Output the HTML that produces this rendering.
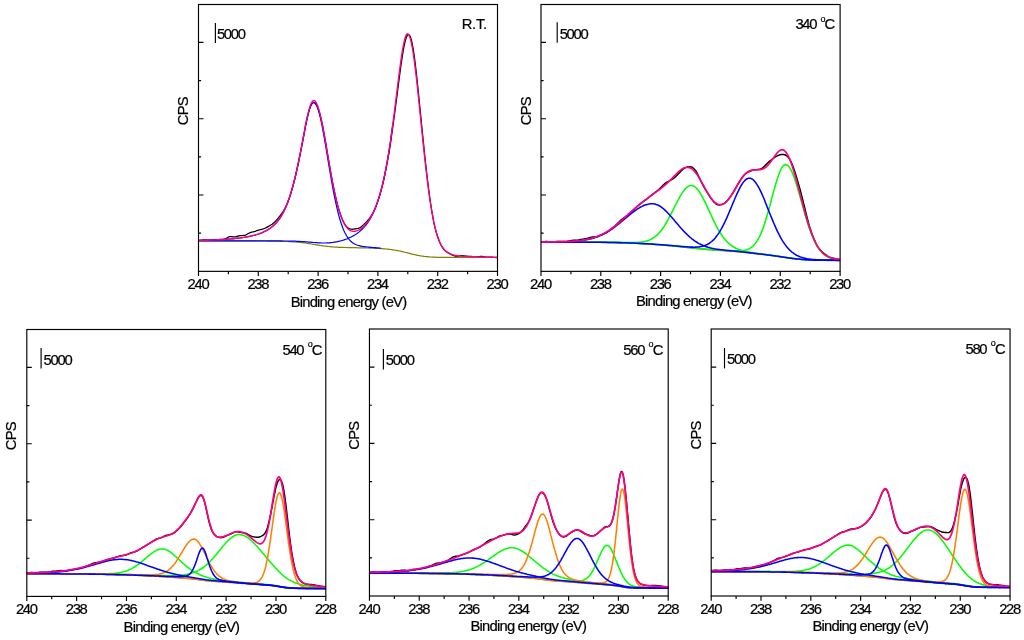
<!DOCTYPE html>
<html><head><meta charset="utf-8"><title>XPS Mo 3d spectra</title>
<style>
html,body{margin:0;padding:0;background:#fff;}
body{width:1024px;height:640px;overflow:hidden;}
svg{display:block;will-change:transform;}
text{font-family:"Liberation Sans",Arial,Helvetica,sans-serif;fill:#000;font-size:14.8px;stroke:#000;stroke-width:0.2px;}
.t{letter-spacing:-1.3px;}
.a{letter-spacing:-0.8px;}
.c{letter-spacing:-0.85px;}
.r{letter-spacing:-0.3px;}
.o{font-size:9px;}
</style></head><body>
<svg width="1024" height="640" viewBox="0 0 1024 640">
<rect width="1024" height="640" fill="#fff"/>
<clipPath id="cRT"><rect x="198.5" y="4.5" width="299.6" height="266.9"/></clipPath>
<g fill="none" stroke-linejoin="round" stroke-width="1.2" clip-path="url(#cRT)">
<path d="M198.5,240.5 199.4,240.4 200.3,240.3 201.2,240.1 202.1,240.0 203.0,239.9 203.9,239.9 204.8,239.9 205.7,239.9 206.6,240.0 207.5,240.1 208.4,240.2 209.3,240.3 210.2,240.2 211.1,240.1 212.0,239.9 212.9,239.8 213.8,239.6 214.7,239.5 215.6,239.5 216.5,239.5 217.4,239.5 218.3,239.5 219.2,239.5 220.0,239.4 220.9,239.4 221.8,239.3 222.7,239.3 223.6,239.2 224.5,239.0 225.4,238.8 226.3,238.4 227.2,237.9 228.1,237.3 229.0,236.8 229.9,236.5 230.8,236.5 231.7,236.6 232.6,236.8 233.5,236.9 234.4,236.9 235.3,236.8 236.2,236.6 237.1,236.3 238.0,236.1 238.9,235.9 239.8,235.7 240.7,235.6 241.6,235.5 242.5,235.5 243.4,235.4 244.3,235.3 245.2,235.1 246.1,234.8 247.0,234.3 247.9,233.8 248.8,233.3 249.7,232.9 250.6,232.5 251.5,232.2 252.4,232.0 253.3,231.8 254.2,231.6 255.1,231.4 256.0,231.0 256.9,230.7 257.8,230.4 258.7,230.1 259.6,229.9 260.5,229.7 261.4,229.4 262.3,229.2 263.1,229.0 264.0,228.7 264.9,228.3 265.8,227.9 266.7,227.4 267.6,226.9 268.5,226.4 269.4,225.8 270.3,225.3 271.2,224.8 272.1,224.2 273.0,223.5 273.9,222.8 274.8,221.9 275.7,220.9 276.6,219.9 277.5,218.8 278.4,217.8 279.3,216.7 280.2,215.6 281.1,214.5 282.0,213.2 282.9,211.9 283.8,210.4 284.7,208.8 285.6,207.0 286.5,205.0 287.4,202.9 288.3,200.6 289.2,198.1 290.1,195.4 291.0,192.5 291.9,189.5 292.8,186.2 293.7,182.8 294.6,179.2 295.5,175.5 296.4,171.6 297.3,167.5 298.2,163.3 299.1,159.0 300.0,154.5 300.9,150.0 301.8,145.4 302.7,140.7 303.6,136.0 304.5,131.3 305.3,126.7 306.2,122.3 307.1,118.1 308.0,114.3 308.9,111.0 309.8,108.1 310.7,105.8 311.6,104.1 312.5,103.0 313.4,102.5 314.3,102.7 315.2,103.3 316.1,104.5 317.0,106.0 317.9,108.1 318.8,110.6 319.7,113.5 320.6,116.9 321.5,120.7 322.4,124.9 323.3,129.4 324.2,134.3 325.1,139.4 326.0,144.7 326.9,150.1 327.8,155.5 328.7,160.9 329.6,166.1 330.5,171.2 331.4,176.2 332.3,181.0 333.2,185.6 334.1,190.0 335.0,194.2 335.9,198.2 336.8,201.9 337.7,205.4 338.6,208.6 339.5,211.6 340.4,214.4 341.3,216.8 342.2,219.1 343.1,221.0 344.0,222.8 344.9,224.3 345.8,225.6 346.7,226.7 347.6,227.6 348.4,228.2 349.3,228.7 350.2,229.0 351.1,229.2 352.0,229.3 352.9,229.2 353.8,229.1 354.7,228.9 355.6,228.8 356.5,228.7 357.4,228.5 358.3,228.4 359.2,228.0 360.1,227.6 361.0,227.0 361.9,226.2 362.8,225.4 363.7,224.6 364.6,223.7 365.5,222.9 366.4,222.0 367.3,221.0 368.2,219.9 369.1,218.8 370.0,217.6 370.9,216.3 371.8,214.9 372.7,213.3 373.6,211.7 374.5,209.8 375.4,207.7 376.3,205.4 377.2,202.9 378.1,200.3 379.0,197.6 379.9,194.7 380.8,191.6 381.7,188.4 382.6,184.8 383.5,181.0 384.4,177.0 385.3,172.7 386.2,168.2 387.1,163.4 388.0,158.5 388.9,153.3 389.8,147.9 390.7,142.2 391.5,136.2 392.4,130.0 393.3,123.5 394.2,116.9 395.1,110.1 396.0,103.2 396.9,96.3 397.8,89.3 398.7,82.4 399.6,75.5 400.5,68.8 401.4,62.4 402.3,56.4 403.2,50.9 404.1,46.1 405.0,42.0 405.9,38.7 406.8,36.3 407.7,34.9 408.6,34.5 409.5,35.2 410.4,36.9 411.3,39.7 412.2,43.5 413.1,48.4 414.0,54.2 414.9,60.9 415.8,68.3 416.7,76.3 417.6,84.8 418.5,93.5 419.4,102.5 420.3,111.5 421.2,120.6 422.1,129.5 423.0,138.4 423.9,147.1 424.8,155.7 425.7,164.0 426.6,172.1 427.5,179.8 428.4,187.3 429.3,194.3 430.2,200.8 431.1,206.8 432.0,212.3 432.9,217.3 433.7,221.9 434.6,225.9 435.5,229.6 436.4,232.8 437.3,235.8 438.2,238.4 439.1,240.7 440.0,242.8 440.9,244.7 441.8,246.4 442.7,247.8 443.6,249.1 444.5,250.1 445.4,250.9 446.3,251.6 447.2,252.2 448.1,252.8 449.0,253.3 449.9,253.8 450.8,254.3 451.7,254.8 452.6,255.3 453.5,255.6 454.4,255.9 455.3,256.1 456.2,256.2 457.1,256.2 458.0,256.1 458.9,256.0 459.8,255.9 460.7,255.7 461.6,255.6 462.5,255.6 463.4,255.7 464.3,255.8 465.2,256.0 466.1,256.1 467.0,256.2 467.9,256.3 468.8,256.3 469.7,256.3 470.6,256.3 471.5,256.4 472.4,256.5 473.3,256.6 474.2,256.7 475.1,256.8 476.0,256.9 476.8,256.9 477.7,256.8 478.6,256.7 479.5,256.5 480.4,256.4 481.3,256.4 482.2,256.4 483.1,256.5 484.0,256.7 484.9,256.8 485.8,257.0 486.7,257.1 487.6,257.1 488.5,257.1 489.4,257.0 490.3,257.0 491.2,257.0 492.1,257.1 493.0,257.3 493.9,257.4 494.8,257.5 495.7,257.6 496.6,257.6 497.5,257.6" stroke="#000000" stroke-width="1.25"/>
<path d="M198.5,240.8 199.4,240.8 200.3,240.8 201.2,240.8 202.1,240.8 203.0,240.8 203.9,240.8 204.8,240.8 205.7,240.8 206.6,240.8 207.5,240.8 208.4,240.8 209.3,240.8 210.2,240.8 211.1,240.8 212.0,240.8 212.9,240.8 213.8,240.8 214.7,240.8 215.6,240.8 216.5,240.8 217.4,240.8 218.3,240.8 219.2,240.8 220.0,240.8 220.9,240.8 221.8,240.8 222.7,240.8 223.6,240.8 224.5,240.8 225.4,240.8 226.3,240.8 227.2,240.8 228.1,240.8 229.0,240.8 229.9,240.8 230.8,240.8 231.7,240.8 232.6,240.8 233.5,240.8 234.4,240.8 235.3,240.8 236.2,240.9 237.1,240.9 238.0,240.9 238.9,240.9 239.8,240.9 240.7,240.9 241.6,240.9 242.5,240.9 243.4,240.9 244.3,240.9 245.2,240.9 246.1,240.9 247.0,240.9 247.9,240.9 248.8,240.9 249.7,240.9 250.6,240.9 251.5,240.9 252.4,240.9 253.3,240.9 254.2,240.9 255.1,240.9 256.0,240.9 256.9,240.9 257.8,241.0 258.7,241.0 259.6,241.0 260.5,241.0 261.4,241.0 262.3,241.0 263.1,241.0 264.0,241.0 264.9,241.0 265.8,241.0 266.7,241.0 267.6,241.1 268.5,241.1 269.4,241.1 270.3,241.1 271.2,241.1 272.1,241.1 273.0,241.1 273.9,241.2 274.8,241.2 275.7,241.2 276.6,241.2 277.5,241.2 278.4,241.2 279.3,241.3 280.2,241.3 281.1,241.3 282.0,241.3 282.9,241.4 283.8,241.4 284.7,241.4 285.6,241.5 286.5,241.5 287.4,241.5 288.3,241.6 289.2,241.6 290.1,241.7 291.0,241.7 291.9,241.8 292.8,241.8 293.7,241.9 294.6,242.0 295.5,242.0 296.4,242.1 297.3,242.2 298.2,242.2 299.1,242.3 300.0,242.4 300.9,242.5 301.8,242.6 302.7,242.7 303.6,242.8 304.5,242.9 305.3,243.0 306.2,243.2 307.1,243.3 308.0,243.4 308.9,243.6 309.8,243.7 310.7,243.9 311.6,244.0 312.5,244.2 313.4,244.3 314.3,244.5 315.2,244.6 316.1,244.8 317.0,244.9 317.9,245.1 318.8,245.2 319.7,245.3 320.6,245.5 321.5,245.6 322.4,245.8 323.3,245.9 324.2,246.0 325.1,246.1 326.0,246.2 326.9,246.3 327.8,246.4 328.7,246.5 329.6,246.6 330.5,246.7 331.4,246.8 332.3,246.9 333.2,246.9 334.1,247.0 335.0,247.1 335.9,247.1 336.8,247.2 337.7,247.2 338.6,247.3 339.5,247.3 340.4,247.3 341.3,247.4 342.2,247.4 343.1,247.4 344.0,247.5 344.9,247.5 345.8,247.5 346.7,247.5 347.6,247.6 348.4,247.6 349.3,247.6 350.2,247.6 351.1,247.6 352.0,247.7 352.9,247.7 353.8,247.7 354.7,247.7 355.6,247.7 356.5,247.7 357.4,247.8 358.3,247.8 359.2,247.8 360.1,247.8 361.0,247.8 361.9,247.9 362.8,247.9 363.7,247.9 364.6,247.9 365.5,248.0 366.4,248.0 367.3,248.0 368.2,248.0 369.1,248.1 370.0,248.1 370.9,248.1 371.8,248.2 372.7,248.2 373.6,248.2 374.5,248.3 375.4,248.3 376.3,248.3 377.2,248.4 378.1,248.4 379.0,248.5 379.9,248.5 380.8,248.6 381.7,248.7 382.6,248.7 383.5,248.8 384.4,248.9 385.3,248.9 386.2,249.0 387.1,249.1 388.0,249.2 388.9,249.3 389.8,249.4 390.7,249.5 391.5,249.6 392.4,249.8 393.3,249.9 394.2,250.0 395.1,250.2 396.0,250.3 396.9,250.5 397.8,250.7 398.7,250.8 399.6,251.0 400.5,251.2 401.4,251.4 402.3,251.6 403.2,251.8 404.1,252.0 405.0,252.3 405.9,252.5 406.8,252.7 407.7,252.9 408.6,253.2 409.5,253.4 410.4,253.6 411.3,253.9 412.2,254.1 413.1,254.3 414.0,254.5 414.9,254.7 415.8,254.9 416.7,255.1 417.6,255.3 418.5,255.5 419.4,255.6 420.3,255.8 421.2,256.0 422.1,256.1 423.0,256.2 423.9,256.3 424.8,256.5 425.7,256.6 426.6,256.7 427.5,256.7 428.4,256.8 429.3,256.9 430.2,257.0 431.1,257.0 432.0,257.1 432.9,257.1 433.7,257.2 434.6,257.2 435.5,257.2 436.4,257.3 437.3,257.3 438.2,257.3 439.1,257.3 440.0,257.3 440.9,257.4 441.8,257.4 442.7,257.4 443.6,257.4 444.5,257.4 445.4,257.4 446.3,257.4 447.2,257.4 448.1,257.4 449.0,257.4 449.9,257.4 450.8,257.4 451.7,257.4 452.6,257.5 453.5,257.5 454.4,257.5 455.3,257.5 456.2,257.5 457.1,257.5 458.0,257.5 458.9,257.5 459.8,257.5 460.7,257.5 461.6,257.5 462.5,257.5 463.4,257.5 464.3,257.5 465.2,257.5 466.1,257.5 467.0,257.5 467.9,257.5 468.8,257.5 469.7,257.5 470.6,257.5 471.5,257.5 472.4,257.5 473.3,257.5 474.2,257.5 475.1,257.5 476.0,257.5 476.8,257.5 477.7,257.5 478.6,257.5 479.5,257.5 480.4,257.5 481.3,257.5 482.2,257.5 483.1,257.5 484.0,257.5 484.9,257.5 485.8,257.5 486.7,257.5 487.6,257.5 488.5,257.5 489.4,257.5 490.3,257.5 491.2,257.5 492.1,257.5 493.0,257.5 493.9,257.5 494.8,257.5 495.7,257.5 496.6,257.5 497.5,257.5" stroke="#808000"/>
<path d="M198.5,240.4 199.4,240.4 200.3,240.4 201.2,240.3 202.1,240.3 203.0,240.3 203.9,240.3 204.8,240.2 205.7,240.2 206.6,240.2 207.5,240.2 208.4,240.1 209.3,240.1 210.2,240.1 211.1,240.1 212.0,240.0 212.9,240.0 213.8,240.0 214.7,239.9 215.6,239.9 216.5,239.8 217.4,239.8 218.3,239.8 219.2,239.7 220.0,239.7 220.9,239.6 221.8,239.6 222.7,239.5 223.6,239.5 224.5,239.4 225.4,239.3 226.3,239.3 227.2,239.2 228.1,239.2 229.0,239.1 229.9,239.0 230.8,238.9 231.7,238.9 232.6,238.8 233.5,238.7 234.4,238.6 235.3,238.5 236.2,238.4 237.1,238.3 238.0,238.2 238.9,238.1 239.8,238.0 240.7,237.9 241.6,237.7 242.5,237.6 243.4,237.5 244.3,237.3 245.2,237.2 246.1,237.0 247.0,236.9 247.9,236.7 248.8,236.5 249.7,236.4 250.6,236.2 251.5,236.0 252.4,235.8 253.3,235.5 254.2,235.3 255.1,235.1 256.0,234.8 256.9,234.5 257.8,234.3 258.7,234.0 259.6,233.7 260.5,233.3 261.4,233.0 262.3,232.6 263.1,232.2 264.0,231.8 264.9,231.4 265.8,231.0 266.7,230.5 267.6,230.0 268.5,229.4 269.4,228.8 270.3,228.2 271.2,227.6 272.1,226.9 273.0,226.1 273.9,225.3 274.8,224.4 275.7,223.5 276.6,222.5 277.5,221.5 278.4,220.3 279.3,219.1 280.2,217.8 281.1,216.4 282.0,214.9 282.9,213.3 283.8,211.6 284.7,209.8 285.6,207.8 286.5,205.8 287.4,203.5 288.3,201.2 289.2,198.6 290.1,196.0 291.0,193.1 291.9,190.1 292.8,186.9 293.7,183.6 294.6,180.0 295.5,176.3 296.4,172.5 297.3,168.4 298.2,164.2 299.1,159.9 300.0,155.4 300.9,150.9 301.8,146.2 302.7,141.5 303.6,136.8 304.5,132.2 305.3,127.6 306.2,123.2 307.1,119.0 308.0,115.2 308.9,111.7 309.8,108.6 310.7,106.1 311.6,104.2 312.5,103.0 313.4,102.4 314.3,102.5 315.2,103.2 316.1,104.5 317.0,106.4 317.9,108.8 318.8,111.7 319.7,115.1 320.6,118.9 321.5,123.1 322.4,127.7 323.3,132.5 324.2,137.5 325.1,142.7 326.0,148.0 326.9,153.4 327.8,158.9 328.7,164.3 329.6,169.7 330.5,175.0 331.4,180.2 332.3,185.2 333.2,190.1 334.1,194.8 335.0,199.2 335.9,203.4 336.8,207.4 337.7,211.2 338.6,214.7 339.5,218.0 340.4,221.0 341.3,223.8 342.2,226.3 343.1,228.7 344.0,230.8 344.9,232.7 345.8,234.4 346.7,236.0 347.6,237.4 348.4,238.6 349.3,239.7 350.2,240.7 351.1,241.5 352.0,242.3 352.9,242.9 353.8,243.5 354.7,244.0 355.6,244.5 356.5,244.8 357.4,245.2 358.3,245.5 359.2,245.7 360.1,245.9 361.0,246.1 361.9,246.3 362.8,246.5 363.7,246.6 364.6,246.7 365.5,246.8 366.4,246.9 367.3,247.0 368.2,247.1 369.1,247.2 370.0,247.3 370.9,247.4 371.8,247.4 372.7,247.5 373.6,247.6 374.5,247.6 375.4,247.7 376.3,247.8 377.2,247.9 378.1,247.9 379.0,248.0 379.9,248.1 380.8,248.2" stroke="#0000ff"/>
<path d="M198.5,240.8 199.4,240.8 200.3,240.8 201.2,240.8 202.1,240.8 203.0,240.8 203.9,240.8 204.8,240.8 205.7,240.8 206.6,240.8 207.5,240.8 208.4,240.8 209.3,240.8 210.2,240.8 211.1,240.8 212.0,240.8 212.9,240.8 213.8,240.8 214.7,240.8 215.6,240.8 216.5,240.8 217.4,240.8 218.3,240.8 219.2,240.8 220.0,240.8 220.9,240.8 221.8,240.8 222.7,240.8 223.6,240.8 224.5,240.8 225.4,240.8 226.3,240.8 227.2,240.8 228.1,240.8 229.0,240.8 229.9,240.8 230.8,240.8 231.7,240.8 232.6,240.8 233.5,240.8 234.4,240.8 235.3,240.8 236.2,240.8 237.1,240.8 238.0,240.8 238.9,240.8 239.8,240.8 240.7,240.8 241.6,240.8 242.5,240.8 243.4,240.8 244.3,240.8 245.2,240.8 246.1,240.8 247.0,240.8 247.9,240.8 248.8,240.8 249.7,240.8 250.6,240.8 251.5,240.8 252.4,240.8 253.3,240.8 254.2,240.8 255.1,240.8 256.0,240.8 256.9,240.8 257.8,240.8 258.7,240.8 259.6,240.8 260.5,240.9 261.4,240.9 262.3,240.9 263.1,240.9 264.0,240.9 264.9,240.9 265.8,240.9 266.7,240.9 267.6,240.9 268.5,240.9 269.4,240.9 270.3,240.9 271.2,240.9 272.1,240.9 273.0,240.9 273.9,240.9 274.8,240.9 275.7,240.9 276.6,240.9 277.5,240.9 278.4,240.9 279.3,240.9 280.2,240.9 281.1,240.9 282.0,240.9 282.9,241.0 283.8,241.0 284.7,241.0 285.6,241.0 286.5,241.0 287.4,241.0 288.3,241.0 289.2,241.1 290.1,241.1 291.0,241.1 291.9,241.1 292.8,241.2 293.7,241.2 294.6,241.2 295.5,241.2 296.4,241.3 297.3,241.3 298.2,241.4 299.1,241.4 300.0,241.4 300.9,241.5 301.8,241.6 302.7,241.6 303.6,241.7 304.5,241.7 305.3,241.8 306.2,241.9 307.1,241.9 308.0,242.0 308.9,242.1 309.8,242.2 310.7,242.2 311.6,242.3 312.5,242.4 313.4,242.5 314.3,242.5 315.2,242.6 316.1,242.7 317.0,242.7 317.9,242.8 318.8,242.9 319.7,242.9 320.6,242.9 321.5,243.0 322.4,243.0 323.3,243.0 324.2,243.0 325.1,243.0 326.0,243.0 326.9,242.9 327.8,242.9 328.7,242.8 329.6,242.8 330.5,242.7 331.4,242.6 332.3,242.5 333.2,242.4 334.1,242.2 335.0,242.1 335.9,241.9 336.8,241.8 337.7,241.6 338.6,241.4 339.5,241.2 340.4,241.0 341.3,240.7 342.2,240.5 343.1,240.2 344.0,239.9 344.9,239.6 345.8,239.3 346.7,239.0 347.6,238.6 348.4,238.2 349.3,237.8 350.2,237.4 351.1,237.0 352.0,236.5 352.9,236.1 353.8,235.5 354.7,235.0 355.6,234.4 356.5,233.9 357.4,233.2 358.3,232.6 359.2,231.9 360.1,231.1 361.0,230.3 361.9,229.5 362.8,228.6 363.7,227.7 364.6,226.7 365.5,225.6 366.4,224.5 367.3,223.3 368.2,222.0 369.1,220.6 370.0,219.1 370.9,217.6 371.8,215.9 372.7,214.1 373.6,212.2 374.5,210.2 375.4,208.0 376.3,205.6 377.2,203.2 378.1,200.5 379.0,197.6 379.9,194.6 380.8,191.4 381.7,187.9 382.6,184.3 383.5,180.4 384.4,176.2 385.3,171.8 386.2,167.2 387.1,162.3 388.0,157.1 388.9,151.6 389.8,145.9 390.7,139.9 391.5,133.7 392.4,127.2" stroke="#0000ff"/>
<path d="M198.5,240.4 199.4,240.4 200.3,240.4 201.2,240.3 202.1,240.3 203.0,240.3 203.9,240.3 204.8,240.2 205.7,240.2 206.6,240.2 207.5,240.2 208.4,240.1 209.3,240.1 210.2,240.1 211.1,240.0 212.0,240.0 212.9,240.0 213.8,239.9 214.7,239.9 215.6,239.9 216.5,239.8 217.4,239.8 218.3,239.7 219.2,239.7 220.0,239.7 220.9,239.6 221.8,239.6 222.7,239.5 223.6,239.4 224.5,239.4 225.4,239.3 226.3,239.3 227.2,239.2 228.1,239.1 229.0,239.1 229.9,239.0 230.8,238.9 231.7,238.8 232.6,238.8 233.5,238.7 234.4,238.6 235.3,238.5 236.2,238.4 237.1,238.3 238.0,238.2 238.9,238.1 239.8,238.0 240.7,237.8 241.6,237.7 242.5,237.6 243.4,237.4 244.3,237.3 245.2,237.1 246.1,237.0 247.0,236.8 247.9,236.7 248.8,236.5 249.7,236.3 250.6,236.1 251.5,235.9 252.4,235.7 253.3,235.4 254.2,235.2 255.1,235.0 256.0,234.7 256.9,234.4 257.8,234.2 258.7,233.9 259.6,233.5 260.5,233.2 261.4,232.9 262.3,232.5 263.1,232.1 264.0,231.7 264.9,231.2 265.8,230.8 266.7,230.3 267.6,229.8 268.5,229.2 269.4,228.6 270.3,228.0 271.2,227.3 272.1,226.6 273.0,225.9 273.9,225.0 274.8,224.2 275.7,223.2 276.6,222.2 277.5,221.2 278.4,220.0 279.3,218.8 280.2,217.5 281.1,216.1 282.0,214.5 282.9,212.9 283.8,211.2 284.7,209.3 285.6,207.4 286.5,205.3 287.4,203.0 288.3,200.6 289.2,198.1 290.1,195.4 291.0,192.5 291.9,189.4 292.8,186.2 293.7,182.9 294.6,179.3 295.5,175.6 296.4,171.7 297.3,167.6 298.2,163.4 299.1,159.0 300.0,154.5 300.9,149.9 301.8,145.2 302.7,140.4 303.6,135.7 304.5,131.0 305.3,126.3 306.2,121.9 307.1,117.7 308.0,113.7 308.9,110.2 309.8,107.1 310.7,104.5 311.6,102.6 312.5,101.2 313.4,100.6 314.3,100.6 315.2,101.2 316.1,102.5 317.0,104.3 317.9,106.6 318.8,109.4 319.7,112.7 320.6,116.4 321.5,120.5 322.4,124.9 323.3,129.6 324.2,134.5 325.1,139.5 326.0,144.7 326.9,150.0 327.8,155.3 328.7,160.6 329.6,165.8 330.5,171.0 331.4,176.0 332.3,180.8 333.2,185.5 334.1,190.0 335.0,194.2 335.9,198.3 336.8,202.0 337.7,205.6 338.6,208.8 339.5,211.8 340.4,214.6 341.3,217.1 342.2,219.4 343.1,221.4 344.0,223.2 344.9,224.8 345.8,226.2 346.7,227.4 347.6,228.4 348.4,229.2 349.3,229.9 350.2,230.5 351.1,230.9 352.0,231.1 352.9,231.3 353.8,231.4 354.7,231.3 355.6,231.2 356.5,230.9 357.4,230.6 358.3,230.2 359.2,229.8 360.1,229.2 361.0,228.6 361.9,227.9 362.8,227.2 363.7,226.4 364.6,225.5 365.5,224.5 366.4,223.4 367.3,222.3 368.2,221.1 369.1,219.8 370.0,218.3 370.9,216.8 371.8,215.2 372.7,213.4 373.6,211.6 374.5,209.5 375.4,207.4 376.3,205.1 377.2,202.6 378.1,200.0 379.0,197.2 379.9,194.1 380.8,190.9 381.7,187.5 382.6,183.8 383.5,180.0 384.4,175.8 385.3,171.5 386.2,166.8 387.1,161.9 388.0,156.8 388.9,151.3 389.8,145.6 390.7,139.6 391.5,133.4 392.4,126.9 393.3,120.2 394.2,113.3 395.1,106.2 396.0,99.0 396.9,91.7 397.8,84.5 398.7,77.3 399.6,70.3 400.5,63.6 401.4,57.2 402.3,51.4 403.2,46.3 404.1,41.9 405.0,38.3 405.9,35.8 406.8,34.2 407.7,33.8 408.6,34.5 409.5,36.2 410.4,38.8 411.3,42.5 412.2,47.1 413.1,52.5 414.0,58.6 414.9,65.4 415.8,72.8 416.7,80.7 417.6,89.0 418.5,97.6 419.4,106.3 420.3,115.2 421.2,124.1 422.1,133.0 423.0,141.7 423.9,150.3 424.8,158.6 425.7,166.7 426.6,174.4 427.5,181.7 428.4,188.7 429.3,195.2 430.2,201.3 431.1,207.0 432.0,212.3 432.9,217.2 433.7,221.6 434.6,225.6 435.5,229.3 436.4,232.6 437.3,235.6 438.2,238.2 439.1,240.6 440.0,242.7 440.9,244.5 441.8,246.1 442.7,247.5 443.6,248.7 444.5,249.8 445.4,250.7 446.3,251.5 447.2,252.2 448.1,252.8 449.0,253.3 449.9,253.8 450.8,254.1 451.7,254.5 452.6,254.7 453.5,255.0 454.4,255.2 455.3,255.4 456.2,255.5 457.1,255.6 458.0,255.8 458.9,255.9 459.8,256.0 460.7,256.1 461.6,256.1 462.5,256.2 463.4,256.3 464.3,256.3 465.2,256.4 466.1,256.4 467.0,256.5 467.9,256.5 468.8,256.6 469.7,256.6 470.6,256.7 471.5,256.7 472.4,256.7 473.3,256.8 474.2,256.8 475.1,256.8 476.0,256.8 476.8,256.9 477.7,256.9 478.6,256.9 479.5,256.9 480.4,257.0 481.3,257.0 482.2,257.0 483.1,257.0 484.0,257.1 484.9,257.1 485.8,257.1 486.7,257.1 487.6,257.1 488.5,257.1 489.4,257.2 490.3,257.2 491.2,257.2 492.1,257.2 493.0,257.2 493.9,257.2 494.8,257.2 495.7,257.2 496.6,257.3 497.5,257.3" stroke="#ff0080" stroke-width="1.4"/>
</g>
<rect x="198.5" y="4.5" width="299.00" height="266.85" fill="none" stroke="#000" stroke-width="1.15"/>
<path d="M198.5,42.40h5.0M198.5,80.56h2.6M198.5,118.72h5.0M198.5,156.88h2.6M198.5,195.03h5.0M198.5,233.19h2.6M198.50,271.35v4.7M228.40,271.35v2.9M258.30,271.35v4.7M288.20,271.35v2.9M318.10,271.35v4.7M348.00,271.35v2.9M377.90,271.35v4.7M407.80,271.35v2.9M437.70,271.35v4.7M467.60,271.35v2.9M497.50,271.35v4.7" stroke="#000" stroke-width="1.15" fill="none"/>
<text x="198.00" y="288.95" text-anchor="middle" class="t">240</text>
<text x="257.80" y="288.95" text-anchor="middle" class="t">238</text>
<text x="317.60" y="288.95" text-anchor="middle" class="t">236</text>
<text x="377.40" y="288.95" text-anchor="middle" class="t">234</text>
<text x="437.20" y="288.95" text-anchor="middle" class="t">232</text>
<text x="497.00" y="288.95" text-anchor="middle" class="t">230</text>
<text x="348.50" y="306.90" text-anchor="middle" class="a">Binding energy (eV)</text>
<text transform="translate(188.00,111.20) rotate(-90)" text-anchor="middle" class="c">CPS</text>
<path d="M215.40,23.00V43.00" stroke="#000" stroke-width="1.15"/>
<text x="216.90" y="38.80" class="t">5000</text>
<text x="461.70" y="28.90" class="r">R.T.</text>
<clipPath id="c340"><rect x="541.0" y="4.5" width="299.7" height="266.9"/></clipPath>
<g fill="none" stroke-linejoin="round" stroke-width="1.55" clip-path="url(#c340)">
<path d="M541.0,242.1 541.9,242.0 542.8,241.8 543.7,241.7 544.6,241.6 545.5,241.5 546.4,241.5 547.3,241.5 548.2,241.6 549.1,241.7 550.0,241.8 550.9,241.9 551.8,242.0 552.7,242.0 553.6,241.9 554.5,241.7 555.4,241.6 556.3,241.5 557.2,241.4 558.1,241.4 559.0,241.4 559.9,241.4 560.8,241.5 561.7,241.5 562.6,241.5 563.5,241.5 564.4,241.5 565.3,241.5 566.1,241.4 567.0,241.4 567.9,241.3 568.8,241.2 569.7,240.9 570.6,240.7 571.5,240.5 572.4,240.4 573.3,240.3 574.2,240.3 575.1,240.3 576.0,240.2 576.9,240.2 577.8,240.1 578.7,239.9 579.6,239.7 580.5,239.5 581.4,239.4 582.3,239.2 583.2,239.1 584.1,238.9 585.0,238.8 585.9,238.7 586.8,238.5 587.7,238.3 588.6,238.0 589.5,237.7 590.4,237.4 591.3,237.1 592.2,237.0 593.1,236.9 594.0,236.9 594.9,236.9 595.8,236.8 596.7,236.7 597.6,236.5 598.5,236.1 599.4,235.8 600.3,235.4 601.2,235.0 602.1,234.6 603.0,234.2 603.9,233.8 604.8,233.4 605.7,233.0 606.6,232.5 607.5,231.9 608.4,231.2 609.3,230.5 610.2,229.8 611.1,229.1 612.0,228.3 612.9,227.6 613.8,226.9 614.7,226.2 615.6,225.4 616.4,224.6 617.3,223.7 618.2,222.8 619.1,221.9 620.0,221.0 620.9,220.1 621.8,219.4 622.7,218.7 623.6,218.0 624.5,217.4 625.4,216.7 626.3,216.0 627.2,215.4 628.1,214.6 629.0,213.9 629.9,213.2 630.8,212.4 631.7,211.6 632.6,210.7 633.5,209.9 634.4,209.0 635.3,208.2 636.2,207.4 637.1,206.5 638.0,205.7 638.9,205.0 639.8,204.2 640.7,203.5 641.6,202.8 642.5,202.2 643.4,201.5 644.3,200.9 645.2,200.2 646.1,199.6 647.0,198.8 647.9,198.1 648.8,197.3 649.7,196.5 650.6,195.8 651.5,195.1 652.4,194.4 653.3,193.7 654.2,193.1 655.1,192.4 656.0,191.7 656.9,191.0 657.8,190.3 658.7,189.5 659.6,188.7 660.5,187.8 661.4,186.9 662.3,185.9 663.2,185.0 664.1,184.2 665.0,183.4 665.8,182.8 666.7,182.2 667.6,181.8 668.5,181.3 669.4,180.9 670.3,180.4 671.2,179.9 672.1,179.4 673.0,178.8 673.9,178.1 674.8,177.4 675.7,176.6 676.6,175.7 677.5,174.8 678.4,173.8 679.3,172.9 680.2,171.9 681.1,171.0 682.0,170.1 682.9,169.4 683.8,168.7 684.7,168.1 685.6,167.7 686.5,167.3 687.4,167.0 688.3,166.9 689.2,166.8 690.1,166.8 691.0,166.9 691.9,167.2 692.8,167.7 693.7,168.4 694.6,169.4 695.5,170.5 696.4,171.9 697.3,173.5 698.2,175.3 699.1,177.2 700.0,179.1 700.9,181.1 701.8,182.9 702.7,184.7 703.6,186.3 704.5,187.9 705.4,189.4 706.3,190.8 707.2,192.3 708.1,193.8 709.0,195.3 709.9,196.7 710.8,198.1 711.7,199.3 712.6,200.4 713.5,201.5 714.4,202.5 715.3,203.3 716.1,204.0 717.0,204.5 717.9,204.8 718.8,204.9 719.7,204.9 720.6,204.8 721.5,204.6 722.4,204.3 723.3,203.9 724.2,203.4 725.1,202.8 726.0,201.9 726.9,201.0 727.8,199.9 728.7,198.8 729.6,197.6 730.5,196.4 731.4,195.1 732.3,193.7 733.2,192.3 734.1,190.7 735.0,189.2 735.9,187.6 736.8,186.0 737.7,184.4 738.6,182.9 739.5,181.5 740.4,180.1 741.3,178.8 742.2,177.5 743.1,176.3 744.0,175.3 744.9,174.3 745.8,173.5 746.7,172.8 747.6,172.3 748.5,171.9 749.4,171.5 750.3,171.1 751.2,170.8 752.1,170.4 753.0,170.1 753.9,169.9 754.8,169.7 755.7,169.6 756.6,169.6 757.5,169.5 758.4,169.5 759.3,169.4 760.2,169.1 761.1,168.8 762.0,168.3 762.9,167.6 763.8,166.9 764.7,166.0 765.5,165.1 766.4,164.2 767.3,163.3 768.2,162.4 769.1,161.6 770.0,160.9 770.9,160.2 771.8,159.5 772.7,158.8 773.6,158.2 774.5,157.5 775.4,156.9 776.3,156.4 777.2,155.9 778.1,155.5 779.0,155.1 779.9,154.8 780.8,154.6 781.7,154.4 782.6,154.4 783.5,154.4 784.4,154.6 785.3,155.0 786.2,155.5 787.1,156.2 788.0,157.0 788.9,158.1 789.8,159.5 790.7,161.1 791.6,163.0 792.5,165.2 793.4,167.5 794.3,170.1 795.2,172.8 796.1,175.7 797.0,178.7 797.9,181.7 798.8,184.9 799.7,188.2 800.6,191.5 801.5,195.0 802.4,198.5 803.3,202.1 804.2,205.7 805.1,209.4 806.0,213.1 806.9,216.7 807.8,220.3 808.7,223.6 809.6,226.7 810.5,229.6 811.4,232.2 812.3,234.7 813.2,236.9 814.1,239.1 815.0,241.1 815.8,243.0 816.7,244.8 817.6,246.4 818.5,247.8 819.4,249.1 820.3,250.1 821.2,251.1 822.1,251.9 823.0,252.6 823.9,253.3 824.8,254.0 825.7,254.7 826.6,255.4 827.5,256.1 828.4,256.7 829.3,257.1 830.2,257.5 831.1,257.7 832.0,257.9 832.9,258.1 833.8,258.3 834.7,258.6 835.6,258.9 836.5,259.1 837.4,259.3 838.3,259.5 839.2,259.6 840.1,259.7" stroke="#000000" stroke-width="1.45"/>
<path d="M541.0,242.2 541.9,242.2 542.8,242.2 543.7,242.2 544.6,242.2 545.5,242.2 546.4,242.2 547.3,242.2 548.2,242.2 549.1,242.2 550.0,242.2 550.9,242.2 551.8,242.2 552.7,242.2 553.6,242.2 554.5,242.2 555.4,242.2 556.3,242.2 557.2,242.2 558.1,242.2 559.0,242.2 559.9,242.2 560.8,242.2 561.7,242.2 562.6,242.2 563.5,242.2 564.4,242.2 565.3,242.2 566.1,242.2 567.0,242.2 567.9,242.2 568.8,242.2 569.7,242.2 570.6,242.2 571.5,242.2 572.4,242.2 573.3,242.2 574.2,242.2 575.1,242.2 576.0,242.2 576.9,242.2 577.8,242.2 578.7,242.2 579.6,242.2 580.5,242.2 581.4,242.2 582.3,242.2 583.2,242.2 584.1,242.2 585.0,242.2 585.9,242.3 586.8,242.3 587.7,242.3 588.6,242.3 589.5,242.3 590.4,242.3 591.3,242.3 592.2,242.3 593.1,242.3 594.0,242.3 594.9,242.3 595.8,242.3 596.7,242.3 597.6,242.3 598.5,242.3 599.4,242.3 600.3,242.3 601.2,242.4 602.1,242.4 603.0,242.4 603.9,242.4 604.8,242.4 605.7,242.4 606.6,242.4 607.5,242.4 608.4,242.4 609.3,242.5 610.2,242.5 611.1,242.5 612.0,242.5 612.9,242.5 613.8,242.5 614.7,242.6 615.6,242.6 616.4,242.6 617.3,242.6 618.2,242.7 619.1,242.7 620.0,242.7 620.9,242.7 621.8,242.8 622.7,242.8 623.6,242.8 624.5,242.8 625.4,242.9 626.3,242.9 627.2,242.9 628.1,243.0 629.0,243.0 629.9,243.0 630.8,243.1 631.7,243.1 632.6,243.2 633.5,243.2 634.4,243.2 635.3,243.3 636.2,243.3 637.1,243.4 638.0,243.4 638.9,243.5 639.8,243.5 640.7,243.6 641.6,243.6 642.5,243.7 643.4,243.7 644.3,243.8 645.2,243.8 646.1,243.9 647.0,243.9 647.9,244.0 648.8,244.0 649.7,244.1 650.6,244.2 651.5,244.2 652.4,244.3 653.3,244.3 654.2,244.4 655.1,244.5 656.0,244.5 656.9,244.6 657.8,244.7 658.7,244.7 659.6,244.8 660.5,244.9 661.4,244.9 662.3,245.0 663.2,245.1 664.1,245.2 665.0,245.2 665.8,245.3 666.7,245.4 667.6,245.5 668.5,245.5 669.4,245.6 670.3,245.7 671.2,245.8 672.1,245.9 673.0,246.0 673.9,246.0 674.8,246.1 675.7,246.2 676.6,246.3 677.5,246.4 678.4,246.5 679.3,246.6 680.2,246.7 681.1,246.8 682.0,246.9 682.9,247.0 683.8,247.1 684.7,247.2 685.6,247.3 686.5,247.4 687.4,247.5 688.3,247.6 689.2,247.7 690.1,247.8 691.0,247.9 691.9,248.0 692.8,248.1 693.7,248.2 694.6,248.2 695.5,248.3 696.4,248.4 697.3,248.5 698.2,248.6 699.1,248.7 700.0,248.8 700.9,248.9 701.8,249.0 702.7,249.1 703.6,249.1 704.5,249.2 705.4,249.3 706.3,249.4 707.2,249.4 708.1,249.5 709.0,249.6 709.9,249.7 710.8,249.7 711.7,249.8 712.6,249.9 713.5,249.9 714.4,250.0 715.3,250.0 716.1,250.1 717.0,250.2 717.9,250.2 718.8,250.3 719.7,250.3 720.6,250.4 721.5,250.4 722.4,250.5 723.3,250.6 724.2,250.6 725.1,250.7 726.0,250.7 726.9,250.8 727.8,250.9 728.7,250.9 729.6,251.0 730.5,251.0 731.4,251.1 732.3,251.2 733.2,251.3 734.1,251.3 735.0,251.4 735.9,251.5 736.8,251.6 737.7,251.6 738.6,251.7 739.5,251.8 740.4,251.9 741.3,252.0 742.2,252.1 743.1,252.2 744.0,252.3 744.9,252.4 745.8,252.5 746.7,252.6 747.6,252.7 748.5,252.8 749.4,252.9 750.3,253.0 751.2,253.1 752.1,253.2 753.0,253.3 753.9,253.4 754.8,253.5 755.7,253.6 756.6,253.7 757.5,253.8 758.4,253.9 759.3,254.0 760.2,254.1 761.1,254.2 762.0,254.3 762.9,254.4 763.8,254.5 764.7,254.6 765.5,254.8 766.4,254.9 767.3,255.0 768.2,255.1 769.1,255.2 770.0,255.3 770.9,255.4 771.8,255.5 772.7,255.7 773.6,255.8 774.5,255.9 775.4,256.0 776.3,256.2 777.2,256.3 778.1,256.4 779.0,256.5 779.9,256.7 780.8,256.8 781.7,256.9 782.6,257.1 783.5,257.2 784.4,257.3 785.3,257.5 786.2,257.6 787.1,257.7 788.0,257.9 788.9,258.0 789.8,258.1 790.7,258.2 791.6,258.4 792.5,258.5 793.4,258.6 794.3,258.7 795.2,258.8 796.1,258.9 797.0,259.0 797.9,259.1 798.8,259.2 799.7,259.3 800.6,259.4 801.5,259.5 802.4,259.5 803.3,259.6 804.2,259.7 805.1,259.7 806.0,259.8 806.9,259.8 807.8,259.9 808.7,259.9 809.6,260.0 810.5,260.0 811.4,260.1 812.3,260.1 813.2,260.1 814.1,260.2 815.0,260.2 815.8,260.2 816.7,260.2 817.6,260.2 818.5,260.3 819.4,260.3 820.3,260.3 821.2,260.3 822.1,260.3 823.0,260.3 823.9,260.3 824.8,260.3 825.7,260.3 826.6,260.4 827.5,260.4 828.4,260.4 829.3,260.4 830.2,260.4 831.1,260.4 832.0,260.4 832.9,260.4 833.8,260.4 834.7,260.4 835.6,260.4 836.5,260.4 837.4,260.4 838.3,260.4 839.2,260.4 840.1,260.4" stroke="#808000"/>
<path d="M541.0,242.1 541.9,242.1 542.8,242.1 543.7,242.1 544.6,242.1 545.5,242.1 546.4,242.1 547.3,242.1 548.2,242.1 549.1,242.1 550.0,242.1 550.9,242.1 551.8,242.1 552.7,242.1 553.6,242.1 554.5,242.1 555.4,242.1 556.3,242.1 557.2,242.1 558.1,242.1 559.0,242.1 559.9,242.1 560.8,242.1 561.7,242.1 562.6,242.1 563.5,242.1 564.4,242.1 565.3,242.1 566.1,242.1 567.0,242.1 567.9,242.1 568.8,242.1 569.7,242.1 570.6,242.1 571.5,242.1 572.4,242.1 573.3,242.1 574.2,242.1 575.1,242.1 576.0,242.1 576.9,242.1 577.8,242.1 578.7,242.1 579.6,242.1 580.5,242.1 581.4,242.1 582.3,242.1 583.2,242.1 584.1,242.1 585.0,242.1 585.9,242.1 586.8,242.1 587.7,242.1 588.6,242.1 589.5,242.1 590.4,242.1 591.3,242.1 592.2,242.1 593.1,242.2 594.0,242.2 594.9,242.2 595.8,242.2 596.7,242.2 597.6,242.2 598.5,242.2 599.4,242.2 600.3,242.2 601.2,242.2 602.1,242.2 603.0,242.2 603.9,242.2 604.8,242.2 605.7,242.2 606.6,242.2 607.5,242.2 608.4,242.3 609.3,242.3 610.2,242.3 611.1,242.3 612.0,242.3 612.9,242.3 613.8,242.3 614.7,242.3 615.6,242.4 616.4,242.4 617.3,242.4 618.2,242.4 619.1,242.4 620.0,242.4 620.9,242.5 621.8,242.5 622.7,242.5 623.6,242.5 624.5,242.5 625.4,242.5 626.3,242.5 627.2,242.6 628.1,242.6 629.0,242.6 629.9,242.6 630.8,242.6 631.7,242.6 632.6,242.6 633.5,242.6 634.4,242.5 635.3,242.5 636.2,242.5 637.1,242.4 638.0,242.4 638.9,242.3 639.8,242.2 640.7,242.2 641.6,242.0 642.5,241.9 643.4,241.8 644.3,241.6 645.2,241.4 646.1,241.1 647.0,240.9 647.9,240.6 648.8,240.2 649.7,239.9 650.6,239.5 651.5,239.0 652.4,238.5 653.3,237.9 654.2,237.3 655.1,236.6 656.0,235.9 656.9,235.1 657.8,234.3 658.7,233.3 659.6,232.4 660.5,231.3 661.4,230.2 662.3,229.0 663.2,227.7 664.1,226.4 665.0,225.0 665.8,223.5 666.7,222.0 667.6,220.5 668.5,218.8 669.4,217.2 670.3,215.5 671.2,213.7 672.1,211.9 673.0,210.1 673.9,208.3 674.8,206.5 675.7,204.7 676.6,203.0 677.5,201.2 678.4,199.5 679.3,197.8 680.2,196.2 681.1,194.7 682.0,193.3 682.9,191.9 683.8,190.7 684.7,189.5 685.6,188.5 686.5,187.7 687.4,186.9 688.3,186.3 689.2,185.9 690.1,185.6 691.0,185.5 691.9,185.6 692.8,185.8 693.7,186.1 694.6,186.7 695.5,187.3 696.4,188.2 697.3,189.1 698.2,190.3 699.1,191.5 700.0,192.8 700.9,194.3 701.8,195.9 702.7,197.5 703.6,199.3 704.5,201.1 705.4,202.9 706.3,204.8 707.2,206.7 708.1,208.7 709.0,210.6 709.9,212.6 710.8,214.5 711.7,216.5 712.6,218.4 713.5,220.3 714.4,222.1 715.3,223.9 716.1,225.6 717.0,227.3 717.9,229.0 718.8,230.5 719.7,232.0 720.6,233.5 721.5,234.8 722.4,236.1 723.3,237.4 724.2,238.5 725.1,239.6 726.0,240.6 726.9,241.6 727.8,242.5 728.7,243.3 729.6,244.1 730.5,244.8 731.4,245.5 732.3,246.1 733.2,246.7 734.1,247.2 735.0,247.7 735.9,248.2 736.8,248.6 737.7,249.0 738.6,249.4 739.5,249.7 740.4,250.0 741.3,250.3 742.2,250.6 743.1,250.8 744.0,251.0 744.9,251.3 745.8,251.5 746.7,251.7 747.6,251.8 748.5,252.0 749.4,252.2 750.3,252.3 751.2,252.5 752.1,252.6 753.0,252.8 753.9,252.9 754.8,253.1 755.7,253.2 756.6,253.3 757.5,253.4 758.4,253.6 759.3,253.7 760.2,253.8 761.1,253.9 762.0,254.0 762.9,254.2 763.8,254.3 764.7,254.4 765.5,254.5 766.4,254.6 767.3,254.7 768.2,254.9 769.1,255.0 770.0,255.1 770.9,255.2 771.8,255.3 772.7,255.5 773.6,255.6 774.5,255.7 775.4,255.8 776.3,256.0 777.2,256.1 778.1,256.2 779.0,256.4 779.9,256.5 780.8,256.6 781.7,256.8 782.6,256.9 783.5,257.1 784.4,257.2 785.3,257.3 786.2,257.5 787.1,257.6 788.0,257.7 788.9,257.9 789.8,258.0 790.7,258.1 791.6,258.2 792.5,258.4 793.4,258.5 794.3,258.6 795.2,258.7 796.1,258.8 797.0,258.9 797.9,259.0 798.8,259.1 799.7,259.2 800.6,259.3 801.5,259.3 802.4,259.4 803.3,259.5 804.2,259.6 805.1,259.6 806.0,259.7 806.9,259.7 807.8,259.8 808.7,259.8 809.6,259.9 810.5,259.9 811.4,260.0 812.3,260.0 813.2,260.0 814.1,260.1 815.0,260.1 815.8,260.1 816.7,260.1 817.6,260.2 818.5,260.2 819.4,260.2 820.3,260.2 821.2,260.2 822.1,260.2 823.0,260.2 823.9,260.3 824.8,260.3 825.7,260.3 826.6,260.3 827.5,260.3 828.4,260.3 829.3,260.3 830.2,260.3 831.1,260.3 832.0,260.3 832.9,260.3 833.8,260.3 834.7,260.3 835.6,260.3 836.5,260.3 837.4,260.3 838.3,260.3 839.2,260.3 840.1,260.3" stroke="#00ff00"/>
<path d="M541.0,242.2 541.9,242.2 542.8,242.2 543.7,242.2 544.6,242.2 545.5,242.2 546.4,242.2 547.3,242.2 548.2,242.2 549.1,242.2 550.0,242.2 550.9,242.2 551.8,242.2 552.7,242.2 553.6,242.2 554.5,242.2 555.4,242.2 556.3,242.2 557.2,242.2 558.1,242.2 559.0,242.2 559.9,242.2 560.8,242.2 561.7,242.2 562.6,242.2 563.5,242.2 564.4,242.2 565.3,242.2 566.1,242.2 567.0,242.2 567.9,242.2 568.8,242.2 569.7,242.2 570.6,242.2 571.5,242.2 572.4,242.2 573.3,242.2 574.2,242.2 575.1,242.2 576.0,242.2 576.9,242.2 577.8,242.2 578.7,242.2 579.6,242.2 580.5,242.2 581.4,242.2 582.3,242.2 583.2,242.2 584.1,242.2 585.0,242.2 585.9,242.2 586.8,242.2 587.7,242.2 588.6,242.2 589.5,242.2 590.4,242.2 591.3,242.2 592.2,242.2 593.1,242.3 594.0,242.3 594.9,242.3 595.8,242.3 596.7,242.3 597.6,242.3 598.5,242.3 599.4,242.3 600.3,242.3 601.2,242.3 602.1,242.3 603.0,242.3 603.9,242.3 604.8,242.4 605.7,242.4 606.6,242.4 607.5,242.4 608.4,242.4 609.3,242.4 610.2,242.4 611.1,242.4 612.0,242.5 612.9,242.5 613.8,242.5 614.7,242.5 615.6,242.5 616.4,242.6 617.3,242.6 618.2,242.6 619.1,242.6 620.0,242.7 620.9,242.7 621.8,242.7 622.7,242.7 623.6,242.8 624.5,242.8 625.4,242.8 626.3,242.9 627.2,242.9 628.1,242.9 629.0,243.0 629.9,243.0 630.8,243.0 631.7,243.1 632.6,243.1 633.5,243.1 634.4,243.2 635.3,243.2 636.2,243.3 637.1,243.3 638.0,243.4 638.9,243.4 639.8,243.5 640.7,243.5 641.6,243.6 642.5,243.6 643.4,243.7 644.3,243.7 645.2,243.8 646.1,243.8 647.0,243.9 647.9,243.9 648.8,244.0 649.7,244.0 650.6,244.1 651.5,244.2 652.4,244.2 653.3,244.3 654.2,244.3 655.1,244.4 656.0,244.5 656.9,244.5 657.8,244.6 658.7,244.7 659.6,244.7 660.5,244.8 661.4,244.9 662.3,244.9 663.2,245.0 664.1,245.1 665.0,245.1 665.8,245.2 666.7,245.3 667.6,245.4 668.5,245.4 669.4,245.5 670.3,245.6 671.2,245.7 672.1,245.8 673.0,245.9 673.9,245.9 674.8,246.0 675.7,246.1 676.6,246.2 677.5,246.3 678.4,246.4 679.3,246.5 680.2,246.6 681.1,246.6 682.0,246.7 682.9,246.8 683.8,246.9 684.7,247.0 685.6,247.1 686.5,247.2 687.4,247.3 688.3,247.4 689.2,247.5 690.1,247.6 691.0,247.7 691.9,247.8 692.8,247.9 693.7,248.0 694.6,248.1 695.5,248.2 696.4,248.3 697.3,248.4 698.2,248.5 699.1,248.5 700.0,248.6 700.9,248.7 701.8,248.8 702.7,248.9 703.6,249.0 704.5,249.0 705.4,249.1 706.3,249.2 707.2,249.2 708.1,249.3 709.0,249.4 709.9,249.4 710.8,249.5 711.7,249.6 712.6,249.6 713.5,249.7 714.4,249.7 715.3,249.8 716.1,249.8 717.0,249.9 717.9,249.9 718.8,250.0 719.7,250.0 720.6,250.1 721.5,250.1 722.4,250.2 723.3,250.2 724.2,250.3 725.1,250.3 726.0,250.4 726.9,250.4 727.8,250.5 728.7,250.5 729.6,250.6 730.5,250.6 731.4,250.6 732.3,250.7 733.2,250.7 734.1,250.8 735.0,250.8 735.9,250.8 736.8,250.8 737.7,250.8 738.6,250.8 739.5,250.8 740.4,250.8 741.3,250.7 742.2,250.6 743.1,250.5 744.0,250.4 744.9,250.2 745.8,250.0 746.7,249.7 747.6,249.4 748.5,249.0 749.4,248.6 750.3,248.1 751.2,247.5 752.1,246.8 753.0,246.0 753.9,245.1 754.8,244.1 755.7,242.9 756.6,241.7 757.5,240.3 758.4,238.7 759.3,237.0 760.2,235.1 761.1,233.1 762.0,230.9 762.9,228.6 763.8,226.1 764.7,223.5 765.5,220.7 766.4,217.8 767.3,214.7 768.2,211.6 769.1,208.4 770.0,205.1 770.9,201.7 771.8,198.3 772.7,195.0 773.6,191.6 774.5,188.4 775.4,185.2 776.3,182.1 777.2,179.2 778.1,176.5 779.0,174.0 779.9,171.7 780.8,169.7 781.7,168.0 782.6,166.6 783.5,165.6 784.4,164.9 785.3,164.6 786.2,164.6 787.1,165.0 788.0,165.6 788.9,166.6 789.8,167.9 790.7,169.4 791.6,171.1 792.5,173.2 793.4,175.4 794.3,177.8 795.2,180.5 796.1,183.2 797.0,186.2 797.9,189.2 798.8,192.3 799.7,195.5 800.6,198.7 801.5,201.9 802.4,205.1 803.3,208.4 804.2,211.5 805.1,214.7 806.0,217.7 806.9,220.7 807.8,223.5 808.7,226.3 809.6,228.9 810.5,231.5 811.4,233.9 812.3,236.1 813.2,238.3 814.1,240.3 815.0,242.1 815.8,243.9 816.7,245.5 817.6,247.0 818.5,248.4 819.4,249.6 820.3,250.8 821.2,251.8 822.1,252.8 823.0,253.6 823.9,254.4 824.8,255.1 825.7,255.7 826.6,256.2 827.5,256.7 828.4,257.1 829.3,257.5 830.2,257.9 831.1,258.2 832.0,258.4 832.9,258.6 833.8,258.8 834.7,259.0 835.6,259.2 836.5,259.3 837.4,259.4 838.3,259.5 839.2,259.6 840.1,259.6" stroke="#00ff00"/>
<path d="M541.0,242.0 541.9,242.0 542.8,242.0 543.7,242.0 544.6,242.0 545.5,242.0 546.4,242.0 547.3,242.0 548.2,242.0 549.1,242.0 550.0,242.0 550.9,242.0 551.8,242.0 552.7,242.0 553.6,241.9 554.5,241.9 555.4,241.9 556.3,241.9 557.2,241.9 558.1,241.9 559.0,241.9 559.9,241.9 560.8,241.8 561.7,241.8 562.6,241.8 563.5,241.8 564.4,241.7 565.3,241.7 566.1,241.7 567.0,241.7 567.9,241.6 568.8,241.6 569.7,241.5 570.6,241.5 571.5,241.4 572.4,241.4 573.3,241.3 574.2,241.3 575.1,241.2 576.0,241.1 576.9,241.0 577.8,241.0 578.7,240.9 579.6,240.8 580.5,240.7 581.4,240.5 582.3,240.4 583.2,240.3 584.1,240.2 585.0,240.0 585.9,239.8 586.8,239.7 587.7,239.5 588.6,239.3 589.5,239.1 590.4,238.9 591.3,238.7 592.2,238.4 593.1,238.2 594.0,237.9 594.9,237.6 595.8,237.3 596.7,237.0 597.6,236.7 598.5,236.3 599.4,235.9 600.3,235.6 601.2,235.2 602.1,234.7 603.0,234.3 603.9,233.9 604.8,233.4 605.7,232.9 606.6,232.4 607.5,231.9 608.4,231.3 609.3,230.8 610.2,230.2 611.1,229.6 612.0,229.0 612.9,228.4 613.8,227.7 614.7,227.1 615.6,226.4 616.4,225.7 617.3,225.0 618.2,224.3 619.1,223.6 620.0,222.9 620.9,222.1 621.8,221.4 622.7,220.7 623.6,219.9 624.5,219.1 625.4,218.4 626.3,217.6 627.2,216.9 628.1,216.1 629.0,215.4 629.9,214.6 630.8,213.9 631.7,213.2 632.6,212.5 633.5,211.8 634.4,211.1 635.3,210.5 636.2,209.8 637.1,209.2 638.0,208.6 638.9,208.1 639.8,207.5 640.7,207.0 641.6,206.6 642.5,206.1 643.4,205.7 644.3,205.3 645.2,205.0 646.1,204.7 647.0,204.4 647.9,204.2 648.8,204.1 649.7,203.9 650.6,203.8 651.5,203.8 652.4,203.8 653.3,203.8 654.2,204.0 655.1,204.1 656.0,204.4 656.9,204.7 657.8,205.0 658.7,205.5 659.6,206.0 660.5,206.5 661.4,207.1 662.3,207.8 663.2,208.5 664.1,209.3 665.0,210.1 665.8,210.9 666.7,211.8 667.6,212.7 668.5,213.7 669.4,214.7 670.3,215.7 671.2,216.7 672.1,217.7 673.0,218.8 673.9,219.8 674.8,220.9 675.7,221.9 676.6,223.0 677.5,224.1 678.4,225.1 679.3,226.2 680.2,227.2 681.1,228.2 682.0,229.2 682.9,230.2 683.8,231.2 684.7,232.1 685.6,233.0 686.5,233.9 687.4,234.8 688.3,235.7 689.2,236.5 690.1,237.3 691.0,238.0 691.9,238.8 692.8,239.5 693.7,240.1 694.6,240.8 695.5,241.4 696.4,242.0 697.3,242.5 698.2,243.1 699.1,243.6 700.0,244.0 700.9,244.5 701.8,244.9 702.7,245.3 703.6,245.7 704.5,246.0 705.4,246.4 706.3,246.7 707.2,247.0 708.1,247.3 709.0,247.5 709.9,247.8 710.8,248.0 711.7,248.2 712.6,248.4 713.5,248.6 714.4,248.8 715.3,248.9 716.1,249.1 717.0,249.2 717.9,249.3 718.8,249.5 719.7,249.6 720.6,249.7 721.5,249.8 722.4,249.9 723.3,250.0 724.2,250.1 725.1,250.2 726.0,250.3 726.9,250.4 727.8,250.5 728.7,250.6 729.6,250.7 730.5,250.7 731.4,250.8 732.3,250.9 733.2,251.0 734.1,251.1 735.0,251.2 735.9,251.3 736.8,251.3 737.7,251.4 738.6,251.5 739.5,251.6 740.4,251.7 741.3,251.8 742.2,251.9 743.1,252.0 744.0,252.1 744.9,252.2 745.8,252.3 746.7,252.4 747.6,252.5 748.5,252.6 749.4,252.7 750.3,252.8 751.2,252.9 752.1,253.0 753.0,253.1 753.9,253.2 754.8,253.4 755.7,253.5 756.6,253.6 757.5,253.7 758.4,253.8 759.3,253.9 760.2,254.0 761.1,254.1 762.0,254.2 762.9,254.3 763.8,254.4 764.7,254.5 765.5,254.6 766.4,254.8 767.3,254.9 768.2,255.0 769.1,255.1 770.0,255.2 770.9,255.3 771.8,255.4 772.7,255.6 773.6,255.7 774.5,255.8 775.4,255.9 776.3,256.1 777.2,256.2 778.1,256.3 779.0,256.5 779.9,256.6 780.8,256.7 781.7,256.9 782.6,257.0 783.5,257.1 784.4,257.3 785.3,257.4 786.2,257.5 787.1,257.7 788.0,257.8 788.9,257.9 789.8,258.0 790.7,258.2 791.6,258.3 792.5,258.4 793.4,258.5 794.3,258.6 795.2,258.7 796.1,258.9 797.0,259.0 797.9,259.0 798.8,259.1 799.7,259.2 800.6,259.3 801.5,259.4 802.4,259.5 803.3,259.5 804.2,259.6 805.1,259.7 806.0,259.7 806.9,259.8 807.8,259.8 808.7,259.9 809.6,259.9 810.5,260.0 811.4,260.0 812.3,260.0 813.2,260.1 814.1,260.1 815.0,260.1 815.8,260.2 816.7,260.2 817.6,260.2 818.5,260.2 819.4,260.2 820.3,260.2 821.2,260.3 822.1,260.3 823.0,260.3 823.9,260.3 824.8,260.3 825.7,260.3 826.6,260.3 827.5,260.3 828.4,260.3 829.3,260.3 830.2,260.3 831.1,260.3 832.0,260.3 832.9,260.3 833.8,260.3 834.7,260.3 835.6,260.3 836.5,260.4 837.4,260.4 838.3,260.4 839.2,260.4 840.1,260.4" stroke="#0000ff"/>
<path d="M541.0,242.2 541.9,242.2 542.8,242.2 543.7,242.2 544.6,242.2 545.5,242.2 546.4,242.2 547.3,242.2 548.2,242.2 549.1,242.2 550.0,242.2 550.9,242.2 551.8,242.2 552.7,242.2 553.6,242.2 554.5,242.2 555.4,242.2 556.3,242.2 557.2,242.2 558.1,242.2 559.0,242.2 559.9,242.2 560.8,242.2 561.7,242.2 562.6,242.2 563.5,242.2 564.4,242.2 565.3,242.2 566.1,242.2 567.0,242.2 567.9,242.2 568.8,242.2 569.7,242.2 570.6,242.2 571.5,242.2 572.4,242.2 573.3,242.2 574.2,242.2 575.1,242.2 576.0,242.2 576.9,242.2 577.8,242.2 578.7,242.2 579.6,242.2 580.5,242.2 581.4,242.2 582.3,242.2 583.2,242.2 584.1,242.2 585.0,242.2 585.9,242.2 586.8,242.2 587.7,242.2 588.6,242.2 589.5,242.2 590.4,242.2 591.3,242.2 592.2,242.2 593.1,242.2 594.0,242.2 594.9,242.2 595.8,242.2 596.7,242.2 597.6,242.2 598.5,242.3 599.4,242.3 600.3,242.3 601.2,242.3 602.1,242.3 603.0,242.3 603.9,242.3 604.8,242.3 605.7,242.3 606.6,242.3 607.5,242.4 608.4,242.4 609.3,242.4 610.2,242.4 611.1,242.4 612.0,242.4 612.9,242.4 613.8,242.5 614.7,242.5 615.6,242.5 616.4,242.5 617.3,242.5 618.2,242.6 619.1,242.6 620.0,242.6 620.9,242.6 621.8,242.7 622.7,242.7 623.6,242.7 624.5,242.7 625.4,242.8 626.3,242.8 627.2,242.8 628.1,242.9 629.0,242.9 629.9,242.9 630.8,243.0 631.7,243.0 632.6,243.0 633.5,243.1 634.4,243.1 635.3,243.2 636.2,243.2 637.1,243.2 638.0,243.3 638.9,243.3 639.8,243.4 640.7,243.4 641.6,243.5 642.5,243.5 643.4,243.6 644.3,243.6 645.2,243.7 646.1,243.7 647.0,243.8 647.9,243.8 648.8,243.9 649.7,243.9 650.6,244.0 651.5,244.1 652.4,244.1 653.3,244.2 654.2,244.2 655.1,244.3 656.0,244.4 656.9,244.4 657.8,244.5 658.7,244.5 659.6,244.6 660.5,244.7 661.4,244.7 662.3,244.8 663.2,244.9 664.1,244.9 665.0,245.0 665.8,245.1 666.7,245.2 667.6,245.2 668.5,245.3 669.4,245.4 670.3,245.5 671.2,245.5 672.1,245.6 673.0,245.7 673.9,245.8 674.8,245.8 675.7,245.9 676.6,246.0 677.5,246.1 678.4,246.2 679.3,246.2 680.2,246.3 681.1,246.4 682.0,246.5 682.9,246.6 683.8,246.6 684.7,246.7 685.6,246.8 686.5,246.8 687.4,246.9 688.3,247.0 689.2,247.0 690.1,247.1 691.0,247.1 691.9,247.1 692.8,247.1 693.7,247.2 694.6,247.2 695.5,247.1 696.4,247.1 697.3,247.0 698.2,247.0 699.1,246.9 700.0,246.7 700.9,246.6 701.8,246.4 702.7,246.2 703.6,245.9 704.5,245.6 705.4,245.3 706.3,244.9 707.2,244.5 708.1,244.0 709.0,243.5 709.9,242.9 710.8,242.2 711.7,241.5 712.6,240.7 713.5,239.9 714.4,238.9 715.3,237.9 716.1,236.8 717.0,235.6 717.9,234.4 718.8,233.1 719.7,231.6 720.6,230.2 721.5,228.6 722.4,226.9 723.3,225.2 724.2,223.4 725.1,221.5 726.0,219.6 726.9,217.6 727.8,215.5 728.7,213.4 729.6,211.3 730.5,209.1 731.4,207.0 732.3,204.8 733.2,202.6 734.1,200.5 735.0,198.3 735.9,196.3 736.8,194.2 737.7,192.3 738.6,190.4 739.5,188.6 740.4,186.9 741.3,185.3 742.2,183.9 743.1,182.6 744.0,181.4 744.9,180.4 745.8,179.6 746.7,179.0 747.6,178.5 748.5,178.3 749.4,178.2 750.3,178.3 751.2,178.6 752.1,179.0 753.0,179.7 753.9,180.5 754.8,181.5 755.7,182.6 756.6,183.9 757.5,185.3 758.4,186.8 759.3,188.5 760.2,190.3 761.1,192.2 762.0,194.1 762.9,196.2 763.8,198.3 764.7,200.5 765.5,202.7 766.4,204.9 767.3,207.2 768.2,209.4 769.1,211.7 770.0,214.0 770.9,216.2 771.8,218.4 772.7,220.6 773.6,222.7 774.5,224.8 775.4,226.9 776.3,228.9 777.2,230.8 778.1,232.6 779.0,234.4 779.9,236.1 780.8,237.8 781.7,239.4 782.6,240.9 783.5,242.3 784.4,243.6 785.3,244.9 786.2,246.1 787.1,247.2 788.0,248.2 788.9,249.2 789.8,250.2 790.7,251.0 791.6,251.8 792.5,252.5 793.4,253.2 794.3,253.9 795.2,254.4 796.1,255.0 797.0,255.5 797.9,255.9 798.8,256.3 799.7,256.7 800.6,257.0 801.5,257.4 802.4,257.6 803.3,257.9 804.2,258.1 805.1,258.3 806.0,258.5 806.9,258.7 807.8,258.9 808.7,259.0 809.6,259.1 810.5,259.2 811.4,259.3 812.3,259.4 813.2,259.5 814.1,259.6 815.0,259.6 815.8,259.7 816.7,259.7 817.6,259.8 818.5,259.8 819.4,259.9 820.3,259.9 821.2,259.9 822.1,260.0 823.0,260.0 823.9,260.0 824.8,260.0 825.7,260.0 826.6,260.1 827.5,260.1 828.4,260.1 829.3,260.1 830.2,260.1 831.1,260.1 832.0,260.1 832.9,260.1 833.8,260.1 834.7,260.2 835.6,260.2 836.5,260.2 837.4,260.2 838.3,260.2 839.2,260.2 840.1,260.2" stroke="#0000ff"/>
<path d="M541.0,241.9 541.9,241.9 542.8,241.9 543.7,241.9 544.6,241.9 545.5,241.9 546.4,241.9 547.3,241.9 548.2,241.9 549.1,241.9 550.0,241.8 550.9,241.8 551.8,241.8 552.7,241.8 553.6,241.8 554.5,241.8 555.4,241.8 556.3,241.8 557.2,241.8 558.1,241.7 559.0,241.7 559.9,241.7 560.8,241.7 561.7,241.7 562.6,241.6 563.5,241.6 564.4,241.6 565.3,241.6 566.1,241.5 567.0,241.5 567.9,241.4 568.8,241.4 569.7,241.4 570.6,241.3 571.5,241.3 572.4,241.2 573.3,241.1 574.2,241.1 575.1,241.0 576.0,240.9 576.9,240.8 577.8,240.7 578.7,240.6 579.6,240.5 580.5,240.4 581.4,240.3 582.3,240.2 583.2,240.1 584.1,239.9 585.0,239.8 585.9,239.6 586.8,239.4 587.7,239.2 588.6,239.0 589.5,238.8 590.4,238.6 591.3,238.3 592.2,238.1 593.1,237.8 594.0,237.5 594.9,237.3 595.8,236.9 596.7,236.6 597.6,236.3 598.5,235.9 599.4,235.5 600.3,235.1 601.2,234.7 602.1,234.3 603.0,233.8 603.9,233.4 604.8,232.9 605.7,232.4 606.6,231.8 607.5,231.3 608.4,230.7 609.3,230.1 610.2,229.5 611.1,228.9 612.0,228.3 612.9,227.6 613.8,227.0 614.7,226.3 615.6,225.6 616.4,224.8 617.3,224.1 618.2,223.4 619.1,222.6 620.0,221.8 620.9,221.0 621.8,220.3 622.7,219.5 623.6,218.6 624.5,217.8 625.4,217.0 626.3,216.2 627.2,215.4 628.1,214.5 629.0,213.7 629.9,212.9 630.8,212.1 631.7,211.3 632.6,210.4 633.5,209.6 634.4,208.8 635.3,208.0 636.2,207.3 637.1,206.5 638.0,205.7 638.9,205.0 639.8,204.2 640.7,203.5 641.6,202.8 642.5,202.1 643.4,201.4 644.3,200.7 645.2,200.0 646.1,199.4 647.0,198.7 647.9,198.1 648.8,197.4 649.7,196.7 650.6,196.1 651.5,195.4 652.4,194.8 653.3,194.1 654.2,193.4 655.1,192.7 656.0,192.1 656.9,191.4 657.8,190.8 658.7,190.1 659.6,189.5 660.5,188.8 661.4,188.1 662.3,187.4 663.2,186.7 664.1,185.9 665.0,185.2 665.8,184.4 666.7,183.6 667.6,182.7 668.5,181.9 669.4,181.0 670.3,180.1 671.2,179.2 672.1,178.3 673.0,177.3 673.9,176.4 674.8,175.5 675.7,174.6 676.6,173.7 677.5,172.8 678.4,172.0 679.3,171.2 680.2,170.4 681.1,169.8 682.0,169.1 682.9,168.6 683.8,168.1 684.7,167.8 685.6,167.5 686.5,167.4 687.4,167.3 688.3,167.4 689.2,167.6 690.1,167.9 691.0,168.3 691.9,168.9 692.8,169.6 693.7,170.5 694.6,171.4 695.5,172.5 696.4,173.6 697.3,174.9 698.2,176.3 699.1,177.7 700.0,179.2 700.9,180.8 701.8,182.4 702.7,184.0 703.6,185.6 704.5,187.3 705.4,188.9 706.3,190.5 707.2,192.1 708.1,193.6 709.0,195.0 709.9,196.4 710.8,197.7 711.7,198.9 712.6,200.0 713.5,201.0 714.4,201.9 715.3,202.6 716.1,203.3 717.0,203.8 717.9,204.2 718.8,204.5 719.7,204.6 720.6,204.6 721.5,204.5 722.4,204.3 723.3,203.9 724.2,203.4 725.1,202.8 726.0,202.0 726.9,201.2 727.8,200.2 728.7,199.2 729.6,198.0 730.5,196.8 731.4,195.4 732.3,194.0 733.2,192.6 734.1,191.1 735.0,189.5 735.9,188.0 736.8,186.4 737.7,184.9 738.6,183.4 739.5,181.9 740.4,180.4 741.3,179.0 742.2,177.7 743.1,176.5 744.0,175.4 744.9,174.4 745.8,173.5 746.7,172.7 747.6,172.0 748.5,171.4 749.4,170.9 750.3,170.6 751.2,170.3 752.1,170.1 753.0,169.9 753.9,169.9 754.8,169.8 755.7,169.8 756.6,169.8 757.5,169.8 758.4,169.7 759.3,169.7 760.2,169.6 761.1,169.4 762.0,169.2 762.9,168.8 763.8,168.4 764.7,167.9 765.5,167.3 766.4,166.5 767.3,165.7 768.2,164.8 769.1,163.7 770.0,162.6 770.9,161.5 771.8,160.2 772.7,159.0 773.6,157.7 774.5,156.4 775.4,155.2 776.3,154.0 777.2,152.9 778.1,152.0 779.0,151.1 779.9,150.5 780.8,150.0 781.7,149.8 782.6,149.8 783.5,150.1 784.4,150.6 785.3,151.5 786.2,152.6 787.1,154.0 788.0,155.6 788.9,157.4 789.8,159.5 790.7,161.7 791.6,164.2 792.5,166.9 793.4,169.7 794.3,172.7 795.2,175.8 796.1,179.0 797.0,182.3 797.9,185.7 798.8,189.1 799.7,192.6 800.6,196.1 801.5,199.6 802.4,203.0 803.3,206.4 804.2,209.8 805.1,213.0 806.0,216.2 806.9,219.3 807.8,222.3 808.7,225.2 809.6,227.9 810.5,230.5 811.4,233.0 812.3,235.3 813.2,237.5 814.1,239.5 815.0,241.4 815.8,243.2 816.7,244.9 817.6,246.4 818.5,247.8 819.4,249.1 820.3,250.2 821.2,251.3 822.1,252.3 823.0,253.1 823.9,253.9 824.8,254.6 825.7,255.2 826.6,255.8 827.5,256.3 828.4,256.7 829.3,257.1 830.2,257.5 831.1,257.8 832.0,258.0 832.9,258.3 833.8,258.5 834.7,258.7 835.6,258.8 836.5,258.9 837.4,259.1 838.3,259.2 839.2,259.3 840.1,259.3" stroke="#ff0080" stroke-width="1.7"/>
</g>
<rect x="541.0" y="4.5" width="299.10" height="266.85" fill="none" stroke="#000" stroke-width="1.15"/>
<path d="M541.0,42.40h5.0M541.0,80.56h2.6M541.0,118.72h5.0M541.0,156.88h2.6M541.0,195.03h5.0M541.0,233.19h2.6M541.00,271.35v4.7M570.91,271.35v2.9M600.82,271.35v4.7M630.73,271.35v2.9M660.64,271.35v4.7M690.55,271.35v2.9M720.46,271.35v4.7M750.37,271.35v2.9M780.28,271.35v4.7M810.19,271.35v2.9M840.10,271.35v4.7" stroke="#000" stroke-width="1.15" fill="none"/>
<text x="540.50" y="288.95" text-anchor="middle" class="t">240</text>
<text x="600.32" y="288.95" text-anchor="middle" class="t">238</text>
<text x="660.14" y="288.95" text-anchor="middle" class="t">236</text>
<text x="719.96" y="288.95" text-anchor="middle" class="t">234</text>
<text x="779.78" y="288.95" text-anchor="middle" class="t">232</text>
<text x="839.60" y="288.95" text-anchor="middle" class="t">230</text>
<text x="693.80" y="305.50" text-anchor="middle" class="a">Binding energy (eV)</text>
<text transform="translate(530.50,111.20) rotate(-90)" text-anchor="middle" class="c">CPS</text>
<path d="M557.20,22.30V42.80" stroke="#000" stroke-width="1.15"/>
<text x="559.70" y="38.70" class="t">5000</text>
<text x="816.20" y="28.90" text-anchor="end" class="t">340</text>
<text x="820.50" y="21.60" class="o">o</text>
<text x="824.40" y="28.90" class="a">C</text>
<clipPath id="c540"><rect x="26.8" y="329.5" width="299.6" height="266.9"/></clipPath>
<g fill="none" stroke-linejoin="round" stroke-width="1.55" clip-path="url(#c540)">
<path d="M26.8,573.0 27.5,572.9 28.3,572.8 29.0,572.7 29.8,572.6 30.5,572.5 31.3,572.5 32.0,572.5 32.8,572.5 33.5,572.6 34.3,572.7 35.0,572.8 35.8,572.9 36.5,572.8 37.3,572.7 38.0,572.6 38.8,572.4 39.5,572.3 40.3,572.2 41.0,572.2 41.7,572.2 42.5,572.3 43.2,572.3 44.0,572.3 44.7,572.3 45.5,572.2 46.2,572.2 47.0,572.2 47.7,572.2 48.5,572.1 49.2,572.0 50.0,571.9 50.7,571.7 51.5,571.5 52.2,571.3 53.0,571.2 53.7,571.1 54.5,571.1 55.2,571.1 56.0,571.1 56.7,571.0 57.4,570.9 58.2,570.8 58.9,570.7 59.7,570.6 60.4,570.5 61.2,570.5 61.9,570.6 62.7,570.7 63.4,570.8 64.2,570.9 64.9,571.0 65.7,571.0 66.4,570.8 67.2,570.6 67.9,570.4 68.7,570.1 69.4,569.8 70.2,569.7 70.9,569.6 71.7,569.6 72.4,569.6 73.1,569.5 73.9,569.4 74.6,569.2 75.4,569.1 76.1,568.9 76.9,568.8 77.6,568.6 78.4,568.5 79.1,568.4 79.9,568.3 80.6,568.2 81.4,568.0 82.1,567.8 82.9,567.5 83.6,567.2 84.4,566.9 85.1,566.6 85.9,566.3 86.6,566.0 87.3,565.8 88.1,565.5 88.8,565.3 89.6,564.9 90.3,564.6 91.1,564.2 91.8,563.8 92.6,563.5 93.3,563.2 94.1,563.0 94.8,562.8 95.6,562.7 96.3,562.6 97.1,562.5 97.8,562.4 98.6,562.3 99.3,562.2 100.1,562.0 100.8,561.8 101.5,561.6 102.3,561.4 103.0,561.2 103.8,560.9 104.5,560.6 105.3,560.3 106.0,560.1 106.8,559.8 107.5,559.5 108.3,559.3 109.0,559.1 109.8,558.9 110.5,558.7 111.3,558.5 112.0,558.4 112.8,558.2 113.5,558.0 114.3,557.8 115.0,557.6 115.8,557.3 116.5,557.0 117.2,556.7 118.0,556.5 118.7,556.3 119.5,556.1 120.2,555.9 121.0,555.8 121.7,555.7 122.5,555.6 123.2,555.5 124.0,555.4 124.7,555.2 125.5,555.0 126.2,554.8 127.0,554.5 127.7,554.2 128.5,553.8 129.2,553.5 130.0,553.2 130.7,552.9 131.4,552.7 132.2,552.5 132.9,552.4 133.7,552.2 134.4,552.0 135.2,551.7 135.9,551.4 136.7,551.0 137.4,550.6 138.2,550.2 138.9,549.7 139.7,549.3 140.4,548.8 141.2,548.4 141.9,547.9 142.7,547.5 143.4,547.0 144.2,546.6 144.9,546.1 145.7,545.7 146.4,545.2 147.1,544.8 147.9,544.3 148.6,543.9 149.4,543.4 150.1,543.0 150.9,542.5 151.6,542.1 152.4,541.6 153.1,541.1 153.9,540.6 154.6,540.1 155.4,539.6 156.1,539.2 156.9,538.8 157.6,538.6 158.4,538.4 159.1,538.2 159.9,538.1 160.6,537.9 161.4,537.6 162.1,537.3 162.8,536.9 163.6,536.5 164.3,536.1 165.1,535.8 165.8,535.5 166.6,535.3 167.3,535.2 168.1,535.0 168.8,534.8 169.6,534.6 170.3,534.4 171.1,534.2 171.8,534.0 172.6,533.7 173.3,533.3 174.1,532.8 174.8,532.3 175.6,531.7 176.3,531.0 177.0,530.4 177.8,529.7 178.5,529.0 179.3,528.3 180.0,527.5 180.8,526.6 181.5,525.7 182.3,524.7 183.0,523.8 183.8,522.8 184.5,521.9 185.3,520.9 186.0,519.9 186.8,518.9 187.5,517.8 188.3,516.7 189.0,515.5 189.8,514.3 190.5,513.1 191.2,511.8 192.0,510.5 192.7,509.1 193.5,507.6 194.2,506.0 195.0,504.4 195.7,502.8 196.5,501.2 197.2,499.7 198.0,498.3 198.7,497.1 199.5,496.2 200.2,495.6 201.0,495.3 201.7,495.6 202.5,496.5 203.2,498.0 204.0,500.0 204.7,502.6 205.5,505.6 206.2,508.9 206.9,512.4 207.7,515.8 208.4,519.1 209.2,522.2 209.9,525.0 210.7,527.4 211.4,529.5 212.2,531.2 212.9,532.6 213.7,533.7 214.4,534.6 215.2,535.3 215.9,535.9 216.7,536.4 217.4,536.8 218.2,537.1 218.9,537.4 219.7,537.6 220.4,537.7 221.2,537.6 221.9,537.5 222.6,537.3 223.4,537.1 224.1,536.8 224.9,536.5 225.6,536.1 226.4,535.8 227.1,535.4 227.9,535.1 228.6,534.8 229.4,534.5 230.1,534.2 230.9,533.9 231.6,533.5 232.4,533.1 233.1,532.7 233.9,532.4 234.6,532.1 235.4,531.9 236.1,531.8 236.8,531.8 237.6,531.9 238.3,532.0 239.1,532.1 239.8,532.3 240.6,532.4 241.3,532.5 242.1,532.6 242.8,532.7 243.6,532.8 244.3,532.9 245.1,533.1 245.8,533.3 246.6,533.6 247.3,534.0 248.1,534.5 248.8,534.9 249.6,535.4 250.3,535.8 251.1,536.1 251.8,536.4 252.5,536.6 253.3,536.8 254.0,536.9 254.8,537.0 255.5,537.1 256.3,537.2 257.0,537.3 257.8,537.3 258.5,537.2 259.3,537.0 260.0,536.7 260.8,536.4 261.5,536.1 262.3,535.7 263.0,535.2 263.8,534.6 264.5,533.8 265.3,532.8 266.0,531.4 266.7,529.7 267.5,527.5 268.2,524.8 269.0,521.8 269.7,518.5 270.5,515.0 271.2,511.3 272.0,507.4 272.7,503.4 273.5,499.4 274.2,495.5 275.0,491.8 275.7,488.4 276.5,485.5 277.2,483.2 278.0,481.4 278.7,480.2 279.5,479.6 280.2,479.5 280.9,480.1 281.7,481.6 282.4,483.8 283.2,486.9 283.9,490.9 284.7,495.7 285.4,501.1 286.2,507.1 286.9,513.4 287.7,520.0 288.4,526.6 289.2,533.0 289.9,539.1 290.7,544.8 291.4,550.0 292.2,554.8 292.9,559.0 293.7,562.8 294.4,566.2 295.2,569.2 295.9,571.8 296.6,574.0 297.4,575.8 298.1,577.4 298.9,578.7 299.6,579.8 300.4,580.7 301.1,581.5 301.9,582.2 302.6,582.7 303.4,583.2 304.1,583.5 304.9,583.8 305.6,584.0 306.4,584.1 307.1,584.2 307.9,584.3 308.6,584.4 309.4,584.4 310.1,584.4 310.9,584.4 311.6,584.5 312.3,584.6 313.1,584.7 313.8,584.8 314.6,585.0 315.3,585.1 316.1,585.3 316.8,585.4 317.6,585.5 318.3,585.6 319.1,585.7 319.8,585.9 320.6,586.1 321.3,586.3 322.1,586.6 322.8,586.7 323.6,586.8 324.3,586.8 325.1,586.8 325.8,586.7" stroke="#000000" stroke-width="1.45"/>
<path d="M26.8,573.8 27.5,573.8 28.3,573.8 29.0,573.8 29.8,573.8 30.5,573.8 31.3,573.8 32.0,573.8 32.8,573.8 33.5,573.8 34.3,573.8 35.0,573.8 35.8,573.8 36.5,573.8 37.3,573.8 38.0,573.8 38.8,573.8 39.5,573.8 40.3,573.8 41.0,573.8 41.7,573.8 42.5,573.8 43.2,573.8 44.0,573.8 44.7,573.8 45.5,573.8 46.2,573.8 47.0,573.8 47.7,573.8 48.5,573.8 49.2,573.8 50.0,573.8 50.7,573.8 51.5,573.8 52.2,573.8 53.0,573.9 53.7,573.9 54.5,573.9 55.2,573.9 56.0,573.9 56.7,573.9 57.4,573.9 58.2,573.9 58.9,573.9 59.7,573.9 60.4,573.9 61.2,573.9 61.9,573.9 62.7,573.9 63.4,573.9 64.2,573.9 64.9,573.9 65.7,573.9 66.4,573.9 67.2,573.9 67.9,573.9 68.7,573.9 69.4,573.9 70.2,573.9 70.9,573.9 71.7,573.9 72.4,573.9 73.1,573.9 73.9,574.0 74.6,574.0 75.4,574.0 76.1,574.0 76.9,574.0 77.6,574.0 78.4,574.0 79.1,574.0 79.9,574.0 80.6,574.0 81.4,574.0 82.1,574.0 82.9,574.0 83.6,574.0 84.4,574.0 85.1,574.1 85.9,574.1 86.6,574.1 87.3,574.1 88.1,574.1 88.8,574.1 89.6,574.1 90.3,574.1 91.1,574.1 91.8,574.1 92.6,574.2 93.3,574.2 94.1,574.2 94.8,574.2 95.6,574.2 96.3,574.2 97.1,574.2 97.8,574.2 98.6,574.3 99.3,574.3 100.1,574.3 100.8,574.3 101.5,574.3 102.3,574.3 103.0,574.3 103.8,574.4 104.5,574.4 105.3,574.4 106.0,574.4 106.8,574.4 107.5,574.4 108.3,574.5 109.0,574.5 109.8,574.5 110.5,574.5 111.3,574.5 112.0,574.5 112.8,574.6 113.5,574.6 114.3,574.6 115.0,574.6 115.8,574.6 116.5,574.7 117.2,574.7 118.0,574.7 118.7,574.7 119.5,574.7 120.2,574.8 121.0,574.8 121.7,574.8 122.5,574.8 123.2,574.9 124.0,574.9 124.7,574.9 125.5,574.9 126.2,574.9 127.0,575.0 127.7,575.0 128.5,575.0 129.2,575.0 130.0,575.1 130.7,575.1 131.4,575.1 132.2,575.1 132.9,575.2 133.7,575.2 134.4,575.2 135.2,575.2 135.9,575.3 136.7,575.3 137.4,575.3 138.2,575.4 138.9,575.4 139.7,575.4 140.4,575.4 141.2,575.5 141.9,575.5 142.7,575.5 143.4,575.6 144.2,575.6 144.9,575.6 145.7,575.7 146.4,575.7 147.1,575.7 147.9,575.8 148.6,575.8 149.4,575.9 150.1,575.9 150.9,575.9 151.6,576.0 152.4,576.0 153.1,576.0 153.9,576.1 154.6,576.1 155.4,576.2 156.1,576.2 156.9,576.3 157.6,576.3 158.4,576.3 159.1,576.4 159.9,576.4 160.6,576.5 161.4,576.5 162.1,576.6 162.8,576.6 163.6,576.7 164.3,576.7 165.1,576.7 165.8,576.8 166.6,576.8 167.3,576.9 168.1,576.9 168.8,577.0 169.6,577.0 170.3,577.1 171.1,577.1 171.8,577.2 172.6,577.2 173.3,577.3 174.1,577.3 174.8,577.4 175.6,577.4 176.3,577.5 177.0,577.5 177.8,577.6 178.5,577.6 179.3,577.7 180.0,577.8 180.8,577.8 181.5,577.9 182.3,577.9 183.0,578.0 183.8,578.1 184.5,578.1 185.3,578.2 186.0,578.3 186.8,578.3 187.5,578.4 188.3,578.5 189.0,578.5 189.8,578.6 190.5,578.7 191.2,578.8 192.0,578.8 192.7,578.9 193.5,579.0 194.2,579.1 195.0,579.2 195.7,579.3 196.5,579.3 197.2,579.4 198.0,579.5 198.7,579.6 199.5,579.7 200.2,579.8 201.0,579.9 201.7,580.0 202.5,580.1 203.2,580.2 204.0,580.3 204.7,580.4 205.5,580.5 206.2,580.6 206.9,580.7 207.7,580.7 208.4,580.8 209.2,580.9 209.9,581.0 210.7,581.0 211.4,581.1 212.2,581.1 212.9,581.2 213.7,581.3 214.4,581.3 215.2,581.4 215.9,581.4 216.7,581.5 217.4,581.5 218.2,581.6 218.9,581.6 219.7,581.7 220.4,581.7 221.2,581.8 221.9,581.8 222.6,581.9 223.4,581.9 224.1,582.0 224.9,582.0 225.6,582.1 226.4,582.1 227.1,582.2 227.9,582.3 228.6,582.3 229.4,582.4 230.1,582.4 230.9,582.5 231.6,582.5 232.4,582.6 233.1,582.6 233.9,582.7 234.6,582.8 235.4,582.8 236.1,582.9 236.8,582.9 237.6,583.0 238.3,583.1 239.1,583.1 239.8,583.2 240.6,583.2 241.3,583.3 242.1,583.4 242.8,583.4 243.6,583.5 244.3,583.5 245.1,583.6 245.8,583.6 246.6,583.7 247.3,583.8 248.1,583.8 248.8,583.9 249.6,583.9 250.3,584.0 251.1,584.0 251.8,584.1 252.5,584.1 253.3,584.2 254.0,584.2 254.8,584.3 255.5,584.3 256.3,584.4 257.0,584.4 257.8,584.5 258.5,584.5 259.3,584.6 260.0,584.6 260.8,584.7 261.5,584.7 262.3,584.8 263.0,584.8 263.8,584.9 264.5,584.9 265.3,585.0 266.0,585.0 266.7,585.1 267.5,585.2 268.2,585.2 269.0,585.3 269.7,585.4 270.5,585.4 271.2,585.5 272.0,585.6 272.7,585.7 273.5,585.8 274.2,585.9 275.0,586.0 275.7,586.1 276.5,586.2 277.2,586.3 278.0,586.5 278.7,586.6 279.5,586.7 280.2,586.9 280.9,587.0 281.7,587.1 282.4,587.2 283.2,587.3 283.9,587.4 284.7,587.6 285.4,587.6 286.2,587.7 286.9,587.8 287.7,587.9 288.4,588.0 289.2,588.0 289.9,588.1 290.7,588.1 291.4,588.2 292.2,588.2 292.9,588.3 293.7,588.3 294.4,588.3 295.2,588.4 295.9,588.4 296.6,588.4 297.4,588.4 298.1,588.4 298.9,588.4 299.6,588.4 300.4,588.5 301.1,588.5 301.9,588.5 302.6,588.5 303.4,588.5 304.1,588.5 304.9,588.5 305.6,588.5 306.4,588.5 307.1,588.5 307.9,588.5 308.6,588.5 309.4,588.5 310.1,588.5 310.9,588.5 311.6,588.5 312.3,588.5 313.1,588.5 313.8,588.6 314.6,588.6 315.3,588.6 316.1,588.6 316.8,588.6 317.6,588.6 318.3,588.6 319.1,588.6 319.8,588.6 320.6,588.6 321.3,588.6 322.1,588.6 322.8,588.6 323.6,588.6 324.3,588.6 325.1,588.6 325.8,588.6" stroke="#808000"/>
<path d="M26.8,573.7 27.5,573.7 28.3,573.7 29.0,573.7 29.8,573.7 30.5,573.7 31.3,573.7 32.0,573.7 32.8,573.7 33.5,573.7 34.3,573.7 35.0,573.7 35.8,573.7 36.5,573.7 37.3,573.7 38.0,573.7 38.8,573.7 39.5,573.7 40.3,573.7 41.0,573.7 41.7,573.7 42.5,573.7 43.2,573.7 44.0,573.7 44.7,573.7 45.5,573.7 46.2,573.7 47.0,573.7 47.7,573.7 48.5,573.7 49.2,573.7 50.0,573.7 50.7,573.7 51.5,573.7 52.2,573.7 53.0,573.7 53.7,573.7 54.5,573.7 55.2,573.7 56.0,573.7 56.7,573.7 57.4,573.7 58.2,573.7 58.9,573.7 59.7,573.7 60.4,573.7 61.2,573.7 61.9,573.7 62.7,573.7 63.4,573.7 64.2,573.7 64.9,573.7 65.7,573.7 66.4,573.7 67.2,573.7 67.9,573.7 68.7,573.7 69.4,573.7 70.2,573.7 70.9,573.7 71.7,573.7 72.4,573.7 73.1,573.7 73.9,573.7 74.6,573.7 75.4,573.7 76.1,573.7 76.9,573.7 77.6,573.7 78.4,573.7 79.1,573.7 79.9,573.7 80.6,573.7 81.4,573.8 82.1,573.8 82.9,573.8 83.6,573.8 84.4,573.8 85.1,573.8 85.9,573.8 86.6,573.8 87.3,573.8 88.1,573.8 88.8,573.8 89.6,573.8 90.3,573.8 91.1,573.8 91.8,573.8 92.6,573.8 93.3,573.8 94.1,573.8 94.8,573.8 95.6,573.8 96.3,573.8 97.1,573.8 97.8,573.8 98.6,573.8 99.3,573.8 100.1,573.8 100.8,573.8 101.5,573.8 102.3,573.8 103.0,573.8 103.8,573.8 104.5,573.8 105.3,573.8 106.0,573.7 106.8,573.7 107.5,573.7 108.3,573.7 109.0,573.6 109.8,573.6 110.5,573.6 111.3,573.5 112.0,573.5 112.8,573.4 113.5,573.4 114.3,573.3 115.0,573.3 115.8,573.2 116.5,573.1 117.2,573.0 118.0,572.9 118.7,572.8 119.5,572.7 120.2,572.5 121.0,572.4 121.7,572.2 122.5,572.0 123.2,571.8 124.0,571.6 124.7,571.4 125.5,571.2 126.2,570.9 127.0,570.7 127.7,570.4 128.5,570.1 129.2,569.8 130.0,569.4 130.7,569.1 131.4,568.7 132.2,568.3 132.9,567.9 133.7,567.4 134.4,567.0 135.2,566.5 135.9,566.0 136.7,565.5 137.4,564.9 138.2,564.4 138.9,563.8 139.7,563.3 140.4,562.7 141.2,562.1 141.9,561.4 142.7,560.8 143.4,560.2 144.2,559.5 144.9,558.9 145.7,558.3 146.4,557.6 147.1,557.0 147.9,556.3 148.6,555.7 149.4,555.1 150.1,554.5 150.9,553.9 151.6,553.3 152.4,552.8 153.1,552.3 153.9,551.8 154.6,551.3 155.4,550.9 156.1,550.5 156.9,550.1 157.6,549.8 158.4,549.5 159.1,549.3 159.9,549.1 160.6,549.0 161.4,548.9 162.1,548.9 162.8,548.9 163.6,549.0 164.3,549.1 165.1,549.3 165.8,549.6 166.6,549.9 167.3,550.2 168.1,550.6 168.8,551.0 169.6,551.5 170.3,552.1 171.1,552.6 171.8,553.2 172.6,553.8 173.3,554.5 174.1,555.1 174.8,555.8 175.6,556.5 176.3,557.1 177.0,557.8 177.8,558.5 178.5,559.2 179.3,559.9 180.0,560.6 180.8,561.3 181.5,562.0 182.3,562.7 183.0,563.4 183.8,564.0 184.5,564.7 185.3,565.3 186.0,565.9 186.8,566.5 187.5,567.1 188.3,567.7 189.0,568.3 189.8,568.8 190.5,569.3 191.2,569.8 192.0,570.3 192.7,570.8 193.5,571.3 194.2,571.7 195.0,572.2 195.7,572.6 196.5,573.0 197.2,573.4 198.0,573.8 198.7,574.1 199.5,574.5 200.2,574.8 201.0,575.2 201.7,575.5 202.5,575.8 203.2,576.1 204.0,576.4 204.7,576.6 205.5,576.9 206.2,577.1 206.9,577.4 207.7,577.6 208.4,577.8 209.2,578.0 209.9,578.2 210.7,578.3 211.4,578.5 212.2,578.7 212.9,578.8 213.7,579.0 214.4,579.1 215.2,579.2 215.9,579.3 216.7,579.5 217.4,579.6 218.2,579.7 218.9,579.8 219.7,579.9 220.4,580.0 221.2,580.1 221.9,580.2 222.6,580.3 223.4,580.4 224.1,580.5 224.9,580.6 225.6,580.6 226.4,580.7 227.1,580.8 227.9,580.9 228.6,581.0 229.4,581.1 230.1,581.2 230.9,581.2 231.6,581.3 232.4,581.4 233.1,581.5 233.9,581.6 234.6,581.6 235.4,581.7 236.1,581.8 236.8,581.9 237.6,582.0 238.3,582.0 239.1,582.1 239.8,582.2 240.6,582.3 241.3,582.4 242.1,582.4 242.8,582.5 243.6,582.6 244.3,582.7 245.1,582.7 245.8,582.8 246.6,582.9 247.3,582.9 248.1,583.0 248.8,583.1 249.6,583.1 250.3,583.2 251.1,583.3 251.8,583.3 252.5,583.4 253.3,583.5 254.0,583.5 254.8,583.6 255.5,583.7 256.3,583.7 257.0,583.8 257.8,583.8 258.5,583.9 259.3,584.0 260.0,584.0 260.8,584.1 261.5,584.1 262.3,584.2 263.0,584.2 263.8,584.3 264.5,584.4 265.3,584.4 266.0,584.5 266.7,584.5 267.5,584.6 268.2,584.7 269.0,584.8 269.7,584.8 270.5,584.9 271.2,585.0 272.0,585.1 272.7,585.2 273.5,585.3 274.2,585.4 275.0,585.5 275.7,585.6 276.5,585.8 277.2,585.9 278.0,586.0 278.7,586.2 279.5,586.3 280.2,586.4 280.9,586.5 281.7,586.7 282.4,586.8 283.2,586.9 283.9,587.0 284.7,587.1 285.4,587.2 286.2,587.3 286.9,587.4 287.7,587.5 288.4,587.6 289.2,587.7 289.9,587.7 290.7,587.8 291.4,587.8 292.2,587.9 292.9,587.9 293.7,587.9 294.4,588.0 295.2,588.0 295.9,588.0 296.6,588.1 297.4,588.1 298.1,588.1 298.9,588.1 299.6,588.1 300.4,588.1 301.1,588.1 301.9,588.2 302.6,588.2 303.4,588.2 304.1,588.2 304.9,588.2 305.6,588.2 306.4,588.2 307.1,588.2 307.9,588.2 308.6,588.2 309.4,588.2 310.1,588.3 310.9,588.3 311.6,588.3 312.3,588.3 313.1,588.3 313.8,588.3 314.6,588.3 315.3,588.3 316.1,588.3 316.8,588.3 317.6,588.3 318.3,588.3 319.1,588.3 319.8,588.3 320.6,588.3 321.3,588.3 322.1,588.3 322.8,588.3 323.6,588.4 324.3,588.4 325.1,588.4 325.8,588.4" stroke="#00ff00"/>
<path d="M26.8,573.7 27.5,573.7 28.3,573.7 29.0,573.7 29.8,573.7 30.5,573.7 31.3,573.7 32.0,573.7 32.8,573.7 33.5,573.7 34.3,573.7 35.0,573.7 35.8,573.7 36.5,573.7 37.3,573.7 38.0,573.7 38.8,573.7 39.5,573.7 40.3,573.7 41.0,573.7 41.7,573.7 42.5,573.7 43.2,573.7 44.0,573.7 44.7,573.7 45.5,573.7 46.2,573.7 47.0,573.7 47.7,573.7 48.5,573.7 49.2,573.7 50.0,573.7 50.7,573.7 51.5,573.7 52.2,573.7 53.0,573.7 53.7,573.7 54.5,573.7 55.2,573.7 56.0,573.7 56.7,573.7 57.4,573.7 58.2,573.7 58.9,573.7 59.7,573.7 60.4,573.7 61.2,573.7 61.9,573.7 62.7,573.7 63.4,573.7 64.2,573.7 64.9,573.7 65.7,573.7 66.4,573.7 67.2,573.7 67.9,573.7 68.7,573.7 69.4,573.7 70.2,573.7 70.9,573.7 71.7,573.7 72.4,573.7 73.1,573.7 73.9,573.7 74.6,573.7 75.4,573.7 76.1,573.7 76.9,573.7 77.6,573.7 78.4,573.7 79.1,573.8 79.9,573.8 80.6,573.8 81.4,573.8 82.1,573.8 82.9,573.8 83.6,573.8 84.4,573.8 85.1,573.8 85.9,573.8 86.6,573.8 87.3,573.8 88.1,573.8 88.8,573.8 89.6,573.8 90.3,573.8 91.1,573.9 91.8,573.9 92.6,573.9 93.3,573.9 94.1,573.9 94.8,573.9 95.6,573.9 96.3,573.9 97.1,573.9 97.8,573.9 98.6,573.9 99.3,574.0 100.1,574.0 100.8,574.0 101.5,574.0 102.3,574.0 103.0,574.0 103.8,574.0 104.5,574.0 105.3,574.0 106.0,574.1 106.8,574.1 107.5,574.1 108.3,574.1 109.0,574.1 109.8,574.1 110.5,574.1 111.3,574.2 112.0,574.2 112.8,574.2 113.5,574.2 114.3,574.2 115.0,574.2 115.8,574.2 116.5,574.3 117.2,574.3 118.0,574.3 118.7,574.3 119.5,574.3 120.2,574.3 121.0,574.4 121.7,574.4 122.5,574.4 123.2,574.4 124.0,574.4 124.7,574.4 125.5,574.5 126.2,574.5 127.0,574.5 127.7,574.5 128.5,574.5 129.2,574.5 130.0,574.6 130.7,574.6 131.4,574.6 132.2,574.6 132.9,574.6 133.7,574.7 134.4,574.7 135.2,574.7 135.9,574.7 136.7,574.7 137.4,574.8 138.2,574.8 138.9,574.8 139.7,574.8 140.4,574.8 141.2,574.9 141.9,574.9 142.7,574.9 143.4,574.9 144.2,574.9 144.9,575.0 145.7,575.0 146.4,575.0 147.1,575.0 147.9,575.1 148.6,575.1 149.4,575.1 150.1,575.1 150.9,575.2 151.6,575.2 152.4,575.2 153.1,575.2 153.9,575.3 154.6,575.3 155.4,575.3 156.1,575.3 156.9,575.4 157.6,575.4 158.4,575.4 159.1,575.4 159.9,575.5 160.6,575.5 161.4,575.5 162.1,575.5 162.8,575.6 163.6,575.6 164.3,575.6 165.1,575.6 165.8,575.6 166.6,575.6 167.3,575.6 168.1,575.7 168.8,575.7 169.6,575.7 170.3,575.7 171.1,575.7 171.8,575.7 172.6,575.6 173.3,575.6 174.1,575.6 174.8,575.6 175.6,575.6 176.3,575.6 177.0,575.5 177.8,575.5 178.5,575.4 179.3,575.4 180.0,575.3 180.8,575.3 181.5,575.2 182.3,575.1 183.0,575.0 183.8,574.9 184.5,574.8 185.3,574.7 186.0,574.6 186.8,574.5 187.5,574.3 188.3,574.1 189.0,574.0 189.8,573.8 190.5,573.6 191.2,573.4 192.0,573.1 192.7,572.9 193.5,572.6 194.2,572.3 195.0,572.0 195.7,571.7 196.5,571.4 197.2,571.0 198.0,570.7 198.7,570.3 199.5,569.9 200.2,569.4 201.0,569.0 201.7,568.5 202.5,568.0 203.2,567.5 204.0,566.9 204.7,566.3 205.5,565.7 206.2,565.1 206.9,564.4 207.7,563.8 208.4,563.1 209.2,562.3 209.9,561.6 210.7,560.8 211.4,560.0 212.2,559.2 212.9,558.4 213.7,557.5 214.4,556.6 215.2,555.8 215.9,554.9 216.7,554.0 217.4,553.0 218.2,552.1 218.9,551.2 219.7,550.3 220.4,549.4 221.2,548.5 221.9,547.5 222.6,546.6 223.4,545.7 224.1,544.9 224.9,544.0 225.6,543.2 226.4,542.4 227.1,541.6 227.9,540.8 228.6,540.1 229.4,539.4 230.1,538.7 230.9,538.1 231.6,537.5 232.4,537.0 233.1,536.5 233.9,536.0 234.6,535.6 235.4,535.3 236.1,535.0 236.8,534.8 237.6,534.7 238.3,534.6 239.1,534.5 239.8,534.6 240.6,534.7 241.3,534.8 242.1,535.0 242.8,535.2 243.6,535.5 244.3,535.8 245.1,536.1 245.8,536.5 246.6,537.0 247.3,537.4 248.1,537.9 248.8,538.5 249.6,539.1 250.3,539.7 251.1,540.3 251.8,541.0 252.5,541.7 253.3,542.5 254.0,543.2 254.8,544.0 255.5,544.8 256.3,545.6 257.0,546.4 257.8,547.3 258.5,548.1 259.3,549.0 260.0,549.8 260.8,550.7 261.5,551.6 262.3,552.5 263.0,553.4 263.8,554.3 264.5,555.2 265.3,556.1 266.0,557.0 266.7,557.9 267.5,558.7 268.2,559.6 269.0,560.5 269.7,561.4 270.5,562.3 271.2,563.1 272.0,564.0 272.7,564.8 273.5,565.7 274.2,566.5 275.0,567.3 275.7,568.1 276.5,568.9 277.2,569.7 278.0,570.5 278.7,571.3 279.5,572.0 280.2,572.7 280.9,573.5 281.7,574.1 282.4,574.8 283.2,575.5 283.9,576.1 284.7,576.7 285.4,577.3 286.2,577.8 286.9,578.4 287.7,578.9 288.4,579.3 289.2,579.8 289.9,580.2 290.7,580.7 291.4,581.0 292.2,581.4 292.9,581.8 293.7,582.1 294.4,582.4 295.2,582.7 295.9,583.0 296.6,583.3 297.4,583.5 298.1,583.8 298.9,584.0 299.6,584.2 300.4,584.4 301.1,584.6 301.9,584.8 302.6,585.0 303.4,585.2 304.1,585.3 304.9,585.5 305.6,585.6 306.4,585.7 307.1,585.9 307.9,586.0 308.6,586.1 309.4,586.2 310.1,586.3 310.9,586.4 311.6,586.5 312.3,586.6 313.1,586.6 313.8,586.7 314.6,586.8 315.3,586.8 316.1,586.9 316.8,587.0 317.6,587.0 318.3,587.1 319.1,587.1 319.8,587.2 320.6,587.2 321.3,587.2 322.1,587.3 322.8,587.3 323.6,587.4 324.3,587.4 325.1,587.4 325.8,587.5" stroke="#00ff00"/>
<path d="M26.8,573.7 27.5,573.7 28.3,573.7 29.0,573.7 29.8,573.7 30.5,573.7 31.3,573.7 32.0,573.7 32.8,573.7 33.5,573.7 34.3,573.7 35.0,573.7 35.8,573.7 36.5,573.7 37.3,573.7 38.0,573.7 38.8,573.7 39.5,573.7 40.3,573.7 41.0,573.7 41.7,573.7 42.5,573.7 43.2,573.7 44.0,573.7 44.7,573.7 45.5,573.7 46.2,573.7 47.0,573.7 47.7,573.7 48.5,573.7 49.2,573.8 50.0,573.8 50.7,573.8 51.5,573.8 52.2,573.8 53.0,573.8 53.7,573.8 54.5,573.8 55.2,573.8 56.0,573.8 56.7,573.8 57.4,573.8 58.2,573.8 58.9,573.8 59.7,573.8 60.4,573.8 61.2,573.8 61.9,573.8 62.7,573.8 63.4,573.8 64.2,573.8 64.9,573.8 65.7,573.8 66.4,573.8 67.2,573.8 67.9,573.8 68.7,573.8 69.4,573.8 70.2,573.8 70.9,573.8 71.7,573.8 72.4,573.8 73.1,573.8 73.9,573.8 74.6,573.8 75.4,573.8 76.1,573.8 76.9,573.8 77.6,573.8 78.4,573.8 79.1,573.9 79.9,573.9 80.6,573.9 81.4,573.9 82.1,573.9 82.9,573.9 83.6,573.9 84.4,573.9 85.1,573.9 85.9,573.9 86.6,573.9 87.3,573.9 88.1,573.9 88.8,573.9 89.6,573.9 90.3,573.9 91.1,574.0 91.8,574.0 92.6,574.0 93.3,574.0 94.1,574.0 94.8,574.0 95.6,574.0 96.3,574.0 97.1,574.0 97.8,574.0 98.6,574.0 99.3,574.1 100.1,574.1 100.8,574.1 101.5,574.1 102.3,574.1 103.0,574.1 103.8,574.1 104.5,574.1 105.3,574.2 106.0,574.2 106.8,574.2 107.5,574.2 108.3,574.2 109.0,574.2 109.8,574.2 110.5,574.2 111.3,574.3 112.0,574.3 112.8,574.3 113.5,574.3 114.3,574.3 115.0,574.3 115.8,574.3 116.5,574.4 117.2,574.4 118.0,574.4 118.7,574.4 119.5,574.4 120.2,574.4 121.0,574.4 121.7,574.5 122.5,574.5 123.2,574.5 124.0,574.5 124.7,574.5 125.5,574.5 126.2,574.5 127.0,574.6 127.7,574.6 128.5,574.6 129.2,574.6 130.0,574.6 130.7,574.6 131.4,574.7 132.2,574.7 132.9,574.7 133.7,574.7 134.4,574.7 135.2,574.7 135.9,574.7 136.7,574.8 137.4,574.8 138.2,574.8 138.9,574.8 139.7,574.8 140.4,574.8 141.2,574.8 141.9,574.8 142.7,574.9 143.4,574.9 144.2,574.9 144.9,574.9 145.7,574.9 146.4,574.9 147.1,574.9 147.9,574.9 148.6,574.9 149.4,574.9 150.1,574.9 150.9,574.9 151.6,574.8 152.4,574.8 153.1,574.8 153.9,574.7 154.6,574.7 155.4,574.6 156.1,574.6 156.9,574.5 157.6,574.4 158.4,574.3 159.1,574.1 159.9,574.0 160.6,573.8 161.4,573.6 162.1,573.4 162.8,573.1 163.6,572.8 164.3,572.5 165.1,572.2 165.8,571.8 166.6,571.3 167.3,570.8 168.1,570.3 168.8,569.8 169.6,569.1 170.3,568.5 171.1,567.8 171.8,567.0 172.6,566.2 173.3,565.3 174.1,564.4 174.8,563.4 175.6,562.4 176.3,561.3 177.0,560.2 177.8,559.0 178.5,557.9 179.3,556.7 180.0,555.4 180.8,554.2 181.5,552.9 182.3,551.7 183.0,550.4 183.8,549.2 184.5,548.0 185.3,546.8 186.0,545.6 186.8,544.6 187.5,543.5 188.3,542.6 189.0,541.8 189.8,541.0 190.5,540.4 191.2,539.9 192.0,539.5 192.7,539.2 193.5,539.1 194.2,539.1 195.0,539.3 195.7,539.6 196.5,540.1 197.2,540.8 198.0,541.6 198.7,542.5 199.5,543.6 200.2,544.8 201.0,546.1 201.7,547.4 202.5,548.9 203.2,550.4 204.0,551.9 204.7,553.4 205.5,555.0 206.2,556.5 206.9,558.0 207.7,559.6 208.4,561.0 209.2,562.5 209.9,563.9 210.7,565.2 211.4,566.5 212.2,567.7 212.9,568.9 213.7,570.0 214.4,571.0 215.2,571.9 215.9,572.8 216.7,573.7 217.4,574.5 218.2,575.2 218.9,575.8 219.7,576.4 220.4,577.0 221.2,577.5 221.9,578.0 222.6,578.4 223.4,578.8 224.1,579.1 224.9,579.4 225.6,579.7 226.4,580.0 227.1,580.2 227.9,580.4 228.6,580.6 229.4,580.8 230.1,581.0 230.9,581.2 231.6,581.3 232.4,581.4 233.1,581.6 233.9,581.7 234.6,581.8 235.4,581.9 236.1,582.0 236.8,582.1 237.6,582.2 238.3,582.3 239.1,582.4 239.8,582.5 240.6,582.5 241.3,582.6 242.1,582.7 242.8,582.8 243.6,582.9 244.3,582.9 245.1,583.0 245.8,583.1 246.6,583.2 247.3,583.2 248.1,583.3 248.8,583.4 249.6,583.4 250.3,583.5 251.1,583.6 251.8,583.6 252.5,583.7 253.3,583.8 254.0,583.8 254.8,583.9 255.5,583.9 256.3,584.0 257.0,584.1 257.8,584.1 258.5,584.2 259.3,584.2 260.0,584.3 260.8,584.3 261.5,584.4 262.3,584.5 263.0,584.5 263.8,584.6 264.5,584.6 265.3,584.7 266.0,584.7 266.7,584.8 267.5,584.9 268.2,584.9 269.0,585.0 269.7,585.1 270.5,585.2 271.2,585.3 272.0,585.3 272.7,585.4 273.5,585.5 274.2,585.6 275.0,585.8 275.7,585.9 276.5,586.0 277.2,586.1 278.0,586.3 278.7,586.4 279.5,586.5 280.2,586.6 280.9,586.8 281.7,586.9 282.4,587.0 283.2,587.1 283.9,587.3 284.7,587.4 285.4,587.5 286.2,587.6 286.9,587.6 287.7,587.7 288.4,587.8 289.2,587.9 289.9,587.9 290.7,588.0 291.4,588.0 292.2,588.1 292.9,588.1 293.7,588.1 294.4,588.2 295.2,588.2 295.9,588.2 296.6,588.2 297.4,588.3 298.1,588.3 298.9,588.3 299.6,588.3 300.4,588.3 301.1,588.3 301.9,588.3 302.6,588.3 303.4,588.4 304.1,588.4 304.9,588.4 305.6,588.4 306.4,588.4 307.1,588.4 307.9,588.4 308.6,588.4 309.4,588.4 310.1,588.4 310.9,588.4 311.6,588.4 312.3,588.4 313.1,588.4 313.8,588.4 314.6,588.4 315.3,588.5 316.1,588.5 316.8,588.5 317.6,588.5 318.3,588.5 319.1,588.5 319.8,588.5 320.6,588.5 321.3,588.5 322.1,588.5 322.8,588.5 323.6,588.5 324.3,588.5 325.1,588.5 325.8,588.5" stroke="#ff8000"/>
<path d="M26.8,573.8 27.5,573.8 28.3,573.8 29.0,573.8 29.8,573.8 30.5,573.8 31.3,573.8 32.0,573.8 32.8,573.8 33.5,573.8 34.3,573.8 35.0,573.8 35.8,573.8 36.5,573.8 37.3,573.8 38.0,573.8 38.8,573.8 39.5,573.8 40.3,573.8 41.0,573.8 41.7,573.8 42.5,573.8 43.2,573.8 44.0,573.8 44.7,573.8 45.5,573.8 46.2,573.8 47.0,573.8 47.7,573.8 48.5,573.8 49.2,573.8 50.0,573.8 50.7,573.8 51.5,573.8 52.2,573.8 53.0,573.8 53.7,573.8 54.5,573.8 55.2,573.8 56.0,573.8 56.7,573.8 57.4,573.9 58.2,573.9 58.9,573.9 59.7,573.9 60.4,573.9 61.2,573.9 61.9,573.9 62.7,573.9 63.4,573.9 64.2,573.9 64.9,573.9 65.7,573.9 66.4,573.9 67.2,573.9 67.9,573.9 68.7,573.9 69.4,573.9 70.2,573.9 70.9,573.9 71.7,573.9 72.4,573.9 73.1,573.9 73.9,573.9 74.6,573.9 75.4,573.9 76.1,574.0 76.9,574.0 77.6,574.0 78.4,574.0 79.1,574.0 79.9,574.0 80.6,574.0 81.4,574.0 82.1,574.0 82.9,574.0 83.6,574.0 84.4,574.0 85.1,574.0 85.9,574.0 86.6,574.1 87.3,574.1 88.1,574.1 88.8,574.1 89.6,574.1 90.3,574.1 91.1,574.1 91.8,574.1 92.6,574.1 93.3,574.1 94.1,574.2 94.8,574.2 95.6,574.2 96.3,574.2 97.1,574.2 97.8,574.2 98.6,574.2 99.3,574.2 100.1,574.3 100.8,574.3 101.5,574.3 102.3,574.3 103.0,574.3 103.8,574.3 104.5,574.3 105.3,574.4 106.0,574.4 106.8,574.4 107.5,574.4 108.3,574.4 109.0,574.4 109.8,574.5 110.5,574.5 111.3,574.5 112.0,574.5 112.8,574.5 113.5,574.6 114.3,574.6 115.0,574.6 115.8,574.6 116.5,574.6 117.2,574.7 118.0,574.7 118.7,574.7 119.5,574.7 120.2,574.7 121.0,574.8 121.7,574.8 122.5,574.8 123.2,574.8 124.0,574.8 124.7,574.9 125.5,574.9 126.2,574.9 127.0,574.9 127.7,575.0 128.5,575.0 129.2,575.0 130.0,575.0 130.7,575.1 131.4,575.1 132.2,575.1 132.9,575.1 133.7,575.2 134.4,575.2 135.2,575.2 135.9,575.2 136.7,575.3 137.4,575.3 138.2,575.3 138.9,575.4 139.7,575.4 140.4,575.4 141.2,575.4 141.9,575.5 142.7,575.5 143.4,575.5 144.2,575.6 144.9,575.6 145.7,575.6 146.4,575.7 147.1,575.7 147.9,575.7 148.6,575.8 149.4,575.8 150.1,575.8 150.9,575.9 151.6,575.9 152.4,576.0 153.1,576.0 153.9,576.0 154.6,576.1 155.4,576.1 156.1,576.2 156.9,576.2 157.6,576.2 158.4,576.3 159.1,576.3 159.9,576.4 160.6,576.4 161.4,576.5 162.1,576.5 162.8,576.6 163.6,576.6 164.3,576.6 165.1,576.7 165.8,576.7 166.6,576.8 167.3,576.8 168.1,576.9 168.8,576.9 169.6,577.0 170.3,577.0 171.1,577.1 171.8,577.1 172.6,577.2 173.3,577.2 174.1,577.3 174.8,577.3 175.6,577.4 176.3,577.4 177.0,577.5 177.8,577.5 178.5,577.6 179.3,577.6 180.0,577.7 180.8,577.7 181.5,577.8 182.3,577.9 183.0,577.9 183.8,578.0 184.5,578.1 185.3,578.1 186.0,578.2 186.8,578.2 187.5,578.3 188.3,578.4 189.0,578.5 189.8,578.5 190.5,578.6 191.2,578.7 192.0,578.7 192.7,578.8 193.5,578.9 194.2,579.0 195.0,579.1 195.7,579.2 196.5,579.2 197.2,579.3 198.0,579.4 198.7,579.5 199.5,579.6 200.2,579.7 201.0,579.8 201.7,579.9 202.5,580.0 203.2,580.1 204.0,580.2 204.7,580.3 205.5,580.4 206.2,580.4 206.9,580.5 207.7,580.6 208.4,580.7 209.2,580.7 209.9,580.8 210.7,580.9 211.4,580.9 212.2,581.0 212.9,581.0 213.7,581.1 214.4,581.1 215.2,581.2 215.9,581.2 216.7,581.3 217.4,581.3 218.2,581.4 218.9,581.4 219.7,581.5 220.4,581.5 221.2,581.6 221.9,581.6 222.6,581.7 223.4,581.7 224.1,581.8 224.9,581.8 225.6,581.8 226.4,581.9 227.1,581.9 227.9,582.0 228.6,582.0 229.4,582.1 230.1,582.1 230.9,582.2 231.6,582.2 232.4,582.3 233.1,582.3 233.9,582.4 234.6,582.4 235.4,582.5 236.1,582.5 236.8,582.6 237.6,582.6 238.3,582.6 239.1,582.7 239.8,582.7 240.6,582.8 241.3,582.8 242.1,582.9 242.8,582.9 243.6,582.9 244.3,583.0 245.1,583.0 245.8,583.0 246.6,583.1 247.3,583.1 248.1,583.1 248.8,583.1 249.6,583.1 250.3,583.1 251.1,583.1 251.8,583.1 252.5,583.1 253.3,583.0 254.0,583.0 254.8,582.8 255.5,582.7 256.3,582.5 257.0,582.2 257.8,581.8 258.5,581.4 259.3,580.8 260.0,580.0 260.8,579.1 261.5,578.0 262.3,576.6 263.0,575.0 263.8,573.1 264.5,570.8 265.3,568.2 266.0,565.2 266.7,561.8 267.5,558.0 268.2,553.8 269.0,549.3 269.7,544.4 270.5,539.3 271.2,534.0 272.0,528.5 272.7,523.1 273.5,517.7 274.2,512.5 275.0,507.7 275.7,503.4 276.5,499.6 277.2,496.6 278.0,494.4 278.7,493.1 279.5,492.7 280.2,493.3 280.9,494.9 281.7,497.4 282.4,500.6 283.2,504.6 283.9,509.2 284.7,514.2 285.4,519.6 286.2,525.1 286.9,530.8 287.7,536.4 288.4,541.9 289.2,547.1 289.9,552.1 290.7,556.8 291.4,561.0 292.2,564.9 292.9,568.4 293.7,571.5 294.4,574.2 295.2,576.6 295.9,578.6 296.6,580.3 297.4,581.7 298.1,582.9 298.9,583.8 299.6,584.6 300.4,585.3 301.1,585.8 301.9,586.2 302.6,586.6 303.4,586.8 304.1,587.0 304.9,587.2 305.6,587.3 306.4,587.5 307.1,587.5 307.9,587.6 308.6,587.7 309.4,587.7 310.1,587.8 310.9,587.8 311.6,587.9 312.3,587.9 313.1,587.9 313.8,588.0 314.6,588.0 315.3,588.0 316.1,588.0 316.8,588.1 317.6,588.1 318.3,588.1 319.1,588.1 319.8,588.1 320.6,588.2 321.3,588.2 322.1,588.2 322.8,588.2 323.6,588.2 324.3,588.2 325.1,588.3 325.8,588.3" stroke="#ff8000"/>
<path d="M26.8,573.2 27.5,573.2 28.3,573.2 29.0,573.2 29.8,573.2 30.5,573.2 31.3,573.2 32.0,573.2 32.8,573.1 33.5,573.1 34.3,573.1 35.0,573.1 35.8,573.1 36.5,573.1 37.3,573.0 38.0,573.0 38.8,573.0 39.5,573.0 40.3,573.0 41.0,572.9 41.7,572.9 42.5,572.9 43.2,572.9 44.0,572.8 44.7,572.8 45.5,572.8 46.2,572.7 47.0,572.7 47.7,572.7 48.5,572.6 49.2,572.6 50.0,572.6 50.7,572.5 51.5,572.5 52.2,572.4 53.0,572.4 53.7,572.3 54.5,572.3 55.2,572.2 56.0,572.2 56.7,572.1 57.4,572.0 58.2,572.0 58.9,571.9 59.7,571.8 60.4,571.7 61.2,571.7 61.9,571.6 62.7,571.5 63.4,571.4 64.2,571.3 64.9,571.2 65.7,571.1 66.4,571.0 67.2,570.9 67.9,570.8 68.7,570.7 69.4,570.6 70.2,570.5 70.9,570.3 71.7,570.2 72.4,570.1 73.1,569.9 73.9,569.8 74.6,569.6 75.4,569.5 76.1,569.3 76.9,569.2 77.6,569.0 78.4,568.9 79.1,568.7 79.9,568.5 80.6,568.4 81.4,568.2 82.1,568.0 82.9,567.8 83.6,567.6 84.4,567.4 85.1,567.2 85.9,567.0 86.6,566.8 87.3,566.6 88.1,566.4 88.8,566.2 89.6,566.0 90.3,565.8 91.1,565.6 91.8,565.3 92.6,565.1 93.3,564.9 94.1,564.7 94.8,564.5 95.6,564.2 96.3,564.0 97.1,563.8 97.8,563.6 98.6,563.4 99.3,563.2 100.1,562.9 100.8,562.7 101.5,562.5 102.3,562.3 103.0,562.1 103.8,561.9 104.5,561.7 105.3,561.5 106.0,561.3 106.8,561.1 107.5,561.0 108.3,560.8 109.0,560.6 109.8,560.5 110.5,560.3 111.3,560.2 112.0,560.1 112.8,559.9 113.5,559.8 114.3,559.7 115.0,559.6 115.8,559.6 116.5,559.5 117.2,559.4 118.0,559.4 118.7,559.3 119.5,559.3 120.2,559.3 121.0,559.3 121.7,559.3 122.5,559.3 123.2,559.4 124.0,559.4 124.7,559.5 125.5,559.6 126.2,559.6 127.0,559.7 127.7,559.8 128.5,560.0 129.2,560.1 130.0,560.2 130.7,560.4 131.4,560.5 132.2,560.7 132.9,560.9 133.7,561.1 134.4,561.3 135.2,561.5 135.9,561.7 136.7,561.9 137.4,562.1 138.2,562.3 138.9,562.6 139.7,562.8 140.4,563.1 141.2,563.3 141.9,563.6 142.7,563.8 143.4,564.1 144.2,564.3 144.9,564.6 145.7,564.9 146.4,565.1 147.1,565.4 147.9,565.7 148.6,565.9 149.4,566.2 150.1,566.5 150.9,566.8 151.6,567.0 152.4,567.3 153.1,567.6 153.9,567.8 154.6,568.1 155.4,568.3 156.1,568.6 156.9,568.9 157.6,569.1 158.4,569.4 159.1,569.6 159.9,569.9 160.6,570.1 161.4,570.4 162.1,570.6 162.8,570.8 163.6,571.1 164.3,571.3 165.1,571.5 165.8,571.7 166.6,571.9 167.3,572.2 168.1,572.4 168.8,572.6 169.6,572.8 170.3,573.0 171.1,573.2 171.8,573.4 172.6,573.5 173.3,573.7 174.1,573.9 174.8,574.1 175.6,574.2 176.3,574.4 177.0,574.6 177.8,574.7 178.5,574.9 179.3,575.1 180.0,575.2 180.8,575.4 181.5,575.5 182.3,575.7 183.0,575.8 183.8,576.0 184.5,576.1 185.3,576.2 186.0,576.4 186.8,576.5 187.5,576.7 188.3,576.8 189.0,576.9 189.8,577.0 190.5,577.2 191.2,577.3 192.0,577.4 192.7,577.6 193.5,577.7 194.2,577.8 195.0,577.9 195.7,578.1 196.5,578.2 197.2,578.3 198.0,578.5 198.7,578.6 199.5,578.7 200.2,578.8 201.0,579.0 201.7,579.1 202.5,579.2 203.2,579.3 204.0,579.5 204.7,579.6 205.5,579.7 206.2,579.8 206.9,579.9 207.7,580.0 208.4,580.1 209.2,580.2 209.9,580.3 210.7,580.3 211.4,580.4 212.2,580.5 212.9,580.6 213.7,580.6 214.4,580.7 215.2,580.8 215.9,580.8 216.7,580.9 217.4,581.0 218.2,581.0 218.9,581.1 219.7,581.2 220.4,581.2 221.2,581.3 221.9,581.3 222.6,581.4 223.4,581.5 224.1,581.5 224.9,581.6 225.6,581.6 226.4,581.7 227.1,581.8 227.9,581.8 228.6,581.9 229.4,581.9 230.1,582.0 230.9,582.1 231.6,582.1 232.4,582.2 233.1,582.3 233.9,582.3 234.6,582.4 235.4,582.4 236.1,582.5 236.8,582.6 237.6,582.6 238.3,582.7 239.1,582.8 239.8,582.8 240.6,582.9 241.3,583.0 242.1,583.0 242.8,583.1 243.6,583.1 244.3,583.2 245.1,583.3 245.8,583.3 246.6,583.4 247.3,583.4 248.1,583.5 248.8,583.6 249.6,583.6 250.3,583.7 251.1,583.7 251.8,583.8 252.5,583.9 253.3,583.9 254.0,584.0 254.8,584.0 255.5,584.1 256.3,584.1 257.0,584.2 257.8,584.2 258.5,584.3 259.3,584.3 260.0,584.4 260.8,584.4 261.5,584.5 262.3,584.5 263.0,584.6 263.8,584.6 264.5,584.7 265.3,584.7 266.0,584.8 266.7,584.9 267.5,584.9 268.2,585.0 269.0,585.0 269.7,585.1 270.5,585.2 271.2,585.3 272.0,585.4 272.7,585.5 273.5,585.6 274.2,585.7 275.0,585.8 275.7,585.9 276.5,586.0 277.2,586.1 278.0,586.3 278.7,586.4 279.5,586.5 280.2,586.7 280.9,586.8 281.7,586.9 282.4,587.0 283.2,587.1 283.9,587.3 284.7,587.4 285.4,587.5 286.2,587.6 286.9,587.6 287.7,587.7 288.4,587.8 289.2,587.9 289.9,587.9 290.7,588.0 291.4,588.0 292.2,588.1 292.9,588.1 293.7,588.1 294.4,588.2 295.2,588.2 295.9,588.2 296.6,588.2 297.4,588.2 298.1,588.3 298.9,588.3 299.6,588.3 300.4,588.3 301.1,588.3 301.9,588.3 302.6,588.3 303.4,588.3 304.1,588.3 304.9,588.3 305.6,588.4 306.4,588.4 307.1,588.4 307.9,588.4 308.6,588.4 309.4,588.4 310.1,588.4 310.9,588.4 311.6,588.4 312.3,588.4 313.1,588.4 313.8,588.4 314.6,588.4 315.3,588.4 316.1,588.4 316.8,588.4 317.6,588.4 318.3,588.4 319.1,588.4 319.8,588.4 320.6,588.5 321.3,588.5 322.1,588.5 322.8,588.5 323.6,588.5 324.3,588.5 325.1,588.5 325.8,588.5" stroke="#0000ff"/>
<path d="M26.8,573.8 27.5,573.8 28.3,573.8 29.0,573.8 29.8,573.8 30.5,573.8 31.3,573.8 32.0,573.8 32.8,573.8 33.5,573.8 34.3,573.8 35.0,573.8 35.8,573.8 36.5,573.8 37.3,573.8 38.0,573.8 38.8,573.8 39.5,573.8 40.3,573.8 41.0,573.8 41.7,573.8 42.5,573.8 43.2,573.8 44.0,573.8 44.7,573.8 45.5,573.8 46.2,573.8 47.0,573.8 47.7,573.8 48.5,573.8 49.2,573.8 50.0,573.8 50.7,573.8 51.5,573.8 52.2,573.8 53.0,573.8 53.7,573.8 54.5,573.8 55.2,573.8 56.0,573.8 56.7,573.8 57.4,573.8 58.2,573.8 58.9,573.8 59.7,573.8 60.4,573.8 61.2,573.9 61.9,573.9 62.7,573.9 63.4,573.9 64.2,573.9 64.9,573.9 65.7,573.9 66.4,573.9 67.2,573.9 67.9,573.9 68.7,573.9 69.4,573.9 70.2,573.9 70.9,573.9 71.7,573.9 72.4,573.9 73.1,573.9 73.9,573.9 74.6,573.9 75.4,573.9 76.1,573.9 76.9,573.9 77.6,573.9 78.4,573.9 79.1,574.0 79.9,574.0 80.6,574.0 81.4,574.0 82.1,574.0 82.9,574.0 83.6,574.0 84.4,574.0 85.1,574.0 85.9,574.0 86.6,574.0 87.3,574.0 88.1,574.0 88.8,574.1 89.6,574.1 90.3,574.1 91.1,574.1 91.8,574.1 92.6,574.1 93.3,574.1 94.1,574.1 94.8,574.1 95.6,574.2 96.3,574.2 97.1,574.2 97.8,574.2 98.6,574.2 99.3,574.2 100.1,574.2 100.8,574.2 101.5,574.3 102.3,574.3 103.0,574.3 103.8,574.3 104.5,574.3 105.3,574.3 106.0,574.3 106.8,574.4 107.5,574.4 108.3,574.4 109.0,574.4 109.8,574.4 110.5,574.4 111.3,574.5 112.0,574.5 112.8,574.5 113.5,574.5 114.3,574.5 115.0,574.5 115.8,574.6 116.5,574.6 117.2,574.6 118.0,574.6 118.7,574.6 119.5,574.7 120.2,574.7 121.0,574.7 121.7,574.7 122.5,574.7 123.2,574.8 124.0,574.8 124.7,574.8 125.5,574.8 126.2,574.8 127.0,574.9 127.7,574.9 128.5,574.9 129.2,574.9 130.0,575.0 130.7,575.0 131.4,575.0 132.2,575.0 132.9,575.0 133.7,575.1 134.4,575.1 135.2,575.1 135.9,575.1 136.7,575.2 137.4,575.2 138.2,575.2 138.9,575.2 139.7,575.3 140.4,575.3 141.2,575.3 141.9,575.3 142.7,575.4 143.4,575.4 144.2,575.4 144.9,575.5 145.7,575.5 146.4,575.5 147.1,575.6 147.9,575.6 148.6,575.6 149.4,575.6 150.1,575.7 150.9,575.7 151.6,575.7 152.4,575.8 153.1,575.8 153.9,575.8 154.6,575.9 155.4,575.9 156.1,575.9 156.9,576.0 157.6,576.0 158.4,576.0 159.1,576.1 159.9,576.1 160.6,576.1 161.4,576.2 162.1,576.2 162.8,576.2 163.6,576.3 164.3,576.3 165.1,576.3 165.8,576.4 166.6,576.4 167.3,576.4 168.1,576.4 168.8,576.5 169.6,576.5 170.3,576.5 171.1,576.5 171.8,576.6 172.6,576.6 173.3,576.6 174.1,576.6 174.8,576.6 175.6,576.7 176.3,576.7 177.0,576.7 177.8,576.7 178.5,576.7 179.3,576.7 180.0,576.7 180.8,576.6 181.5,576.6 182.3,576.6 183.0,576.5 183.8,576.4 184.5,576.3 185.3,576.2 186.0,576.0 186.8,575.8 187.5,575.5 188.3,575.1 189.0,574.6 189.8,574.0 190.5,573.2 191.2,572.3 192.0,571.2 192.7,569.9 193.5,568.4 194.2,566.8 195.0,564.9 195.7,562.9 196.5,560.8 197.2,558.5 198.0,556.3 198.7,554.1 199.5,552.1 200.2,550.4 201.0,549.1 201.7,548.3 202.5,548.1 203.2,548.5 204.0,549.5 204.7,551.0 205.5,552.9 206.2,555.1 206.9,557.4 207.7,559.8 208.4,562.2 209.2,564.5 209.9,566.7 210.7,568.7 211.4,570.5 212.2,572.1 212.9,573.5 213.7,574.8 214.4,575.8 215.2,576.7 215.9,577.5 216.7,578.1 217.4,578.6 218.2,579.0 218.9,579.4 219.7,579.7 220.4,579.9 221.2,580.2 221.9,580.3 222.6,580.5 223.4,580.7 224.1,580.8 224.9,580.9 225.6,581.1 226.4,581.2 227.1,581.3 227.9,581.4 228.6,581.5 229.4,581.6 230.1,581.7 230.9,581.8 231.6,581.9 232.4,582.0 233.1,582.0 233.9,582.1 234.6,582.2 235.4,582.3 236.1,582.4 236.8,582.5 237.6,582.5 238.3,582.6 239.1,582.7 239.8,582.8 240.6,582.8 241.3,582.9 242.1,583.0 242.8,583.1 243.6,583.1 244.3,583.2 245.1,583.3 245.8,583.3 246.6,583.4 247.3,583.5 248.1,583.5 248.8,583.6 249.6,583.7 250.3,583.7 251.1,583.8 251.8,583.8 252.5,583.9 253.3,584.0 254.0,584.0 254.8,584.1 255.5,584.1 256.3,584.2 257.0,584.2 257.8,584.3 258.5,584.4 259.3,584.4 260.0,584.5 260.8,584.5 261.5,584.6 262.3,584.6 263.0,584.7 263.8,584.7 264.5,584.8 265.3,584.8 266.0,584.9 266.7,584.9 267.5,585.0 268.2,585.1 269.0,585.1 269.7,585.2 270.5,585.3 271.2,585.4 272.0,585.5 272.7,585.6 273.5,585.7 274.2,585.8 275.0,585.9 275.7,586.0 276.5,586.1 277.2,586.2 278.0,586.4 278.7,586.5 279.5,586.6 280.2,586.8 280.9,586.9 281.7,587.0 282.4,587.1 283.2,587.2 283.9,587.4 284.7,587.5 285.4,587.6 286.2,587.7 286.9,587.7 287.7,587.8 288.4,587.9 289.2,588.0 289.9,588.0 290.7,588.1 291.4,588.1 292.2,588.2 292.9,588.2 293.7,588.2 294.4,588.3 295.2,588.3 295.9,588.3 296.6,588.3 297.4,588.3 298.1,588.4 298.9,588.4 299.6,588.4 300.4,588.4 301.1,588.4 301.9,588.4 302.6,588.4 303.4,588.4 304.1,588.4 304.9,588.4 305.6,588.4 306.4,588.5 307.1,588.5 307.9,588.5 308.6,588.5 309.4,588.5 310.1,588.5 310.9,588.5 311.6,588.5 312.3,588.5 313.1,588.5 313.8,588.5 314.6,588.5 315.3,588.5 316.1,588.5 316.8,588.5 317.6,588.5 318.3,588.5 319.1,588.5 319.8,588.5 320.6,588.5 321.3,588.5 322.1,588.5 322.8,588.5 323.6,588.5 324.3,588.6 325.1,588.6 325.8,588.6" stroke="#0000ff"/>
<path d="M26.8,572.9 27.5,572.9 28.3,572.9 29.0,572.9 29.8,572.8 30.5,572.8 31.3,572.8 32.0,572.8 32.8,572.8 33.5,572.8 34.3,572.7 35.0,572.7 35.8,572.7 36.5,572.7 37.3,572.7 38.0,572.6 38.8,572.6 39.5,572.6 40.3,572.6 41.0,572.5 41.7,572.5 42.5,572.5 43.2,572.5 44.0,572.4 44.7,572.4 45.5,572.4 46.2,572.3 47.0,572.3 47.7,572.2 48.5,572.2 49.2,572.2 50.0,572.1 50.7,572.1 51.5,572.0 52.2,572.0 53.0,571.9 53.7,571.9 54.5,571.8 55.2,571.7 56.0,571.7 56.7,571.6 57.4,571.5 58.2,571.5 58.9,571.4 59.7,571.3 60.4,571.2 61.2,571.1 61.9,571.1 62.7,571.0 63.4,570.9 64.2,570.8 64.9,570.7 65.7,570.6 66.4,570.5 67.2,570.3 67.9,570.2 68.7,570.1 69.4,570.0 70.2,569.9 70.9,569.7 71.7,569.6 72.4,569.4 73.1,569.3 73.9,569.2 74.6,569.0 75.4,568.8 76.1,568.7 76.9,568.5 77.6,568.4 78.4,568.2 79.1,568.0 79.9,567.8 80.6,567.6 81.4,567.5 82.1,567.3 82.9,567.1 83.6,566.9 84.4,566.7 85.1,566.5 85.9,566.2 86.6,566.0 87.3,565.8 88.1,565.6 88.8,565.4 89.6,565.2 90.3,564.9 91.1,564.7 91.8,564.5 92.6,564.2 93.3,564.0 94.1,563.8 94.8,563.5 95.6,563.3 96.3,563.0 97.1,562.8 97.8,562.6 98.6,562.3 99.3,562.1 100.1,561.8 100.8,561.6 101.5,561.4 102.3,561.1 103.0,560.9 103.8,560.7 104.5,560.4 105.3,560.2 106.0,560.0 106.8,559.8 107.5,559.5 108.3,559.3 109.0,559.1 109.8,558.9 110.5,558.7 111.3,558.5 112.0,558.3 112.8,558.1 113.5,557.9 114.3,557.7 115.0,557.5 115.8,557.3 116.5,557.1 117.2,556.9 118.0,556.7 118.7,556.5 119.5,556.3 120.2,556.2 121.0,556.0 121.7,555.8 122.5,555.6 123.2,555.4 124.0,555.2 124.7,555.0 125.5,554.8 126.2,554.6 127.0,554.4 127.7,554.2 128.5,554.0 129.2,553.7 130.0,553.5 130.7,553.2 131.4,553.0 132.2,552.7 132.9,552.4 133.7,552.1 134.4,551.8 135.2,551.5 135.9,551.1 136.7,550.8 137.4,550.4 138.2,550.0 138.9,549.6 139.7,549.2 140.4,548.8 141.2,548.4 141.9,548.0 142.7,547.5 143.4,547.1 144.2,546.6 144.9,546.2 145.7,545.7 146.4,545.2 147.1,544.8 147.9,544.3 148.6,543.8 149.4,543.4 150.1,542.9 150.9,542.5 151.6,542.0 152.4,541.6 153.1,541.2 153.9,540.8 154.6,540.4 155.4,540.0 156.1,539.6 156.9,539.3 157.6,538.9 158.4,538.6 159.1,538.3 159.9,538.0 160.6,537.7 161.4,537.5 162.1,537.2 162.8,537.0 163.6,536.7 164.3,536.5 165.1,536.3 165.8,536.1 166.6,535.8 167.3,535.6 168.1,535.4 168.8,535.1 169.6,534.9 170.3,534.6 171.1,534.2 171.8,533.9 172.6,533.5 173.3,533.0 174.1,532.5 174.8,532.0 175.6,531.4 176.3,530.8 177.0,530.1 177.8,529.4 178.5,528.6 179.3,527.8 180.0,527.0 180.8,526.1 181.5,525.2 182.3,524.3 183.0,523.3 183.8,522.4 184.5,521.4 185.3,520.4 186.0,519.4 186.8,518.4 187.5,517.4 188.3,516.3 189.0,515.3 189.8,514.1 190.5,512.9 191.2,511.7 192.0,510.4 192.7,509.0 193.5,507.5 194.2,506.0 195.0,504.4 195.7,502.7 196.5,501.1 197.2,499.5 198.0,498.0 198.7,496.7 199.5,495.7 200.2,495.0 201.0,494.8 201.7,495.1 202.5,496.0 203.2,497.5 204.0,499.7 204.7,502.3 205.5,505.2 206.2,508.4 206.9,511.7 207.7,514.9 208.4,518.1 209.2,521.1 209.9,523.9 210.7,526.3 211.4,528.6 212.2,530.5 212.9,532.1 213.7,533.4 214.4,534.5 215.2,535.4 215.9,536.0 216.7,536.5 217.4,536.9 218.2,537.1 218.9,537.2 219.7,537.2 220.4,537.2 221.2,537.1 221.9,536.9 222.6,536.8 223.4,536.6 224.1,536.4 224.9,536.1 225.6,535.9 226.4,535.6 227.1,535.3 227.9,534.9 228.6,534.6 229.4,534.3 230.1,533.9 230.9,533.6 231.6,533.2 232.4,532.9 233.1,532.6 233.9,532.4 234.6,532.1 235.4,531.9 236.1,531.7 236.8,531.6 237.6,531.6 238.3,531.5 239.1,531.6 239.8,531.7 240.6,531.8 241.3,532.0 242.1,532.2 242.8,532.4 243.6,532.7 244.3,533.1 245.1,533.4 245.8,533.9 246.6,534.3 247.3,534.8 248.1,535.3 248.8,535.9 249.6,536.5 250.3,537.1 251.1,537.7 251.8,538.3 252.5,539.0 253.3,539.6 254.0,540.3 254.8,540.9 255.5,541.5 256.3,542.1 257.0,542.6 257.8,543.1 258.5,543.5 259.3,543.7 260.0,543.8 260.8,543.8 261.5,543.5 262.3,543.0 263.0,542.2 263.8,541.2 264.5,539.8 265.3,538.0 266.0,535.9 266.7,533.3 267.5,530.4 268.2,527.1 269.0,523.4 269.7,519.3 270.5,515.0 271.2,510.5 272.0,505.8 272.7,501.1 273.5,496.5 274.2,492.1 275.0,488.0 275.7,484.4 276.5,481.3 277.2,479.0 278.0,477.4 278.7,476.8 279.5,477.1 280.2,478.3 280.9,480.4 281.7,483.5 282.4,487.3 283.2,491.8 283.9,496.9 284.7,502.5 285.4,508.3 286.2,514.4 286.9,520.5 287.7,526.5 288.4,532.4 289.2,538.1 289.9,543.5 290.7,548.5 291.4,553.1 292.2,557.3 292.9,561.2 293.7,564.6 294.4,567.6 295.2,570.2 295.9,572.5 296.6,574.4 297.4,576.1 298.1,577.5 298.9,578.7 299.6,579.7 300.4,580.6 301.1,581.3 301.9,581.9 302.6,582.4 303.4,582.8 304.1,583.2 304.9,583.5 305.6,583.8 306.4,584.1 307.1,584.3 307.9,584.5 308.6,584.6 309.4,584.8 310.1,585.0 310.9,585.1 311.6,585.2 312.3,585.3 313.1,585.4 313.8,585.6 314.6,585.7 315.3,585.7 316.1,585.8 316.8,585.9 317.6,586.0 318.3,586.1 319.1,586.1 319.8,586.2 320.6,586.3 321.3,586.3 322.1,586.4 322.8,586.4 323.6,586.5 324.3,586.5 325.1,586.6 325.8,586.6" stroke="#ff0080" stroke-width="1.7"/>
</g>
<rect x="26.8" y="329.5" width="299.00" height="266.90" fill="none" stroke="#000" stroke-width="1.15"/>
<path d="M26.8,367.40h5.0M26.8,405.57h2.6M26.8,443.73h5.0M26.8,481.90h2.6M26.8,520.07h5.0M26.8,558.23h2.6M26.80,596.4v4.7M51.72,596.4v2.9M76.63,596.4v4.7M101.55,596.4v2.9M126.47,596.4v4.7M151.38,596.4v2.9M176.30,596.4v4.7M201.22,596.4v2.9M226.13,596.4v4.7M251.05,596.4v2.9M275.97,596.4v4.7M300.88,596.4v2.9M325.80,596.4v4.7" stroke="#000" stroke-width="1.15" fill="none"/>
<text x="26.30" y="614.00" text-anchor="middle" class="t">240</text>
<text x="76.13" y="614.00" text-anchor="middle" class="t">238</text>
<text x="125.97" y="614.00" text-anchor="middle" class="t">236</text>
<text x="175.80" y="614.00" text-anchor="middle" class="t">234</text>
<text x="225.63" y="614.00" text-anchor="middle" class="t">232</text>
<text x="275.47" y="614.00" text-anchor="middle" class="t">230</text>
<text x="325.30" y="614.00" text-anchor="middle" class="t">228</text>
<text x="181.40" y="631.90" text-anchor="middle" class="a">Binding energy (eV)</text>
<text transform="translate(16.30,436.20) rotate(-90)" text-anchor="middle" class="c">CPS</text>
<path d="M41.10,348.10V368.60" stroke="#000" stroke-width="1.15"/>
<text x="43.60" y="364.70" class="t">5000</text>
<text x="303.30" y="354.70" text-anchor="end" class="t">540</text>
<text x="307.70" y="347.20" class="o">o</text>
<text x="311.80" y="354.70" class="a">C</text>
<clipPath id="c560"><rect x="369.45" y="329.0" width="299.4" height="267.0"/></clipPath>
<g fill="none" stroke-linejoin="round" stroke-width="1.55" clip-path="url(#c560)">
<path d="M369.4,572.5 370.2,572.4 370.9,572.2 371.7,572.1 372.4,572.0 373.2,571.9 373.9,571.9 374.7,571.9 375.4,572.0 376.2,572.1 376.9,572.2 377.7,572.2 378.4,572.3 379.2,572.3 379.9,572.2 380.7,572.0 381.4,571.9 382.1,571.8 382.9,571.7 383.6,571.7 384.4,571.7 385.1,571.7 385.9,571.7 386.6,571.7 387.4,571.7 388.1,571.7 388.9,571.7 389.6,571.7 390.4,571.7 391.1,571.6 391.9,571.5 392.6,571.4 393.4,571.2 394.1,571.0 394.8,570.8 395.6,570.7 396.3,570.7 397.1,570.6 397.8,570.7 398.6,570.6 399.3,570.6 400.1,570.5 400.8,570.4 401.6,570.3 402.3,570.2 403.1,570.2 403.8,570.2 404.6,570.2 405.3,570.3 406.0,570.5 406.8,570.6 407.5,570.7 408.3,570.7 409.0,570.6 409.8,570.4 410.5,570.1 411.3,569.9 412.0,569.6 412.8,569.5 413.5,569.4 414.3,569.4 415.0,569.4 415.8,569.4 416.5,569.3 417.2,569.2 418.0,569.0 418.7,568.9 419.5,568.7 420.2,568.6 421.0,568.6 421.7,568.5 422.5,568.4 423.2,568.3 424.0,568.1 424.7,567.9 425.5,567.7 426.2,567.4 427.0,567.1 427.7,566.8 428.5,566.5 429.2,566.3 429.9,566.0 430.7,565.8 431.4,565.5 432.2,565.2 432.9,564.9 433.7,564.5 434.4,564.1 435.2,563.8 435.9,563.5 436.7,563.3 437.4,563.2 438.2,563.1 438.9,563.0 439.7,562.9 440.4,562.8 441.1,562.7 441.9,562.5 442.6,562.3 443.4,562.1 444.1,561.9 444.9,561.6 445.6,561.4 446.4,561.0 447.1,560.7 447.9,560.3 448.6,559.9 449.4,559.4 450.1,558.9 450.9,558.4 451.6,557.9 452.4,557.4 453.1,557.0 453.8,556.7 454.6,556.5 455.3,556.3 456.1,556.3 456.8,556.2 457.6,556.1 458.3,555.9 459.1,555.7 459.8,555.4 460.6,555.2 461.3,554.9 462.1,554.6 462.8,554.4 463.6,554.2 464.3,553.9 465.1,553.7 465.8,553.5 466.5,553.2 467.3,552.9 468.0,552.6 468.8,552.3 469.5,551.9 470.3,551.4 471.0,551.0 471.8,550.5 472.5,550.1 473.3,549.8 474.0,549.5 474.8,549.2 475.5,549.0 476.3,548.7 477.0,548.4 477.7,548.1 478.5,547.8 479.2,547.4 480.0,546.9 480.7,546.5 481.5,546.0 482.2,545.4 483.0,544.9 483.7,544.3 484.5,543.8 485.2,543.1 486.0,542.5 486.7,541.9 487.5,541.3 488.2,540.8 489.0,540.3 489.7,540.0 490.4,539.7 491.2,539.5 491.9,539.4 492.7,539.2 493.4,539.0 494.2,538.7 494.9,538.4 495.7,538.1 496.4,537.7 497.2,537.3 497.9,536.9 498.7,536.5 499.4,536.2 500.2,535.9 500.9,535.7 501.6,535.6 502.4,535.5 503.1,535.4 503.9,535.1 504.6,534.9 505.4,534.6 506.1,534.3 506.9,534.0 507.6,533.9 508.4,533.9 509.1,534.0 509.9,534.1 510.6,534.2 511.4,534.4 512.1,534.6 512.8,534.7 513.6,534.9 514.3,534.9 515.1,534.9 515.8,534.8 516.6,534.6 517.3,534.3 518.1,533.9 518.8,533.5 519.6,533.1 520.3,532.6 521.1,532.0 521.8,531.2 522.6,530.3 523.3,529.3 524.1,528.2 524.8,527.1 525.5,526.1 526.3,525.2 527.0,524.3 527.8,523.3 528.5,522.1 529.3,520.7 530.0,519.0 530.8,517.2 531.5,515.2 532.3,513.0 533.0,510.8 533.8,508.6 534.5,506.4 535.3,504.2 536.0,502.1 536.8,500.1 537.5,498.2 538.2,496.5 539.0,495.0 539.7,493.9 540.5,493.1 541.2,492.6 542.0,492.6 542.7,492.9 543.5,493.5 544.2,494.5 545.0,495.7 545.7,497.3 546.5,499.2 547.2,501.4 548.0,503.8 548.7,506.4 549.4,509.2 550.2,511.9 550.9,514.7 551.7,517.4 552.4,519.9 553.2,522.2 553.9,524.3 554.7,526.3 555.4,527.9 556.2,529.4 556.9,530.8 557.7,532.0 558.4,533.1 559.2,534.1 559.9,534.9 560.7,535.7 561.4,536.3 562.1,536.7 562.9,536.9 563.6,537.0 564.4,536.9 565.1,536.6 565.9,536.3 566.6,535.8 567.4,535.2 568.1,534.7 568.9,534.1 569.6,533.5 570.4,533.0 571.1,532.5 571.9,532.1 572.6,531.6 573.3,531.2 574.1,530.8 574.8,530.5 575.6,530.2 576.3,530.0 577.1,529.9 577.8,530.0 578.6,530.2 579.3,530.5 580.1,530.9 580.8,531.4 581.6,531.9 582.3,532.4 583.1,532.8 583.8,533.3 584.5,533.7 585.3,534.0 586.0,534.3 586.8,534.5 587.5,534.7 588.3,534.9 589.0,535.1 589.8,535.4 590.5,535.6 591.3,535.8 592.0,535.9 592.8,535.9 593.5,535.7 594.3,535.4 595.0,535.0 595.8,534.6 596.5,534.1 597.2,533.6 598.0,533.0 598.7,532.4 599.5,531.8 600.2,531.1 601.0,530.4 601.7,529.7 602.5,528.9 603.2,528.3 604.0,527.7 604.7,527.2 605.5,526.9 606.2,526.7 607.0,526.7 607.7,526.6 608.4,526.4 609.2,526.0 609.9,525.4 610.7,524.3 611.4,522.8 612.2,520.8 612.9,518.2 613.7,515.1 614.4,511.4 615.2,507.1 615.9,502.2 616.7,497.0 617.4,491.5 618.2,486.2 618.9,481.2 619.7,476.9 620.4,473.7 621.1,471.8 621.9,471.5 622.6,472.9 623.4,476.0 624.1,480.5 624.9,486.4 625.6,493.2 626.4,500.7 627.1,508.7 627.9,517.0 628.6,525.3 629.4,533.6 630.1,541.5 630.9,548.9 631.6,555.5 632.4,561.2 633.1,566.0 633.8,570.0 634.6,573.2 635.3,575.7 636.1,577.8 636.8,579.4 637.6,580.8 638.3,581.8 639.1,582.6 639.8,583.3 640.6,583.8 641.3,584.1 642.1,584.5 642.8,584.8 643.6,585.0 644.3,585.2 645.0,585.4 645.8,585.5 646.5,585.6 647.3,585.6 648.0,585.7 648.8,585.7 649.5,585.6 650.3,585.6 651.0,585.5 651.8,585.5 652.5,585.4 653.3,585.4 654.0,585.4 654.8,585.4 655.5,585.4 656.3,585.5 657.0,585.6 657.7,585.7 658.5,585.8 659.2,585.9 660.0,585.9 660.7,586.0 661.5,586.1 662.2,586.3 663.0,586.5 663.7,586.7 664.5,586.9 665.2,587.0 666.0,587.1 666.7,587.0 667.5,587.0 668.2,586.9" stroke="#000000" stroke-width="1.45"/>
<path d="M369.4,573.2 370.2,573.2 370.9,573.2 371.7,573.2 372.4,573.2 373.2,573.2 373.9,573.2 374.7,573.2 375.4,573.2 376.2,573.2 376.9,573.2 377.7,573.2 378.4,573.2 379.2,573.2 379.9,573.2 380.7,573.2 381.4,573.2 382.1,573.2 382.9,573.2 383.6,573.2 384.4,573.2 385.1,573.2 385.9,573.2 386.6,573.2 387.4,573.2 388.1,573.2 388.9,573.2 389.6,573.2 390.4,573.2 391.1,573.2 391.9,573.2 392.6,573.2 393.4,573.2 394.1,573.2 394.8,573.2 395.6,573.3 396.3,573.3 397.1,573.3 397.8,573.3 398.6,573.3 399.3,573.3 400.1,573.3 400.8,573.3 401.6,573.3 402.3,573.3 403.1,573.3 403.8,573.3 404.6,573.3 405.3,573.3 406.0,573.3 406.8,573.3 407.5,573.3 408.3,573.3 409.0,573.3 409.8,573.3 410.5,573.3 411.3,573.3 412.0,573.3 412.8,573.3 413.5,573.3 414.3,573.3 415.0,573.3 415.8,573.3 416.5,573.3 417.2,573.3 418.0,573.4 418.7,573.4 419.5,573.4 420.2,573.4 421.0,573.4 421.7,573.4 422.5,573.4 423.2,573.4 424.0,573.4 424.7,573.4 425.5,573.4 426.2,573.4 427.0,573.4 427.7,573.4 428.5,573.4 429.2,573.5 429.9,573.5 430.7,573.5 431.4,573.5 432.2,573.5 432.9,573.5 433.7,573.5 434.4,573.5 435.2,573.5 435.9,573.5 436.7,573.5 437.4,573.6 438.2,573.6 438.9,573.6 439.7,573.6 440.4,573.6 441.1,573.6 441.9,573.6 442.6,573.6 443.4,573.7 444.1,573.7 444.9,573.7 445.6,573.7 446.4,573.7 447.1,573.7 447.9,573.7 448.6,573.8 449.4,573.8 450.1,573.8 450.9,573.8 451.6,573.8 452.4,573.8 453.1,573.9 453.8,573.9 454.6,573.9 455.3,573.9 456.1,573.9 456.8,574.0 457.6,574.0 458.3,574.0 459.1,574.0 459.8,574.0 460.6,574.1 461.3,574.1 462.1,574.1 462.8,574.1 463.6,574.1 464.3,574.2 465.1,574.2 465.8,574.2 466.5,574.2 467.3,574.3 468.0,574.3 468.8,574.3 469.5,574.3 470.3,574.4 471.0,574.4 471.8,574.4 472.5,574.5 473.3,574.5 474.0,574.5 474.8,574.5 475.5,574.6 476.3,574.6 477.0,574.6 477.7,574.7 478.5,574.7 479.2,574.7 480.0,574.8 480.7,574.8 481.5,574.8 482.2,574.9 483.0,574.9 483.7,574.9 484.5,575.0 485.2,575.0 486.0,575.0 486.7,575.1 487.5,575.1 488.2,575.1 489.0,575.2 489.7,575.2 490.4,575.3 491.2,575.3 491.9,575.3 492.7,575.4 493.4,575.4 494.2,575.5 494.9,575.5 495.7,575.6 496.4,575.6 497.2,575.6 497.9,575.7 498.7,575.7 499.4,575.8 500.2,575.8 500.9,575.9 501.6,575.9 502.4,576.0 503.1,576.0 503.9,576.1 504.6,576.1 505.4,576.2 506.1,576.2 506.9,576.2 507.6,576.3 508.4,576.3 509.1,576.4 509.9,576.4 510.6,576.5 511.4,576.5 512.1,576.6 512.8,576.6 513.6,576.7 514.3,576.8 515.1,576.8 515.8,576.9 516.6,576.9 517.3,577.0 518.1,577.0 518.8,577.1 519.6,577.1 520.3,577.2 521.1,577.2 521.8,577.3 522.6,577.3 523.3,577.4 524.1,577.4 524.8,577.5 525.5,577.5 526.3,577.6 527.0,577.7 527.8,577.7 528.5,577.8 529.3,577.9 530.0,577.9 530.8,578.0 531.5,578.1 532.3,578.1 533.0,578.2 533.8,578.3 534.5,578.4 535.3,578.5 536.0,578.5 536.8,578.6 537.5,578.7 538.2,578.8 539.0,578.9 539.7,579.0 540.5,579.1 541.2,579.2 542.0,579.3 542.7,579.4 543.5,579.5 544.2,579.6 545.0,579.7 545.7,579.8 546.5,579.9 547.2,580.0 548.0,580.1 548.7,580.2 549.4,580.3 550.2,580.4 550.9,580.4 551.7,580.5 552.4,580.6 553.2,580.7 553.9,580.7 554.7,580.8 555.4,580.9 556.2,580.9 556.9,581.0 557.7,581.1 558.4,581.1 559.2,581.2 559.9,581.2 560.7,581.3 561.4,581.3 562.1,581.4 562.9,581.4 563.6,581.5 564.4,581.5 565.1,581.6 565.9,581.6 566.6,581.7 567.4,581.8 568.1,581.8 568.9,581.9 569.6,581.9 570.4,582.0 571.1,582.0 571.9,582.1 572.6,582.2 573.3,582.2 574.1,582.3 574.8,582.3 575.6,582.4 576.3,582.5 577.1,582.5 577.8,582.6 578.6,582.6 579.3,582.7 580.1,582.8 580.8,582.8 581.6,582.9 582.3,582.9 583.1,583.0 583.8,583.1 584.5,583.1 585.3,583.2 586.0,583.2 586.8,583.3 587.5,583.4 588.3,583.4 589.0,583.5 589.8,583.5 590.5,583.6 591.3,583.6 592.0,583.7 592.8,583.7 593.5,583.8 594.3,583.9 595.0,583.9 595.8,584.0 596.5,584.0 597.2,584.1 598.0,584.1 598.7,584.2 599.5,584.3 600.2,584.3 601.0,584.4 601.7,584.5 602.5,584.5 603.2,584.6 604.0,584.6 604.7,584.7 605.5,584.8 606.2,584.8 607.0,584.9 607.7,585.0 608.4,585.0 609.2,585.1 609.9,585.2 610.7,585.3 611.4,585.3 612.2,585.4 612.9,585.5 613.7,585.6 614.4,585.6 615.2,585.7 615.9,585.8 616.7,585.9 617.4,586.0 618.2,586.1 618.9,586.2 619.7,586.4 620.4,586.5 621.1,586.6 621.9,586.8 622.6,586.9 623.4,587.0 624.1,587.2 624.9,587.3 625.6,587.4 626.4,587.5 627.1,587.6 627.9,587.7 628.6,587.8 629.4,587.8 630.1,587.9 630.9,588.0 631.6,588.0 632.4,588.0 633.1,588.1 633.8,588.1 634.6,588.1 635.3,588.1 636.1,588.1 636.8,588.2 637.6,588.2 638.3,588.2 639.1,588.2 639.8,588.2 640.6,588.2 641.3,588.2 642.1,588.2 642.8,588.2 643.6,588.2 644.3,588.2 645.0,588.2 645.8,588.2 646.5,588.2 647.3,588.2 648.0,588.2 648.8,588.2 649.5,588.2 650.3,588.2 651.0,588.2 651.8,588.3 652.5,588.3 653.3,588.3 654.0,588.3 654.8,588.3 655.5,588.3 656.3,588.3 657.0,588.3 657.7,588.3 658.5,588.3 659.2,588.3 660.0,588.3 660.7,588.3 661.5,588.3 662.2,588.3 663.0,588.3 663.7,588.3 664.5,588.3 665.2,588.3 666.0,588.3 666.7,588.3 667.5,588.3 668.2,588.3" stroke="#808000"/>
<path d="M369.4,573.1 370.2,573.1 370.9,573.1 371.7,573.1 372.4,573.1 373.2,573.1 373.9,573.1 374.7,573.1 375.4,573.1 376.2,573.1 376.9,573.1 377.7,573.1 378.4,573.1 379.2,573.1 379.9,573.1 380.7,573.1 381.4,573.1 382.1,573.1 382.9,573.1 383.6,573.1 384.4,573.1 385.1,573.1 385.9,573.1 386.6,573.1 387.4,573.1 388.1,573.1 388.9,573.1 389.6,573.1 390.4,573.1 391.1,573.1 391.9,573.1 392.6,573.1 393.4,573.0 394.1,573.0 394.8,573.0 395.6,573.0 396.3,573.0 397.1,573.0 397.8,573.0 398.6,573.0 399.3,573.0 400.1,573.0 400.8,573.0 401.6,573.0 402.3,573.0 403.1,573.0 403.8,573.0 404.6,573.0 405.3,573.0 406.0,573.0 406.8,573.0 407.5,573.0 408.3,573.0 409.0,573.0 409.8,573.0 410.5,573.0 411.3,573.0 412.0,573.0 412.8,573.0 413.5,573.0 414.3,573.0 415.0,573.0 415.8,573.0 416.5,573.0 417.2,573.0 418.0,573.0 418.7,573.0 419.5,573.1 420.2,573.1 421.0,573.1 421.7,573.1 422.5,573.1 423.2,573.1 424.0,573.1 424.7,573.1 425.5,573.1 426.2,573.1 427.0,573.1 427.7,573.1 428.5,573.1 429.2,573.1 429.9,573.1 430.7,573.1 431.4,573.1 432.2,573.1 432.9,573.1 433.7,573.0 434.4,573.0 435.2,573.0 435.9,573.0 436.7,573.0 437.4,573.0 438.2,573.0 438.9,573.0 439.7,573.0 440.4,573.0 441.1,573.0 441.9,573.0 442.6,573.0 443.4,573.0 444.1,572.9 444.9,572.9 445.6,572.9 446.4,572.9 447.1,572.9 447.9,572.8 448.6,572.8 449.4,572.8 450.1,572.7 450.9,572.7 451.6,572.7 452.4,572.6 453.1,572.6 453.8,572.5 454.6,572.4 455.3,572.4 456.1,572.3 456.8,572.2 457.6,572.2 458.3,572.1 459.1,572.0 459.8,571.9 460.6,571.7 461.3,571.6 462.1,571.5 462.8,571.4 463.6,571.2 464.3,571.1 465.1,570.9 465.8,570.7 466.5,570.5 467.3,570.3 468.0,570.1 468.8,569.9 469.5,569.7 470.3,569.4 471.0,569.2 471.8,568.9 472.5,568.6 473.3,568.3 474.0,568.0 474.8,567.7 475.5,567.4 476.3,567.0 477.0,566.6 477.7,566.3 478.5,565.9 479.2,565.5 480.0,565.1 480.7,564.6 481.5,564.2 482.2,563.7 483.0,563.3 483.7,562.8 484.5,562.3 485.2,561.8 486.0,561.3 486.7,560.8 487.5,560.3 488.2,559.8 489.0,559.2 489.7,558.7 490.4,558.2 491.2,557.6 491.9,557.1 492.7,556.6 493.4,556.0 494.2,555.5 494.9,555.0 495.7,554.4 496.4,553.9 497.2,553.4 497.9,552.9 498.7,552.4 499.4,552.0 500.2,551.5 500.9,551.1 501.6,550.7 502.4,550.3 503.1,549.9 503.9,549.6 504.6,549.3 505.4,549.0 506.1,548.7 506.9,548.5 507.6,548.3 508.4,548.1 509.1,547.9 509.9,547.8 510.6,547.8 511.4,547.7 512.1,547.7 512.8,547.7 513.6,547.8 514.3,547.9 515.1,548.1 515.8,548.3 516.6,548.5 517.3,548.7 518.1,549.0 518.8,549.4 519.6,549.7 520.3,550.1 521.1,550.5 521.8,551.0 522.6,551.5 523.3,551.9 524.1,552.5 524.8,553.0 525.5,553.5 526.3,554.1 527.0,554.7 527.8,555.3 528.5,555.9 529.3,556.5 530.0,557.1 530.8,557.7 531.5,558.4 532.3,559.0 533.0,559.6 533.8,560.3 534.5,560.9 535.3,561.5 536.0,562.2 536.8,562.8 537.5,563.4 538.2,564.0 539.0,564.6 539.7,565.2 540.5,565.8 541.2,566.4 542.0,567.0 542.7,567.6 543.5,568.1 544.2,568.7 545.0,569.2 545.7,569.7 546.5,570.2 547.2,570.7 548.0,571.2 548.7,571.6 549.4,572.1 550.2,572.5 550.9,572.9 551.7,573.3 552.4,573.7 553.2,574.1 553.9,574.4 554.7,574.8 555.4,575.1 556.2,575.4 556.9,575.7 557.7,576.0 558.4,576.3 559.2,576.5 559.9,576.8 560.7,577.0 561.4,577.3 562.1,577.5 562.9,577.7 563.6,577.9 564.4,578.1 565.1,578.3 565.9,578.5 566.6,578.7 567.4,578.8 568.1,579.0 568.9,579.2 569.6,579.3 570.4,579.5 571.1,579.6 571.9,579.8 572.6,579.9 573.3,580.0 574.1,580.2 574.8,580.3 575.6,580.4 576.3,580.5 577.1,580.7 577.8,580.8 578.6,580.9 579.3,581.0 580.1,581.1 580.8,581.2 581.6,581.3 582.3,581.4 583.1,581.5 583.8,581.6 584.5,581.7 585.3,581.8 586.0,581.9 586.8,582.0 587.5,582.1 588.3,582.1 589.0,582.2 589.8,582.3 590.5,582.4 591.3,582.5 592.0,582.5 592.8,582.6 593.5,582.7 594.3,582.8 595.0,582.9 595.8,582.9 596.5,583.0 597.2,583.1 598.0,583.2 598.7,583.2 599.5,583.3 600.2,583.4 601.0,583.5 601.7,583.5 602.5,583.6 603.2,583.7 604.0,583.8 604.7,583.9 605.5,583.9 606.2,584.0 607.0,584.1 607.7,584.2 608.4,584.3 609.2,584.3 609.9,584.4 610.7,584.5 611.4,584.6 612.2,584.7 612.9,584.8 613.7,584.8 614.4,584.9 615.2,585.0 615.9,585.1 616.7,585.2 617.4,585.4 618.2,585.5 618.9,585.6 619.7,585.7 620.4,585.9 621.1,586.0 621.9,586.1 622.6,586.3 623.4,586.4 624.1,586.6 624.9,586.7 625.6,586.8 626.4,586.9 627.1,587.0 627.9,587.1 628.6,587.2 629.4,587.3 630.1,587.4 630.9,587.4 631.6,587.5 632.4,587.5 633.1,587.6 633.8,587.6 634.6,587.6 635.3,587.6 636.1,587.7 636.8,587.7 637.6,587.7 638.3,587.7 639.1,587.7 639.8,587.7 640.6,587.7 641.3,587.7 642.1,587.8 642.8,587.8 643.6,587.8 644.3,587.8 645.0,587.8 645.8,587.8 646.5,587.8 647.3,587.8 648.0,587.8 648.8,587.8 649.5,587.8 650.3,587.8 651.0,587.9 651.8,587.9 652.5,587.9 653.3,587.9 654.0,587.9 654.8,587.9 655.5,587.9 656.3,587.9 657.0,587.9 657.7,587.9 658.5,587.9 659.2,587.9 660.0,587.9 660.7,587.9 661.5,587.9 662.2,587.9 663.0,588.0 663.7,588.0 664.5,588.0 665.2,588.0 666.0,588.0 666.7,588.0 667.5,588.0 668.2,588.0" stroke="#00ff00"/>
<path d="M369.4,573.2 370.2,573.2 370.9,573.2 371.7,573.2 372.4,573.2 373.2,573.2 373.9,573.2 374.7,573.2 375.4,573.2 376.2,573.2 376.9,573.2 377.7,573.2 378.4,573.2 379.2,573.2 379.9,573.2 380.7,573.2 381.4,573.2 382.1,573.2 382.9,573.2 383.6,573.2 384.4,573.2 385.1,573.2 385.9,573.2 386.6,573.2 387.4,573.2 388.1,573.2 388.9,573.2 389.6,573.2 390.4,573.2 391.1,573.2 391.9,573.2 392.6,573.2 393.4,573.2 394.1,573.2 394.8,573.2 395.6,573.2 396.3,573.2 397.1,573.2 397.8,573.2 398.6,573.2 399.3,573.2 400.1,573.2 400.8,573.2 401.6,573.2 402.3,573.2 403.1,573.3 403.8,573.3 404.6,573.3 405.3,573.3 406.0,573.3 406.8,573.3 407.5,573.3 408.3,573.3 409.0,573.3 409.8,573.3 410.5,573.3 411.3,573.3 412.0,573.3 412.8,573.3 413.5,573.3 414.3,573.3 415.0,573.3 415.8,573.3 416.5,573.3 417.2,573.3 418.0,573.3 418.7,573.3 419.5,573.3 420.2,573.3 421.0,573.3 421.7,573.4 422.5,573.4 423.2,573.4 424.0,573.4 424.7,573.4 425.5,573.4 426.2,573.4 427.0,573.4 427.7,573.4 428.5,573.4 429.2,573.4 429.9,573.4 430.7,573.4 431.4,573.4 432.2,573.5 432.9,573.5 433.7,573.5 434.4,573.5 435.2,573.5 435.9,573.5 436.7,573.5 437.4,573.5 438.2,573.5 438.9,573.5 439.7,573.6 440.4,573.6 441.1,573.6 441.9,573.6 442.6,573.6 443.4,573.6 444.1,573.6 444.9,573.6 445.6,573.7 446.4,573.7 447.1,573.7 447.9,573.7 448.6,573.7 449.4,573.7 450.1,573.8 450.9,573.8 451.6,573.8 452.4,573.8 453.1,573.8 453.8,573.8 454.6,573.9 455.3,573.9 456.1,573.9 456.8,573.9 457.6,573.9 458.3,574.0 459.1,574.0 459.8,574.0 460.6,574.0 461.3,574.0 462.1,574.1 462.8,574.1 463.6,574.1 464.3,574.1 465.1,574.1 465.8,574.2 466.5,574.2 467.3,574.2 468.0,574.2 468.8,574.3 469.5,574.3 470.3,574.3 471.0,574.3 471.8,574.4 472.5,574.4 473.3,574.4 474.0,574.5 474.8,574.5 475.5,574.5 476.3,574.5 477.0,574.6 477.7,574.6 478.5,574.6 479.2,574.7 480.0,574.7 480.7,574.7 481.5,574.8 482.2,574.8 483.0,574.8 483.7,574.9 484.5,574.9 485.2,574.9 486.0,575.0 486.7,575.0 487.5,575.0 488.2,575.1 489.0,575.1 489.7,575.1 490.4,575.2 491.2,575.2 491.9,575.3 492.7,575.3 493.4,575.3 494.2,575.4 494.9,575.4 495.7,575.5 496.4,575.5 497.2,575.6 497.9,575.6 498.7,575.6 499.4,575.7 500.2,575.7 500.9,575.8 501.6,575.8 502.4,575.9 503.1,575.9 503.9,576.0 504.6,576.0 505.4,576.1 506.1,576.1 506.9,576.2 507.6,576.2 508.4,576.2 509.1,576.3 509.9,576.3 510.6,576.4 511.4,576.4 512.1,576.5 512.8,576.5 513.6,576.6 514.3,576.6 515.1,576.7 515.8,576.7 516.6,576.8 517.3,576.8 518.1,576.9 518.8,576.9 519.6,577.0 520.3,577.0 521.1,577.1 521.8,577.1 522.6,577.2 523.3,577.2 524.1,577.3 524.8,577.3 525.5,577.4 526.3,577.5 527.0,577.5 527.8,577.6 528.5,577.6 529.3,577.7 530.0,577.8 530.8,577.8 531.5,577.9 532.3,578.0 533.0,578.0 533.8,578.1 534.5,578.2 535.3,578.3 536.0,578.3 536.8,578.4 537.5,578.5 538.2,578.6 539.0,578.7 539.7,578.8 540.5,578.9 541.2,579.0 542.0,579.1 542.7,579.2 543.5,579.3 544.2,579.4 545.0,579.5 545.7,579.6 546.5,579.7 547.2,579.7 548.0,579.8 548.7,579.9 549.4,580.0 550.2,580.1 550.9,580.1 551.7,580.2 552.4,580.3 553.2,580.3 553.9,580.4 554.7,580.5 555.4,580.5 556.2,580.6 556.9,580.6 557.7,580.7 558.4,580.7 559.2,580.8 559.9,580.8 560.7,580.8 561.4,580.9 562.1,580.9 562.9,581.0 563.6,581.0 564.4,581.0 565.1,581.1 565.9,581.1 566.6,581.1 567.4,581.2 568.1,581.2 568.9,581.2 569.6,581.3 570.4,581.3 571.1,581.3 571.9,581.3 572.6,581.4 573.3,581.4 574.1,581.4 574.8,581.4 575.6,581.4 576.3,581.4 577.1,581.3 577.8,581.3 578.6,581.2 579.3,581.2 580.1,581.1 580.8,580.9 581.6,580.8 582.3,580.6 583.1,580.3 583.8,580.0 584.5,579.7 585.3,579.3 586.0,578.8 586.8,578.3 587.5,577.7 588.3,577.0 589.0,576.2 589.8,575.3 590.5,574.3 591.3,573.2 592.0,572.0 592.8,570.8 593.5,569.4 594.3,567.9 595.0,566.4 595.8,564.7 596.5,563.1 597.2,561.3 598.0,559.6 598.7,557.8 599.5,556.1 600.2,554.4 601.0,552.8 601.7,551.2 602.5,549.8 603.2,548.5 604.0,547.4 604.7,546.6 605.5,545.9 606.2,545.5 607.0,545.3 607.7,545.4 608.4,545.8 609.2,546.4 609.9,547.3 610.7,548.4 611.4,549.7 612.2,551.2 612.9,552.8 613.7,554.5 614.4,556.3 615.2,558.2 615.9,560.1 616.7,562.0 617.4,563.9 618.2,565.7 618.9,567.6 619.7,569.4 620.4,571.1 621.1,572.7 621.9,574.2 622.6,575.7 623.4,577.0 624.1,578.2 624.9,579.4 625.6,580.4 626.4,581.3 627.1,582.2 627.9,582.9 628.6,583.6 629.4,584.1 630.1,584.6 630.9,585.1 631.6,585.4 632.4,585.8 633.1,586.0 633.8,586.3 634.6,586.5 635.3,586.6 636.1,586.8 636.8,586.9 637.6,587.0 638.3,587.1 639.1,587.2 639.8,587.3 640.6,587.3 641.3,587.4 642.1,587.4 642.8,587.5 643.6,587.5 644.3,587.5 645.0,587.6 645.8,587.6 646.5,587.6 647.3,587.7 648.0,587.7 648.8,587.7 649.5,587.7 650.3,587.7 651.0,587.8 651.8,587.8 652.5,587.8 653.3,587.8 654.0,587.8 654.8,587.8 655.5,587.9 656.3,587.9 657.0,587.9 657.7,587.9 658.5,587.9 659.2,587.9 660.0,587.9 660.7,587.9 661.5,588.0 662.2,588.0 663.0,588.0 663.7,588.0 664.5,588.0 665.2,588.0 666.0,588.0 666.7,588.0 667.5,588.0 668.2,588.0" stroke="#00ff00"/>
<path d="M369.4,573.1 370.2,573.1 370.9,573.1 371.7,573.1 372.4,573.1 373.2,573.1 373.9,573.1 374.7,573.1 375.4,573.1 376.2,573.1 376.9,573.1 377.7,573.1 378.4,573.1 379.2,573.1 379.9,573.1 380.7,573.1 381.4,573.1 382.1,573.1 382.9,573.1 383.6,573.1 384.4,573.1 385.1,573.1 385.9,573.1 386.6,573.1 387.4,573.1 388.1,573.1 388.9,573.1 389.6,573.1 390.4,573.1 391.1,573.1 391.9,573.1 392.6,573.1 393.4,573.1 394.1,573.1 394.8,573.1 395.6,573.1 396.3,573.1 397.1,573.1 397.8,573.1 398.6,573.1 399.3,573.1 400.1,573.1 400.8,573.1 401.6,573.1 402.3,573.1 403.1,573.1 403.8,573.1 404.6,573.1 405.3,573.1 406.0,573.1 406.8,573.2 407.5,573.2 408.3,573.2 409.0,573.2 409.8,573.2 410.5,573.2 411.3,573.2 412.0,573.2 412.8,573.2 413.5,573.2 414.3,573.2 415.0,573.2 415.8,573.2 416.5,573.2 417.2,573.2 418.0,573.2 418.7,573.2 419.5,573.2 420.2,573.2 421.0,573.2 421.7,573.2 422.5,573.2 423.2,573.2 424.0,573.2 424.7,573.2 425.5,573.2 426.2,573.2 427.0,573.2 427.7,573.2 428.5,573.2 429.2,573.3 429.9,573.3 430.7,573.3 431.4,573.3 432.2,573.3 432.9,573.3 433.7,573.3 434.4,573.3 435.2,573.3 435.9,573.3 436.7,573.3 437.4,573.3 438.2,573.3 438.9,573.3 439.7,573.4 440.4,573.4 441.1,573.4 441.9,573.4 442.6,573.4 443.4,573.4 444.1,573.4 444.9,573.4 445.6,573.4 446.4,573.4 447.1,573.5 447.9,573.5 448.6,573.5 449.4,573.5 450.1,573.5 450.9,573.5 451.6,573.5 452.4,573.5 453.1,573.5 453.8,573.6 454.6,573.6 455.3,573.6 456.1,573.6 456.8,573.6 457.6,573.6 458.3,573.6 459.1,573.7 459.8,573.7 460.6,573.7 461.3,573.7 462.1,573.7 462.8,573.7 463.6,573.7 464.3,573.8 465.1,573.8 465.8,573.8 466.5,573.8 467.3,573.8 468.0,573.8 468.8,573.9 469.5,573.9 470.3,573.9 471.0,573.9 471.8,573.9 472.5,573.9 473.3,574.0 474.0,574.0 474.8,574.0 475.5,574.0 476.3,574.0 477.0,574.1 477.7,574.1 478.5,574.1 479.2,574.1 480.0,574.1 480.7,574.1 481.5,574.2 482.2,574.2 483.0,574.2 483.7,574.2 484.5,574.2 485.2,574.2 486.0,574.3 486.7,574.3 487.5,574.3 488.2,574.3 489.0,574.3 489.7,574.3 490.4,574.4 491.2,574.4 491.9,574.4 492.7,574.4 493.4,574.4 494.2,574.4 494.9,574.4 495.7,574.5 496.4,574.5 497.2,574.5 497.9,574.5 498.7,574.5 499.4,574.5 500.2,574.5 500.9,574.5 501.6,574.5 502.4,574.5 503.1,574.5 503.9,574.5 504.6,574.5 505.4,574.4 506.1,574.4 506.9,574.4 507.6,574.3 508.4,574.3 509.1,574.2 509.9,574.2 510.6,574.1 511.4,574.0 512.1,573.9 512.8,573.7 513.6,573.6 514.3,573.4 515.1,573.1 515.8,572.8 516.6,572.5 517.3,572.1 518.1,571.7 518.8,571.2 519.6,570.6 520.3,569.9 521.1,569.1 521.8,568.2 522.6,567.2 523.3,566.1 524.1,564.8 524.8,563.4 525.5,561.9 526.3,560.2 527.0,558.4 527.8,556.4 528.5,554.3 529.3,552.0 530.0,549.6 530.8,547.1 531.5,544.4 532.3,541.7 533.0,539.0 533.8,536.2 534.5,533.4 535.3,530.6 536.0,527.9 536.8,525.3 537.5,522.9 538.2,520.6 539.0,518.7 539.7,517.0 540.5,515.6 541.2,514.7 542.0,514.1 542.7,514.0 543.5,514.3 544.2,515.1 545.0,516.2 545.7,517.8 546.5,519.7 547.2,521.8 548.0,524.2 548.7,526.9 549.4,529.6 550.2,532.5 550.9,535.4 551.7,538.4 552.4,541.4 553.2,544.3 553.9,547.1 554.7,549.9 555.4,552.5 556.2,555.1 556.9,557.5 557.7,559.7 558.4,561.8 559.2,563.8 559.9,565.6 560.7,567.2 561.4,568.7 562.1,570.1 562.9,571.3 563.6,572.4 564.4,573.4 565.1,574.3 565.9,575.1 566.6,575.8 567.4,576.4 568.1,577.0 568.9,577.5 569.6,577.9 570.4,578.3 571.1,578.6 571.9,579.0 572.6,579.2 573.3,579.5 574.1,579.7 574.8,579.9 575.6,580.1 576.3,580.3 577.1,580.5 577.8,580.6 578.6,580.8 579.3,580.9 580.1,581.0 580.8,581.2 581.6,581.3 582.3,581.4 583.1,581.5 583.8,581.6 584.5,581.8 585.3,581.9 586.0,582.0 586.8,582.1 587.5,582.1 588.3,582.2 589.0,582.3 589.8,582.4 590.5,582.5 591.3,582.6 592.0,582.7 592.8,582.8 593.5,582.9 594.3,582.9 595.0,583.0 595.8,583.1 596.5,583.2 597.2,583.3 598.0,583.3 598.7,583.4 599.5,583.5 600.2,583.6 601.0,583.7 601.7,583.7 602.5,583.8 603.2,583.9 604.0,584.0 604.7,584.1 605.5,584.1 606.2,584.2 607.0,584.3 607.7,584.4 608.4,584.5 609.2,584.6 609.9,584.6 610.7,584.7 611.4,584.8 612.2,584.9 612.9,585.0 613.7,585.1 614.4,585.1 615.2,585.2 615.9,585.3 616.7,585.5 617.4,585.6 618.2,585.7 618.9,585.8 619.7,585.9 620.4,586.1 621.1,586.2 621.9,586.4 622.6,586.5 623.4,586.6 624.1,586.8 624.9,586.9 625.6,587.0 626.4,587.1 627.1,587.3 627.9,587.3 628.6,587.4 629.4,587.5 630.1,587.6 630.9,587.6 631.6,587.7 632.4,587.7 633.1,587.8 633.8,587.8 634.6,587.8 635.3,587.8 636.1,587.9 636.8,587.9 637.6,587.9 638.3,587.9 639.1,587.9 639.8,587.9 640.6,587.9 641.3,587.9 642.1,587.9 642.8,588.0 643.6,588.0 644.3,588.0 645.0,588.0 645.8,588.0 646.5,588.0 647.3,588.0 648.0,588.0 648.8,588.0 649.5,588.0 650.3,588.0 651.0,588.0 651.8,588.0 652.5,588.0 653.3,588.0 654.0,588.1 654.8,588.1 655.5,588.1 656.3,588.1 657.0,588.1 657.7,588.1 658.5,588.1 659.2,588.1 660.0,588.1 660.7,588.1 661.5,588.1 662.2,588.1 663.0,588.1 663.7,588.1 664.5,588.1 665.2,588.1 666.0,588.1 666.7,588.1 667.5,588.1 668.2,588.1" stroke="#ff8000"/>
<path d="M369.4,573.2 370.2,573.2 370.9,573.2 371.7,573.2 372.4,573.2 373.2,573.2 373.9,573.2 374.7,573.2 375.4,573.2 376.2,573.2 376.9,573.2 377.7,573.2 378.4,573.2 379.2,573.2 379.9,573.2 380.7,573.2 381.4,573.2 382.1,573.2 382.9,573.2 383.6,573.2 384.4,573.2 385.1,573.2 385.9,573.2 386.6,573.2 387.4,573.2 388.1,573.2 388.9,573.2 389.6,573.2 390.4,573.2 391.1,573.2 391.9,573.2 392.6,573.2 393.4,573.2 394.1,573.2 394.8,573.2 395.6,573.2 396.3,573.2 397.1,573.2 397.8,573.2 398.6,573.2 399.3,573.2 400.1,573.3 400.8,573.3 401.6,573.3 402.3,573.3 403.1,573.3 403.8,573.3 404.6,573.3 405.3,573.3 406.0,573.3 406.8,573.3 407.5,573.3 408.3,573.3 409.0,573.3 409.8,573.3 410.5,573.3 411.3,573.3 412.0,573.3 412.8,573.3 413.5,573.3 414.3,573.3 415.0,573.3 415.8,573.3 416.5,573.3 417.2,573.3 418.0,573.3 418.7,573.3 419.5,573.3 420.2,573.4 421.0,573.4 421.7,573.4 422.5,573.4 423.2,573.4 424.0,573.4 424.7,573.4 425.5,573.4 426.2,573.4 427.0,573.4 427.7,573.4 428.5,573.4 429.2,573.4 429.9,573.4 430.7,573.5 431.4,573.5 432.2,573.5 432.9,573.5 433.7,573.5 434.4,573.5 435.2,573.5 435.9,573.5 436.7,573.5 437.4,573.5 438.2,573.6 438.9,573.6 439.7,573.6 440.4,573.6 441.1,573.6 441.9,573.6 442.6,573.6 443.4,573.6 444.1,573.7 444.9,573.7 445.6,573.7 446.4,573.7 447.1,573.7 447.9,573.7 448.6,573.7 449.4,573.8 450.1,573.8 450.9,573.8 451.6,573.8 452.4,573.8 453.1,573.8 453.8,573.9 454.6,573.9 455.3,573.9 456.1,573.9 456.8,573.9 457.6,574.0 458.3,574.0 459.1,574.0 459.8,574.0 460.6,574.0 461.3,574.1 462.1,574.1 462.8,574.1 463.6,574.1 464.3,574.1 465.1,574.2 465.8,574.2 466.5,574.2 467.3,574.2 468.0,574.3 468.8,574.3 469.5,574.3 470.3,574.3 471.0,574.4 471.8,574.4 472.5,574.4 473.3,574.5 474.0,574.5 474.8,574.5 475.5,574.5 476.3,574.6 477.0,574.6 477.7,574.6 478.5,574.7 479.2,574.7 480.0,574.7 480.7,574.8 481.5,574.8 482.2,574.8 483.0,574.9 483.7,574.9 484.5,574.9 485.2,575.0 486.0,575.0 486.7,575.0 487.5,575.1 488.2,575.1 489.0,575.1 489.7,575.2 490.4,575.2 491.2,575.3 491.9,575.3 492.7,575.3 493.4,575.4 494.2,575.4 494.9,575.5 495.7,575.5 496.4,575.6 497.2,575.6 497.9,575.6 498.7,575.7 499.4,575.7 500.2,575.8 500.9,575.8 501.6,575.9 502.4,575.9 503.1,576.0 503.9,576.0 504.6,576.1 505.4,576.1 506.1,576.2 506.9,576.2 507.6,576.3 508.4,576.3 509.1,576.3 509.9,576.4 510.6,576.4 511.4,576.5 512.1,576.5 512.8,576.6 513.6,576.6 514.3,576.7 515.1,576.7 515.8,576.8 516.6,576.8 517.3,576.9 518.1,576.9 518.8,577.0 519.6,577.0 520.3,577.1 521.1,577.2 521.8,577.2 522.6,577.3 523.3,577.3 524.1,577.4 524.8,577.4 525.5,577.5 526.3,577.5 527.0,577.6 527.8,577.7 528.5,577.7 529.3,577.8 530.0,577.8 530.8,577.9 531.5,578.0 532.3,578.1 533.0,578.1 533.8,578.2 534.5,578.3 535.3,578.4 536.0,578.5 536.8,578.5 537.5,578.6 538.2,578.7 539.0,578.8 539.7,578.9 540.5,579.0 541.2,579.1 542.0,579.2 542.7,579.3 543.5,579.4 544.2,579.5 545.0,579.6 545.7,579.7 546.5,579.8 547.2,579.9 548.0,580.0 548.7,580.1 549.4,580.2 550.2,580.2 550.9,580.3 551.7,580.4 552.4,580.5 553.2,580.5 553.9,580.6 554.7,580.7 555.4,580.7 556.2,580.8 556.9,580.8 557.7,580.9 558.4,581.0 559.2,581.0 559.9,581.1 560.7,581.1 561.4,581.2 562.1,581.2 562.9,581.3 563.6,581.3 564.4,581.4 565.1,581.4 565.9,581.4 566.6,581.5 567.4,581.5 568.1,581.6 568.9,581.6 569.6,581.7 570.4,581.7 571.1,581.8 571.9,581.8 572.6,581.9 573.3,582.0 574.1,582.0 574.8,582.1 575.6,582.1 576.3,582.2 577.1,582.2 577.8,582.3 578.6,582.3 579.3,582.4 580.1,582.4 580.8,582.5 581.6,582.5 582.3,582.6 583.1,582.6 583.8,582.6 584.5,582.7 585.3,582.7 586.0,582.8 586.8,582.8 587.5,582.8 588.3,582.9 589.0,582.9 589.8,582.9 590.5,583.0 591.3,583.0 592.0,583.0 592.8,583.1 593.5,583.1 594.3,583.1 595.0,583.1 595.8,583.1 596.5,583.1 597.2,583.1 598.0,583.1 598.7,583.1 599.5,583.1 600.2,583.1 601.0,583.1 601.7,583.0 602.5,582.9 603.2,582.8 604.0,582.6 604.7,582.3 605.5,582.0 606.2,581.5 607.0,580.8 607.7,579.8 608.4,578.6 609.2,577.0 609.9,574.9 610.7,572.3 611.4,569.1 612.2,565.2 612.9,560.6 613.7,555.3 614.4,549.3 615.2,542.7 615.9,535.6 616.7,528.1 617.4,520.5 618.2,513.1 618.9,506.1 619.7,499.9 620.4,494.8 621.1,491.2 621.9,489.2 622.6,489.0 623.4,490.7 624.1,494.1 624.9,498.9 625.6,505.0 626.4,512.0 627.1,519.6 627.9,527.3 628.6,535.0 629.4,542.5 630.1,549.4 630.9,555.8 631.6,561.4 632.4,566.4 633.1,570.6 633.8,574.1 634.6,577.0 635.3,579.3 636.1,581.2 636.8,582.6 637.6,583.7 638.3,584.6 639.1,585.2 639.8,585.7 640.6,586.1 641.3,586.3 642.1,586.5 642.8,586.7 643.6,586.8 644.3,587.0 645.0,587.0 645.8,587.1 646.5,587.2 647.3,587.3 648.0,587.3 648.8,587.4 649.5,587.4 650.3,587.5 651.0,587.5 651.8,587.5 652.5,587.6 653.3,587.6 654.0,587.6 654.8,587.7 655.5,587.7 656.3,587.7 657.0,587.8 657.7,587.8 658.5,587.8 659.2,587.8 660.0,587.8 660.7,587.9 661.5,587.9 662.2,587.9 663.0,587.9 663.7,587.9 664.5,587.9 665.2,588.0 666.0,588.0 666.7,588.0 667.5,588.0 668.2,588.0" stroke="#ff8000"/>
<path d="M369.4,572.6 370.2,572.6 370.9,572.6 371.7,572.6 372.4,572.6 373.2,572.6 373.9,572.6 374.7,572.6 375.4,572.5 376.2,572.5 376.9,572.5 377.7,572.5 378.4,572.5 379.2,572.5 379.9,572.4 380.7,572.4 381.4,572.4 382.1,572.4 382.9,572.4 383.6,572.4 384.4,572.3 385.1,572.3 385.9,572.3 386.6,572.3 387.4,572.2 388.1,572.2 388.9,572.2 389.6,572.2 390.4,572.1 391.1,572.1 391.9,572.1 392.6,572.0 393.4,572.0 394.1,571.9 394.8,571.9 395.6,571.9 396.3,571.8 397.1,571.8 397.8,571.7 398.6,571.7 399.3,571.6 400.1,571.6 400.8,571.5 401.6,571.4 402.3,571.4 403.1,571.3 403.8,571.3 404.6,571.2 405.3,571.1 406.0,571.0 406.8,571.0 407.5,570.9 408.3,570.8 409.0,570.7 409.8,570.6 410.5,570.5 411.3,570.4 412.0,570.3 412.8,570.2 413.5,570.1 414.3,570.0 415.0,569.9 415.8,569.8 416.5,569.6 417.2,569.5 418.0,569.4 418.7,569.3 419.5,569.1 420.2,569.0 421.0,568.8 421.7,568.7 422.5,568.5 423.2,568.4 424.0,568.2 424.7,568.1 425.5,567.9 426.2,567.7 427.0,567.6 427.7,567.4 428.5,567.2 429.2,567.0 429.9,566.8 430.7,566.6 431.4,566.4 432.2,566.2 432.9,566.0 433.7,565.8 434.4,565.6 435.2,565.4 435.9,565.2 436.7,565.0 437.4,564.8 438.2,564.6 438.9,564.4 439.7,564.2 440.4,563.9 441.1,563.7 441.9,563.5 442.6,563.3 443.4,563.1 444.1,562.8 444.9,562.6 445.6,562.4 446.4,562.2 447.1,562.0 447.9,561.7 448.6,561.5 449.4,561.3 450.1,561.1 450.9,560.9 451.6,560.7 452.4,560.5 453.1,560.3 453.8,560.1 454.6,560.0 455.3,559.8 456.1,559.6 456.8,559.4 457.6,559.3 458.3,559.1 459.1,559.0 459.8,558.9 460.6,558.7 461.3,558.6 462.1,558.5 462.8,558.4 463.6,558.3 464.3,558.2 465.1,558.2 465.8,558.1 466.5,558.0 467.3,558.0 468.0,558.0 468.8,558.0 469.5,558.0 470.3,558.0 471.0,558.0 471.8,558.0 472.5,558.1 473.3,558.1 474.0,558.2 474.8,558.3 475.5,558.4 476.3,558.5 477.0,558.6 477.7,558.7 478.5,558.8 479.2,559.0 480.0,559.1 480.7,559.3 481.5,559.5 482.2,559.7 483.0,559.9 483.7,560.1 484.5,560.3 485.2,560.5 486.0,560.7 486.7,560.9 487.5,561.2 488.2,561.4 489.0,561.6 489.7,561.9 490.4,562.1 491.2,562.4 491.9,562.7 492.7,562.9 493.4,563.2 494.2,563.5 494.9,563.7 495.7,564.0 496.4,564.3 497.2,564.6 497.9,564.8 498.7,565.1 499.4,565.4 500.2,565.7 500.9,566.0 501.6,566.2 502.4,566.5 503.1,566.8 503.9,567.1 504.6,567.3 505.4,567.6 506.1,567.9 506.9,568.2 507.6,568.4 508.4,568.7 509.1,568.9 509.9,569.2 510.6,569.5 511.4,569.7 512.1,570.0 512.8,570.2 513.6,570.5 514.3,570.7 515.1,570.9 515.8,571.2 516.6,571.4 517.3,571.6 518.1,571.8 518.8,572.0 519.6,572.3 520.3,572.5 521.1,572.7 521.8,572.9 522.6,573.1 523.3,573.3 524.1,573.5 524.8,573.7 525.5,573.8 526.3,574.0 527.0,574.2 527.8,574.4 528.5,574.6 529.3,574.7 530.0,574.9 530.8,575.1 531.5,575.3 532.3,575.4 533.0,575.6 533.8,575.8 534.5,576.0 535.3,576.1 536.0,576.3 536.8,576.5 537.5,576.6 538.2,576.8 539.0,577.0 539.7,577.1 540.5,577.3 541.2,577.5 542.0,577.6 542.7,577.8 543.5,577.9 544.2,578.1 545.0,578.2 545.7,578.4 546.5,578.5 547.2,578.7 548.0,578.8 548.7,578.9 549.4,579.1 550.2,579.2 550.9,579.3 551.7,579.4 552.4,579.5 553.2,579.6 553.9,579.7 554.7,579.8 555.4,579.9 556.2,580.0 556.9,580.1 557.7,580.2 558.4,580.2 559.2,580.3 559.9,580.4 560.7,580.5 561.4,580.5 562.1,580.6 562.9,580.7 563.6,580.8 564.4,580.8 565.1,580.9 565.9,581.0 566.6,581.0 567.4,581.1 568.1,581.2 568.9,581.2 569.6,581.3 570.4,581.4 571.1,581.4 571.9,581.5 572.6,581.6 573.3,581.6 574.1,581.7 574.8,581.8 575.6,581.9 576.3,581.9 577.1,582.0 577.8,582.1 578.6,582.1 579.3,582.2 580.1,582.3 580.8,582.3 581.6,582.4 582.3,582.5 583.1,582.5 583.8,582.6 584.5,582.7 585.3,582.7 586.0,582.8 586.8,582.9 587.5,582.9 588.3,583.0 589.0,583.1 589.8,583.1 590.5,583.2 591.3,583.2 592.0,583.3 592.8,583.4 593.5,583.4 594.3,583.5 595.0,583.5 595.8,583.6 596.5,583.7 597.2,583.7 598.0,583.8 598.7,583.9 599.5,583.9 600.2,584.0 601.0,584.0 601.7,584.1 602.5,584.2 603.2,584.2 604.0,584.3 604.7,584.4 605.5,584.5 606.2,584.5 607.0,584.6 607.7,584.7 608.4,584.7 609.2,584.8 609.9,584.9 610.7,585.0 611.4,585.0 612.2,585.1 612.9,585.2 613.7,585.3 614.4,585.4 615.2,585.4 615.9,585.5 616.7,585.6 617.4,585.7 618.2,585.9 618.9,586.0 619.7,586.1 620.4,586.2 621.1,586.4 621.9,586.5 622.6,586.6 623.4,586.8 624.1,586.9 624.9,587.0 625.6,587.2 626.4,587.3 627.1,587.4 627.9,587.5 628.6,587.5 629.4,587.6 630.1,587.7 630.9,587.7 631.6,587.8 632.4,587.8 633.1,587.8 633.8,587.9 634.6,587.9 635.3,587.9 636.1,587.9 636.8,587.9 637.6,588.0 638.3,588.0 639.1,588.0 639.8,588.0 640.6,588.0 641.3,588.0 642.1,588.0 642.8,588.0 643.6,588.0 644.3,588.0 645.0,588.0 645.8,588.0 646.5,588.0 647.3,588.0 648.0,588.0 648.8,588.1 649.5,588.1 650.3,588.1 651.0,588.1 651.8,588.1 652.5,588.1 653.3,588.1 654.0,588.1 654.8,588.1 655.5,588.1 656.3,588.1 657.0,588.1 657.7,588.1 658.5,588.1 659.2,588.1 660.0,588.1 660.7,588.1 661.5,588.1 662.2,588.1 663.0,588.1 663.7,588.1 664.5,588.1 665.2,588.1 666.0,588.1 666.7,588.1 667.5,588.1 668.2,588.1" stroke="#0000ff"/>
<path d="M369.4,573.1 370.2,573.1 370.9,573.1 371.7,573.2 372.4,573.2 373.2,573.2 373.9,573.2 374.7,573.2 375.4,573.2 376.2,573.2 376.9,573.2 377.7,573.2 378.4,573.2 379.2,573.2 379.9,573.2 380.7,573.2 381.4,573.2 382.1,573.2 382.9,573.2 383.6,573.2 384.4,573.2 385.1,573.2 385.9,573.2 386.6,573.2 387.4,573.2 388.1,573.2 388.9,573.2 389.6,573.2 390.4,573.2 391.1,573.2 391.9,573.2 392.6,573.2 393.4,573.2 394.1,573.2 394.8,573.2 395.6,573.2 396.3,573.2 397.1,573.2 397.8,573.2 398.6,573.2 399.3,573.2 400.1,573.2 400.8,573.2 401.6,573.2 402.3,573.2 403.1,573.2 403.8,573.2 404.6,573.2 405.3,573.2 406.0,573.2 406.8,573.2 407.5,573.2 408.3,573.2 409.0,573.2 409.8,573.2 410.5,573.2 411.3,573.2 412.0,573.2 412.8,573.2 413.5,573.2 414.3,573.2 415.0,573.2 415.8,573.3 416.5,573.3 417.2,573.3 418.0,573.3 418.7,573.3 419.5,573.3 420.2,573.3 421.0,573.3 421.7,573.3 422.5,573.3 423.2,573.3 424.0,573.3 424.7,573.3 425.5,573.3 426.2,573.3 427.0,573.3 427.7,573.3 428.5,573.3 429.2,573.4 429.9,573.4 430.7,573.4 431.4,573.4 432.2,573.4 432.9,573.4 433.7,573.4 434.4,573.4 435.2,573.4 435.9,573.4 436.7,573.4 437.4,573.4 438.2,573.5 438.9,573.5 439.7,573.5 440.4,573.5 441.1,573.5 441.9,573.5 442.6,573.5 443.4,573.5 444.1,573.5 444.9,573.6 445.6,573.6 446.4,573.6 447.1,573.6 447.9,573.6 448.6,573.6 449.4,573.6 450.1,573.7 450.9,573.7 451.6,573.7 452.4,573.7 453.1,573.7 453.8,573.7 454.6,573.8 455.3,573.8 456.1,573.8 456.8,573.8 457.6,573.8 458.3,573.8 459.1,573.9 459.8,573.9 460.6,573.9 461.3,573.9 462.1,573.9 462.8,574.0 463.6,574.0 464.3,574.0 465.1,574.0 465.8,574.0 466.5,574.1 467.3,574.1 468.0,574.1 468.8,574.1 469.5,574.2 470.3,574.2 471.0,574.2 471.8,574.2 472.5,574.3 473.3,574.3 474.0,574.3 474.8,574.3 475.5,574.4 476.3,574.4 477.0,574.4 477.7,574.4 478.5,574.5 479.2,574.5 480.0,574.5 480.7,574.6 481.5,574.6 482.2,574.6 483.0,574.6 483.7,574.7 484.5,574.7 485.2,574.7 486.0,574.8 486.7,574.8 487.5,574.8 488.2,574.9 489.0,574.9 489.7,574.9 490.4,575.0 491.2,575.0 491.9,575.0 492.7,575.1 493.4,575.1 494.2,575.2 494.9,575.2 495.7,575.2 496.4,575.3 497.2,575.3 497.9,575.3 498.7,575.4 499.4,575.4 500.2,575.5 500.9,575.5 501.6,575.5 502.4,575.6 503.1,575.6 503.9,575.7 504.6,575.7 505.4,575.7 506.1,575.8 506.9,575.8 507.6,575.9 508.4,575.9 509.1,575.9 509.9,576.0 510.6,576.0 511.4,576.1 512.1,576.1 512.8,576.1 513.6,576.2 514.3,576.2 515.1,576.3 515.8,576.3 516.6,576.3 517.3,576.4 518.1,576.4 518.8,576.4 519.6,576.5 520.3,576.5 521.1,576.6 521.8,576.6 522.6,576.6 523.3,576.7 524.1,576.7 524.8,576.7 525.5,576.8 526.3,576.8 527.0,576.8 527.8,576.9 528.5,576.9 529.3,576.9 530.0,576.9 530.8,577.0 531.5,577.0 532.3,577.0 533.0,577.0 533.8,577.0 534.5,577.1 535.3,577.1 536.0,577.1 536.8,577.1 537.5,577.0 538.2,577.0 539.0,577.0 539.7,576.9 540.5,576.9 541.2,576.8 542.0,576.7 542.7,576.5 543.5,576.4 544.2,576.2 545.0,576.0 545.7,575.7 546.5,575.4 547.2,575.1 548.0,574.8 548.7,574.3 549.4,573.9 550.2,573.4 550.9,572.8 551.7,572.2 552.4,571.5 553.2,570.8 553.9,570.0 554.7,569.2 555.4,568.3 556.2,567.4 556.9,566.3 557.7,565.3 558.4,564.2 559.2,563.0 559.9,561.8 560.7,560.6 561.4,559.3 562.1,558.0 562.9,556.6 563.6,555.3 564.4,553.9 565.1,552.5 565.9,551.2 566.6,549.8 567.4,548.5 568.1,547.2 568.9,546.0 569.6,544.8 570.4,543.7 571.1,542.6 571.9,541.7 572.6,540.9 573.3,540.1 574.1,539.5 574.8,539.0 575.6,538.7 576.3,538.5 577.1,538.4 577.8,538.5 578.6,538.7 579.3,539.1 580.1,539.6 580.8,540.3 581.6,541.0 582.3,541.9 583.1,542.9 583.8,544.0 584.5,545.2 585.3,546.5 586.0,547.8 586.8,549.1 587.5,550.6 588.3,552.0 589.0,553.5 589.8,554.9 590.5,556.4 591.3,557.9 592.0,559.3 592.8,560.8 593.5,562.2 594.3,563.6 595.0,564.9 595.8,566.2 596.5,567.5 597.2,568.7 598.0,569.9 598.7,571.0 599.5,572.0 600.2,573.0 601.0,574.0 601.7,574.9 602.5,575.7 603.2,576.5 604.0,577.2 604.7,577.9 605.5,578.6 606.2,579.2 607.0,579.7 607.7,580.2 608.4,580.7 609.2,581.1 609.9,581.6 610.7,581.9 611.4,582.3 612.2,582.6 612.9,582.9 613.7,583.2 614.4,583.4 615.2,583.7 615.9,583.9 616.7,584.2 617.4,584.4 618.2,584.6 618.9,584.8 619.7,585.0 620.4,585.2 621.1,585.4 621.9,585.6 622.6,585.8 623.4,586.0 624.1,586.2 624.9,586.3 625.6,586.5 626.4,586.6 627.1,586.7 627.9,586.9 628.6,587.0 629.4,587.1 630.1,587.2 630.9,587.2 631.6,587.3 632.4,587.3 633.1,587.4 633.8,587.4 634.6,587.5 635.3,587.5 636.1,587.5 636.8,587.6 637.6,587.6 638.3,587.6 639.1,587.6 639.8,587.6 640.6,587.7 641.3,587.7 642.1,587.7 642.8,587.7 643.6,587.7 644.3,587.7 645.0,587.8 645.8,587.8 646.5,587.8 647.3,587.8 648.0,587.8 648.8,587.8 649.5,587.8 650.3,587.8 651.0,587.9 651.8,587.9 652.5,587.9 653.3,587.9 654.0,587.9 654.8,587.9 655.5,587.9 656.3,587.9 657.0,587.9 657.7,587.9 658.5,587.9 659.2,588.0 660.0,588.0 660.7,588.0 661.5,588.0 662.2,588.0 663.0,588.0 663.7,588.0 664.5,588.0 665.2,588.0 666.0,588.0 666.7,588.0 667.5,588.0 668.2,588.0" stroke="#0000ff"/>
<path d="M369.4,572.3 370.2,572.3 370.9,572.3 371.7,572.3 372.4,572.3 373.2,572.3 373.9,572.2 374.7,572.2 375.4,572.2 376.2,572.2 376.9,572.2 377.7,572.2 378.4,572.1 379.2,572.1 379.9,572.1 380.7,572.1 381.4,572.1 382.1,572.0 382.9,572.0 383.6,572.0 384.4,572.0 385.1,571.9 385.9,571.9 386.6,571.9 387.4,571.9 388.1,571.8 388.9,571.8 389.6,571.8 390.4,571.7 391.1,571.7 391.9,571.7 392.6,571.6 393.4,571.6 394.1,571.5 394.8,571.5 395.6,571.4 396.3,571.4 397.1,571.3 397.8,571.3 398.6,571.2 399.3,571.2 400.1,571.1 400.8,571.1 401.6,571.0 402.3,570.9 403.1,570.8 403.8,570.8 404.6,570.7 405.3,570.6 406.0,570.5 406.8,570.5 407.5,570.4 408.3,570.3 409.0,570.2 409.8,570.1 410.5,570.0 411.3,569.9 412.0,569.8 412.8,569.7 413.5,569.6 414.3,569.4 415.0,569.3 415.8,569.2 416.5,569.1 417.2,568.9 418.0,568.8 418.7,568.7 419.5,568.5 420.2,568.4 421.0,568.2 421.7,568.1 422.5,567.9 423.2,567.7 424.0,567.6 424.7,567.4 425.5,567.2 426.2,567.0 427.0,566.8 427.7,566.7 428.5,566.5 429.2,566.3 429.9,566.1 430.7,565.9 431.4,565.7 432.2,565.4 432.9,565.2 433.7,565.0 434.4,564.8 435.2,564.6 435.9,564.3 436.7,564.1 437.4,563.9 438.2,563.6 438.9,563.4 439.7,563.2 440.4,562.9 441.1,562.7 441.9,562.4 442.6,562.2 443.4,561.9 444.1,561.7 444.9,561.4 445.6,561.1 446.4,560.9 447.1,560.6 447.9,560.3 448.6,560.1 449.4,559.8 450.1,559.5 450.9,559.2 451.6,559.0 452.4,558.7 453.1,558.4 453.8,558.1 454.6,557.9 455.3,557.6 456.1,557.3 456.8,557.0 457.6,556.7 458.3,556.4 459.1,556.1 459.8,555.8 460.6,555.5 461.3,555.2 462.1,554.9 462.8,554.6 463.6,554.3 464.3,554.0 465.1,553.7 465.8,553.4 466.5,553.1 467.3,552.8 468.0,552.4 468.8,552.1 469.5,551.8 470.3,551.5 471.0,551.1 471.8,550.8 472.5,550.4 473.3,550.1 474.0,549.7 474.8,549.4 475.5,549.0 476.3,548.6 477.0,548.3 477.7,547.9 478.5,547.5 479.2,547.1 480.0,546.7 480.7,546.3 481.5,545.9 482.2,545.5 483.0,545.1 483.7,544.7 484.5,544.3 485.2,543.9 486.0,543.5 486.7,543.1 487.5,542.7 488.2,542.3 489.0,541.8 489.7,541.4 490.4,541.0 491.2,540.6 491.9,540.2 492.7,539.8 493.4,539.4 494.2,539.0 494.9,538.6 495.7,538.3 496.4,537.9 497.2,537.6 497.9,537.2 498.7,536.9 499.4,536.6 500.2,536.3 500.9,536.0 501.6,535.7 502.4,535.4 503.1,535.2 503.9,534.9 504.6,534.7 505.4,534.5 506.1,534.4 506.9,534.2 507.6,534.0 508.4,533.9 509.1,533.8 509.9,533.7 510.6,533.6 511.4,533.6 512.1,533.5 512.8,533.4 513.6,533.4 514.3,533.3 515.1,533.3 515.8,533.2 516.6,533.2 517.3,533.1 518.1,532.9 518.8,532.7 519.6,532.5 520.3,532.2 521.1,531.9 521.8,531.4 522.6,530.9 523.3,530.3 524.1,529.5 524.8,528.6 525.5,527.6 526.3,526.5 527.0,525.3 527.8,523.9 528.5,522.3 529.3,520.7 530.0,518.9 530.8,517.0 531.5,515.0 532.3,512.9 533.0,510.7 533.8,508.5 534.5,506.3 535.3,504.1 536.0,502.0 536.8,500.0 537.5,498.1 538.2,496.4 539.0,494.9 539.7,493.7 540.5,492.8 541.2,492.3 542.0,492.1 542.7,492.3 543.5,492.9 544.2,493.9 545.0,495.2 545.7,496.9 546.5,498.8 547.2,501.0 548.0,503.4 548.7,505.9 549.4,508.4 550.2,511.1 550.9,513.7 551.7,516.2 552.4,518.7 553.2,521.1 553.9,523.4 554.7,525.5 555.4,527.4 556.2,529.2 556.9,530.7 557.7,532.1 558.4,533.2 559.2,534.2 559.9,535.0 560.7,535.6 561.4,536.0 562.1,536.3 562.9,536.4 563.6,536.4 564.4,536.3 565.1,536.1 565.9,535.7 566.6,535.3 567.4,534.9 568.1,534.4 568.9,533.9 569.6,533.3 570.4,532.8 571.1,532.3 571.9,531.8 572.6,531.3 573.3,530.9 574.1,530.6 574.8,530.3 575.6,530.1 576.3,530.0 577.1,530.0 577.8,530.0 578.6,530.1 579.3,530.3 580.1,530.6 580.8,530.9 581.6,531.3 582.3,531.7 583.1,532.2 583.8,532.7 584.5,533.2 585.3,533.7 586.0,534.1 586.8,534.6 587.5,535.0 588.3,535.4 589.0,535.7 589.8,535.9 590.5,536.1 591.3,536.2 592.0,536.2 592.8,536.1 593.5,535.9 594.3,535.7 595.0,535.3 595.8,534.9 596.5,534.4 597.2,533.8 598.0,533.2 598.7,532.5 599.5,531.8 600.2,531.1 601.0,530.4 601.7,529.8 602.5,529.2 603.2,528.6 604.0,528.1 604.7,527.8 605.5,527.5 606.2,527.2 607.0,527.0 607.7,526.8 608.4,526.5 609.2,526.1 609.9,525.4 610.7,524.3 611.4,522.9 612.2,520.9 612.9,518.4 613.7,515.2 614.4,511.4 615.2,507.0 615.9,502.1 616.7,496.9 617.4,491.5 618.2,486.3 618.9,481.4 619.7,477.2 620.4,474.1 621.1,472.2 621.9,472.0 622.6,473.4 623.4,476.5 624.1,481.3 624.9,487.4 625.6,494.7 626.4,502.7 627.1,511.2 627.9,519.7 628.6,528.2 629.4,536.3 630.1,543.8 630.9,550.7 631.6,556.7 632.4,562.1 633.1,566.6 633.8,570.4 634.6,573.5 635.3,576.1 636.1,578.1 636.8,579.7 637.6,581.0 638.3,581.9 639.1,582.7 639.8,583.2 640.6,583.7 641.3,584.1 642.1,584.3 642.8,584.6 643.6,584.8 644.3,584.9 645.0,585.1 645.8,585.2 646.5,585.3 647.3,585.4 648.0,585.5 648.8,585.6 649.5,585.7 650.3,585.8 651.0,585.8 651.8,585.9 652.5,586.0 653.3,586.0 654.0,586.1 654.8,586.1 655.5,586.2 656.3,586.3 657.0,586.3 657.7,586.4 658.5,586.4 659.2,586.4 660.0,586.5 660.7,586.5 661.5,586.6 662.2,586.6 663.0,586.6 663.7,586.7 664.5,586.7 665.2,586.7 666.0,586.8 666.7,586.8 667.5,586.8 668.2,586.8" stroke="#ff0080" stroke-width="1.7"/>
</g>
<rect x="369.45" y="329.0" width="298.75" height="267.00" fill="none" stroke="#000" stroke-width="1.15"/>
<path d="M369.45,367.10h5.0M369.45,405.25h2.6M369.45,443.40h5.0M369.45,481.55h2.6M369.45,519.70h5.0M369.45,557.85h2.6M369.45,596.0v4.7M394.35,596.0v2.9M419.24,596.0v4.7M444.14,596.0v2.9M469.03,596.0v4.7M493.93,596.0v2.9M518.83,596.0v4.7M543.72,596.0v2.9M568.62,596.0v4.7M593.51,596.0v2.9M618.41,596.0v4.7M643.30,596.0v2.9M668.20,596.0v4.7" stroke="#000" stroke-width="1.15" fill="none"/>
<text x="368.95" y="613.60" text-anchor="middle" class="t">240</text>
<text x="418.74" y="613.60" text-anchor="middle" class="t">238</text>
<text x="468.53" y="613.60" text-anchor="middle" class="t">236</text>
<text x="518.33" y="613.60" text-anchor="middle" class="t">234</text>
<text x="568.12" y="613.60" text-anchor="middle" class="t">232</text>
<text x="617.91" y="613.60" text-anchor="middle" class="t">230</text>
<text x="667.70" y="613.60" text-anchor="middle" class="t">228</text>
<text x="528.35" y="630.80" text-anchor="middle" class="a">Binding energy (eV)</text>
<text transform="translate(358.80,435.70) rotate(-90)" text-anchor="middle" class="c">CPS</text>
<path d="M383.40,349.00V369.50" stroke="#000" stroke-width="1.15"/>
<text x="385.85" y="365.30" class="t">5000</text>
<text x="644.10" y="354.50" text-anchor="end" class="t">560</text>
<text x="648.50" y="347.00" class="o">o</text>
<text x="652.80" y="354.50" class="a">C</text>
<clipPath id="c580"><rect x="711.2" y="329.0" width="299.4" height="267.0"/></clipPath>
<g fill="none" stroke-linejoin="round" stroke-width="1.55" clip-path="url(#c580)">
<path d="M711.2,570.8 711.9,570.7 712.7,570.6 713.4,570.4 714.2,570.3 714.9,570.2 715.7,570.2 716.4,570.2 717.2,570.3 717.9,570.4 718.7,570.5 719.4,570.5 720.2,570.6 720.9,570.5 721.7,570.4 722.4,570.3 723.2,570.2 723.9,570.0 724.6,569.9 725.4,569.9 726.1,569.9 726.9,569.9 727.6,569.9 728.4,569.9 729.1,569.9 729.9,569.9 730.6,569.9 731.4,569.8 732.1,569.8 732.9,569.7 733.6,569.6 734.4,569.5 735.1,569.3 735.9,569.1 736.6,568.9 737.3,568.7 738.1,568.6 738.8,568.6 739.6,568.6 740.3,568.6 741.1,568.5 741.8,568.4 742.6,568.2 743.3,568.1 744.1,568.0 744.8,567.9 745.6,567.9 746.3,567.9 747.1,567.9 747.8,568.0 748.6,568.1 749.3,568.2 750.1,568.1 750.8,568.0 751.5,567.7 752.3,567.4 753.0,567.1 753.8,566.9 754.5,566.7 755.3,566.5 756.0,566.5 756.8,566.4 757.5,566.3 758.3,566.2 759.0,566.0 759.8,565.8 760.5,565.5 761.3,565.4 762.0,565.2 762.8,565.0 763.5,564.9 764.2,564.7 765.0,564.5 765.7,564.3 766.5,564.0 767.2,563.7 768.0,563.3 768.7,563.0 769.5,562.6 770.2,562.3 771.0,561.9 771.7,561.6 772.5,561.3 773.2,561.0 774.0,560.6 774.7,560.2 775.5,559.7 776.2,559.3 776.9,558.9 777.7,558.5 778.4,558.3 779.2,558.1 779.9,557.9 780.7,557.7 781.4,557.6 782.2,557.4 782.9,557.2 783.7,557.1 784.4,556.8 785.2,556.6 785.9,556.3 786.7,556.0 787.4,555.7 788.2,555.4 788.9,555.1 789.6,554.8 790.4,554.5 791.1,554.1 791.9,553.8 792.6,553.5 793.4,553.3 794.1,553.0 794.9,552.8 795.6,552.6 796.4,552.4 797.1,552.3 797.9,552.0 798.6,551.8 799.4,551.5 800.1,551.2 800.9,550.9 801.6,550.6 802.3,550.4 803.1,550.1 803.8,549.9 804.6,549.8 805.3,549.6 806.1,549.5 806.8,549.4 807.6,549.3 808.3,549.1 809.1,549.0 809.8,548.8 810.6,548.5 811.3,548.2 812.1,547.9 812.8,547.5 813.6,547.2 814.3,546.9 815.1,546.6 815.8,546.4 816.5,546.2 817.3,546.0 818.0,545.8 818.8,545.6 819.5,545.3 820.3,545.0 821.0,544.6 821.8,544.2 822.5,543.8 823.3,543.3 824.0,542.9 824.8,542.4 825.5,541.9 826.3,541.5 827.0,541.1 827.8,540.6 828.5,540.2 829.2,539.7 830.0,539.3 830.7,538.8 831.5,538.4 832.2,537.9 833.0,537.5 833.7,537.0 834.5,536.6 835.2,536.1 836.0,535.6 836.7,535.2 837.5,534.7 838.2,534.2 839.0,533.7 839.7,533.2 840.5,532.8 841.2,532.4 841.9,532.1 842.7,531.9 843.4,531.8 844.2,531.7 844.9,531.5 845.7,531.2 846.4,530.9 847.2,530.5 847.9,530.1 848.7,529.8 849.4,529.5 850.2,529.3 850.9,529.2 851.7,529.0 852.4,528.9 853.2,528.8 853.9,528.7 854.6,528.7 855.4,528.6 856.1,528.5 856.9,528.4 857.6,528.2 858.4,527.9 859.1,527.6 859.9,527.2 860.6,526.8 861.4,526.4 862.1,526.0 862.9,525.5 863.6,525.0 864.4,524.5 865.1,523.8 865.9,523.1 866.6,522.3 867.3,521.5 868.1,520.7 868.8,519.8 869.6,519.0 870.3,518.0 871.1,516.9 871.8,515.8 872.6,514.5 873.3,513.2 874.1,511.8 874.8,510.3 875.6,508.7 876.3,507.0 877.1,505.3 877.8,503.5 878.6,501.6 879.3,499.7 880.1,497.8 880.8,495.9 881.5,494.2 882.3,492.6 883.0,491.2 883.8,490.2 884.5,489.5 885.3,489.2 886.0,489.5 886.8,490.2 887.5,491.5 888.3,493.4 889.0,495.8 889.8,498.5 890.5,501.6 891.3,504.9 892.0,508.1 892.8,511.4 893.5,514.4 894.2,517.3 895.0,519.9 895.7,522.2 896.5,524.1 897.2,525.8 898.0,527.2 898.7,528.4 899.5,529.5 900.2,530.4 901.0,531.2 901.7,531.9 902.5,532.4 903.2,532.9 904.0,533.3 904.7,533.4 905.5,533.5 906.2,533.4 906.9,533.3 907.7,533.0 908.4,532.7 909.2,532.4 909.9,532.0 910.7,531.7 911.4,531.3 912.2,531.0 912.9,530.7 913.7,530.4 914.4,530.1 915.2,529.8 915.9,529.4 916.7,529.0 917.4,528.6 918.2,528.2 918.9,527.8 919.6,527.6 920.4,527.4 921.1,527.3 921.9,527.2 922.6,527.2 923.4,527.1 924.1,527.0 924.9,526.9 925.6,526.8 926.4,526.7 927.1,526.6 927.9,526.5 928.6,526.4 929.4,526.4 930.1,526.4 930.9,526.6 931.6,526.9 932.3,527.3 933.1,527.7 933.8,528.2 934.6,528.6 935.3,529.0 936.1,529.4 936.8,529.7 937.6,530.1 938.3,530.4 939.1,530.7 939.8,531.1 940.6,531.4 941.3,531.7 942.1,532.0 942.8,532.2 943.6,532.3 944.3,532.4 945.1,532.4 945.8,532.5 946.5,532.5 947.3,532.6 948.0,532.6 948.8,532.5 949.5,532.2 950.3,531.6 951.0,530.7 951.8,529.3 952.5,527.5 953.3,525.3 954.0,522.8 954.8,519.9 955.5,516.6 956.3,513.1 957.0,509.3 957.8,505.3 958.5,501.2 959.2,497.0 960.0,493.0 960.7,489.2 961.5,485.8 962.2,483.0 963.0,480.7 963.7,479.0 964.5,477.9 965.2,477.4 966.0,477.5 966.7,478.4 967.5,480.1 968.2,482.7 969.0,486.2 969.7,490.8 970.5,496.2 971.2,502.3 971.9,508.9 972.7,515.9 973.4,522.9 974.2,529.8 974.9,536.4 975.7,542.6 976.4,548.3 977.2,553.6 977.9,558.3 978.7,562.5 979.4,566.2 980.2,569.5 980.9,572.2 981.7,574.5 982.4,576.5 983.2,578.1 983.9,579.4 984.6,580.6 985.4,581.5 986.1,582.3 986.9,582.9 987.6,583.4 988.4,583.7 989.1,584.0 989.9,584.2 990.6,584.4 991.4,584.5 992.1,584.5 992.9,584.6 993.6,584.6 994.4,584.6 995.1,584.6 995.9,584.6 996.6,584.6 997.3,584.7 998.1,584.8 998.8,585.0 999.6,585.1 1000.3,585.2 1001.1,585.3 1001.8,585.4 1002.6,585.4 1003.3,585.5 1004.1,585.7 1004.8,585.9 1005.6,586.1 1006.3,586.3 1007.1,586.5 1007.8,586.5 1008.6,586.5 1009.3,586.5 1010.0,586.4" stroke="#000000" stroke-width="1.45"/>
<path d="M711.2,571.6 711.9,571.6 712.7,571.6 713.4,571.6 714.2,571.6 714.9,571.6 715.7,571.6 716.4,571.6 717.2,571.6 717.9,571.6 718.7,571.6 719.4,571.6 720.2,571.6 720.9,571.6 721.7,571.6 722.4,571.6 723.2,571.6 723.9,571.6 724.6,571.6 725.4,571.6 726.1,571.6 726.9,571.6 727.6,571.6 728.4,571.6 729.1,571.6 729.9,571.6 730.6,571.6 731.4,571.6 732.1,571.6 732.9,571.6 733.6,571.6 734.4,571.6 735.1,571.6 735.9,571.7 736.6,571.7 737.3,571.7 738.1,571.7 738.8,571.7 739.6,571.7 740.3,571.7 741.1,571.7 741.8,571.7 742.6,571.7 743.3,571.7 744.1,571.7 744.8,571.7 745.6,571.7 746.3,571.7 747.1,571.7 747.8,571.7 748.6,571.7 749.3,571.7 750.1,571.7 750.8,571.7 751.5,571.7 752.3,571.7 753.0,571.7 753.8,571.7 754.5,571.7 755.3,571.7 756.0,571.8 756.8,571.8 757.5,571.8 758.3,571.8 759.0,571.8 759.8,571.8 760.5,571.8 761.3,571.8 762.0,571.8 762.8,571.8 763.5,571.8 764.2,571.8 765.0,571.8 765.7,571.9 766.5,571.9 767.2,571.9 768.0,571.9 768.7,571.9 769.5,571.9 770.2,571.9 771.0,571.9 771.7,571.9 772.5,571.9 773.2,572.0 774.0,572.0 774.7,572.0 775.5,572.0 776.2,572.0 776.9,572.0 777.7,572.0 778.4,572.1 779.2,572.1 779.9,572.1 780.7,572.1 781.4,572.1 782.2,572.1 782.9,572.2 783.7,572.2 784.4,572.2 785.2,572.2 785.9,572.2 786.7,572.2 787.4,572.3 788.2,572.3 788.9,572.3 789.6,572.3 790.4,572.3 791.1,572.4 791.9,572.4 792.6,572.4 793.4,572.4 794.1,572.4 794.9,572.5 795.6,572.5 796.4,572.5 797.1,572.5 797.9,572.6 798.6,572.6 799.4,572.6 800.1,572.6 800.9,572.7 801.6,572.7 802.3,572.7 803.1,572.7 803.8,572.8 804.6,572.8 805.3,572.8 806.1,572.8 806.8,572.9 807.6,572.9 808.3,572.9 809.1,572.9 809.8,573.0 810.6,573.0 811.3,573.0 812.1,573.1 812.8,573.1 813.6,573.1 814.3,573.2 815.1,573.2 815.8,573.2 816.5,573.2 817.3,573.3 818.0,573.3 818.8,573.3 819.5,573.4 820.3,573.4 821.0,573.4 821.8,573.5 822.5,573.5 823.3,573.5 824.0,573.6 824.8,573.6 825.5,573.6 826.3,573.7 827.0,573.7 827.8,573.8 828.5,573.8 829.2,573.8 830.0,573.9 830.7,573.9 831.5,574.0 832.2,574.0 833.0,574.0 833.7,574.1 834.5,574.1 835.2,574.2 836.0,574.2 836.7,574.2 837.5,574.3 838.2,574.3 839.0,574.4 839.7,574.4 840.5,574.5 841.2,574.5 841.9,574.6 842.7,574.6 843.4,574.7 844.2,574.7 844.9,574.8 845.7,574.8 846.4,574.9 847.2,574.9 847.9,575.0 848.7,575.0 849.4,575.1 850.2,575.1 850.9,575.2 851.7,575.2 852.4,575.3 853.2,575.3 853.9,575.4 854.6,575.4 855.4,575.5 856.1,575.6 856.9,575.6 857.6,575.7 858.4,575.7 859.1,575.8 859.9,575.8 860.6,575.9 861.4,575.9 862.1,576.0 862.9,576.1 863.6,576.1 864.4,576.2 865.1,576.2 865.9,576.3 866.6,576.4 867.3,576.4 868.1,576.5 868.8,576.6 869.6,576.6 870.3,576.7 871.1,576.8 871.8,576.8 872.6,576.9 873.3,577.0 874.1,577.0 874.8,577.1 875.6,577.2 876.3,577.3 877.1,577.4 877.8,577.4 878.6,577.5 879.3,577.6 880.1,577.7 880.8,577.8 881.5,577.9 882.3,578.0 883.0,578.1 883.8,578.2 884.5,578.3 885.3,578.4 886.0,578.5 886.8,578.6 887.5,578.7 888.3,578.8 889.0,578.9 889.8,579.0 890.5,579.1 891.3,579.2 892.0,579.3 892.8,579.4 893.5,579.4 894.2,579.5 895.0,579.6 895.7,579.7 896.5,579.7 897.2,579.8 898.0,579.8 898.7,579.9 899.5,580.0 900.2,580.0 901.0,580.1 901.7,580.1 902.5,580.2 903.2,580.3 904.0,580.3 904.7,580.4 905.5,580.4 906.2,580.5 906.9,580.5 907.7,580.6 908.4,580.6 909.2,580.7 909.9,580.7 910.7,580.8 911.4,580.9 912.2,580.9 912.9,581.0 913.7,581.0 914.4,581.1 915.2,581.2 915.9,581.2 916.7,581.3 917.4,581.3 918.2,581.4 918.9,581.5 919.6,581.5 920.4,581.6 921.1,581.6 921.9,581.7 922.6,581.8 923.4,581.8 924.1,581.9 924.9,582.0 925.6,582.0 926.4,582.1 927.1,582.2 927.9,582.2 928.6,582.3 929.4,582.3 930.1,582.4 930.9,582.5 931.6,582.5 932.3,582.6 933.1,582.7 933.8,582.7 934.6,582.8 935.3,582.9 936.1,582.9 936.8,583.0 937.6,583.0 938.3,583.1 939.1,583.1 939.8,583.2 940.6,583.3 941.3,583.3 942.1,583.4 942.8,583.4 943.6,583.5 944.3,583.5 945.1,583.6 945.8,583.6 946.5,583.7 947.3,583.7 948.0,583.8 948.8,583.8 949.5,583.9 950.3,583.9 951.0,584.0 951.8,584.1 952.5,584.1 953.3,584.2 954.0,584.2 954.8,584.3 955.5,584.4 956.3,584.5 957.0,584.5 957.8,584.6 958.5,584.7 959.2,584.8 960.0,584.9 960.7,585.0 961.5,585.2 962.2,585.3 963.0,585.4 963.7,585.5 964.5,585.7 965.2,585.8 966.0,585.9 966.7,586.0 967.5,586.2 968.2,586.3 969.0,586.4 969.7,586.5 970.5,586.6 971.2,586.7 971.9,586.8 972.7,586.9 973.4,586.9 974.2,587.0 974.9,587.1 975.7,587.1 976.4,587.2 977.2,587.2 977.9,587.2 978.7,587.3 979.4,587.3 980.2,587.3 980.9,587.3 981.7,587.4 982.4,587.4 983.2,587.4 983.9,587.4 984.6,587.4 985.4,587.4 986.1,587.4 986.9,587.4 987.6,587.4 988.4,587.4 989.1,587.4 989.9,587.4 990.6,587.4 991.4,587.4 992.1,587.4 992.9,587.5 993.6,587.5 994.4,587.5 995.1,587.5 995.9,587.5 996.6,587.5 997.3,587.5 998.1,587.5 998.8,587.5 999.6,587.5 1000.3,587.5 1001.1,587.5 1001.8,587.5 1002.6,587.5 1003.3,587.5 1004.1,587.5 1004.8,587.5 1005.6,587.5 1006.3,587.5 1007.1,587.5 1007.8,587.5 1008.6,587.5 1009.3,587.5 1010.0,587.5" stroke="#808000"/>
<path d="M711.2,571.5 711.9,571.5 712.7,571.5 713.4,571.5 714.2,571.5 714.9,571.5 715.7,571.5 716.4,571.5 717.2,571.5 717.9,571.5 718.7,571.5 719.4,571.5 720.2,571.5 720.9,571.5 721.7,571.5 722.4,571.5 723.2,571.5 723.9,571.5 724.6,571.5 725.4,571.5 726.1,571.5 726.9,571.5 727.6,571.5 728.4,571.5 729.1,571.5 729.9,571.5 730.6,571.5 731.4,571.5 732.1,571.5 732.9,571.5 733.6,571.5 734.4,571.5 735.1,571.5 735.9,571.5 736.6,571.5 737.3,571.5 738.1,571.5 738.8,571.5 739.6,571.5 740.3,571.5 741.1,571.5 741.8,571.5 742.6,571.5 743.3,571.5 744.1,571.5 744.8,571.5 745.6,571.5 746.3,571.5 747.1,571.5 747.8,571.5 748.6,571.5 749.3,571.5 750.1,571.5 750.8,571.5 751.5,571.5 752.3,571.5 753.0,571.5 753.8,571.5 754.5,571.5 755.3,571.5 756.0,571.5 756.8,571.5 757.5,571.5 758.3,571.5 759.0,571.5 759.8,571.5 760.5,571.5 761.3,571.5 762.0,571.5 762.8,571.5 763.5,571.5 764.2,571.5 765.0,571.5 765.7,571.5 766.5,571.6 767.2,571.6 768.0,571.6 768.7,571.6 769.5,571.6 770.2,571.6 771.0,571.6 771.7,571.6 772.5,571.6 773.2,571.6 774.0,571.6 774.7,571.6 775.5,571.6 776.2,571.6 776.9,571.6 777.7,571.6 778.4,571.6 779.2,571.6 779.9,571.6 780.7,571.6 781.4,571.6 782.2,571.6 782.9,571.6 783.7,571.6 784.4,571.6 785.2,571.6 785.9,571.6 786.7,571.6 787.4,571.6 788.2,571.6 788.9,571.6 789.6,571.5 790.4,571.5 791.1,571.5 791.9,571.5 792.6,571.5 793.4,571.4 794.1,571.4 794.9,571.3 795.6,571.3 796.4,571.2 797.1,571.2 797.9,571.1 798.6,571.0 799.4,571.0 800.1,570.9 800.9,570.8 801.6,570.7 802.3,570.5 803.1,570.4 803.8,570.3 804.6,570.1 805.3,570.0 806.1,569.8 806.8,569.6 807.6,569.4 808.3,569.2 809.1,568.9 809.8,568.7 810.6,568.4 811.3,568.1 812.1,567.8 812.8,567.5 813.6,567.2 814.3,566.8 815.1,566.5 815.8,566.1 816.5,565.7 817.3,565.2 818.0,564.8 818.8,564.3 819.5,563.8 820.3,563.3 821.0,562.8 821.8,562.3 822.5,561.7 823.3,561.1 824.0,560.6 824.8,560.0 825.5,559.3 826.3,558.7 827.0,558.1 827.8,557.5 828.5,556.8 829.2,556.2 830.0,555.5 830.7,554.9 831.5,554.2 832.2,553.6 833.0,552.9 833.7,552.3 834.5,551.7 835.2,551.1 836.0,550.5 836.7,549.9 837.5,549.3 838.2,548.8 839.0,548.3 839.7,547.8 840.5,547.4 841.2,547.0 841.9,546.6 842.7,546.2 843.4,545.9 844.2,545.7 844.9,545.5 845.7,545.3 846.4,545.2 847.2,545.1 847.9,545.1 848.7,545.1 849.4,545.2 850.2,545.3 850.9,545.5 851.7,545.8 852.4,546.1 853.2,546.4 853.9,546.8 854.6,547.3 855.4,547.7 856.1,548.3 856.9,548.8 857.6,549.4 858.4,550.0 859.1,550.6 859.9,551.3 860.6,552.0 861.4,552.7 862.1,553.4 862.9,554.1 863.6,554.8 864.4,555.5 865.1,556.2 865.9,556.9 866.6,557.7 867.3,558.4 868.1,559.1 868.8,559.8 869.6,560.5 870.3,561.1 871.1,561.8 871.8,562.5 872.6,563.1 873.3,563.7 874.1,564.4 874.8,565.0 875.6,565.6 876.3,566.1 877.1,566.7 877.8,567.2 878.6,567.8 879.3,568.3 880.1,568.8 880.8,569.3 881.5,569.8 882.3,570.2 883.0,570.7 883.8,571.1 884.5,571.6 885.3,572.0 886.0,572.4 886.8,572.7 887.5,573.1 888.3,573.5 889.0,573.8 889.8,574.1 890.5,574.4 891.3,574.7 892.0,575.0 892.8,575.3 893.5,575.5 894.2,575.7 895.0,576.0 895.7,576.2 896.5,576.4 897.2,576.6 898.0,576.8 898.7,576.9 899.5,577.1 900.2,577.3 901.0,577.4 901.7,577.6 902.5,577.7 903.2,577.8 904.0,578.0 904.7,578.1 905.5,578.2 906.2,578.3 906.9,578.5 907.7,578.6 908.4,578.7 909.2,578.8 909.9,578.9 910.7,579.0 911.4,579.1 912.2,579.2 912.9,579.3 913.7,579.4 914.4,579.5 915.2,579.6 915.9,579.7 916.7,579.8 917.4,579.9 918.2,580.0 918.9,580.1 919.6,580.1 920.4,580.2 921.1,580.3 921.9,580.4 922.6,580.5 923.4,580.6 924.1,580.7 924.9,580.8 925.6,580.9 926.4,580.9 927.1,581.0 927.9,581.1 928.6,581.2 929.4,581.3 930.1,581.4 930.9,581.4 931.6,581.5 932.3,581.6 933.1,581.7 933.8,581.8 934.6,581.8 935.3,581.9 936.1,582.0 936.8,582.1 937.6,582.1 938.3,582.2 939.1,582.3 939.8,582.4 940.6,582.4 941.3,582.5 942.1,582.6 942.8,582.6 943.6,582.7 944.3,582.8 945.1,582.8 945.8,582.9 946.5,582.9 947.3,583.0 948.0,583.1 948.8,583.1 949.5,583.2 950.3,583.3 951.0,583.3 951.8,583.4 952.5,583.5 953.3,583.5 954.0,583.6 954.8,583.7 955.5,583.8 956.3,583.8 957.0,583.9 957.8,584.0 958.5,584.1 959.2,584.2 960.0,584.4 960.7,584.5 961.5,584.6 962.2,584.7 963.0,584.9 963.7,585.0 964.5,585.1 965.2,585.3 966.0,585.4 966.7,585.5 967.5,585.6 968.2,585.8 969.0,585.9 969.7,586.0 970.5,586.1 971.2,586.2 971.9,586.3 972.7,586.4 973.4,586.5 974.2,586.5 974.9,586.6 975.7,586.7 976.4,586.7 977.2,586.8 977.9,586.8 978.7,586.8 979.4,586.9 980.2,586.9 980.9,586.9 981.7,586.9 982.4,587.0 983.2,587.0 983.9,587.0 984.6,587.0 985.4,587.0 986.1,587.0 986.9,587.0 987.6,587.0 988.4,587.1 989.1,587.1 989.9,587.1 990.6,587.1 991.4,587.1 992.1,587.1 992.9,587.1 993.6,587.1 994.4,587.1 995.1,587.1 995.9,587.1 996.6,587.1 997.3,587.1 998.1,587.1 998.8,587.1 999.6,587.2 1000.3,587.2 1001.1,587.2 1001.8,587.2 1002.6,587.2 1003.3,587.2 1004.1,587.2 1004.8,587.2 1005.6,587.2 1006.3,587.2 1007.1,587.2 1007.8,587.2 1008.6,587.2 1009.3,587.2 1010.0,587.2" stroke="#00ff00"/>
<path d="M711.2,571.5 711.9,571.5 712.7,571.5 713.4,571.5 714.2,571.5 714.9,571.5 715.7,571.5 716.4,571.5 717.2,571.5 717.9,571.5 718.7,571.5 719.4,571.5 720.2,571.5 720.9,571.5 721.7,571.5 722.4,571.5 723.2,571.5 723.9,571.5 724.6,571.5 725.4,571.5 726.1,571.5 726.9,571.5 727.6,571.5 728.4,571.5 729.1,571.5 729.9,571.5 730.6,571.5 731.4,571.5 732.1,571.5 732.9,571.5 733.6,571.5 734.4,571.5 735.1,571.5 735.9,571.5 736.6,571.5 737.3,571.5 738.1,571.5 738.8,571.5 739.6,571.5 740.3,571.5 741.1,571.5 741.8,571.5 742.6,571.5 743.3,571.5 744.1,571.5 744.8,571.5 745.6,571.5 746.3,571.5 747.1,571.5 747.8,571.5 748.6,571.5 749.3,571.5 750.1,571.5 750.8,571.5 751.5,571.5 752.3,571.5 753.0,571.5 753.8,571.5 754.5,571.5 755.3,571.5 756.0,571.5 756.8,571.5 757.5,571.5 758.3,571.5 759.0,571.5 759.8,571.6 760.5,571.6 761.3,571.6 762.0,571.6 762.8,571.6 763.5,571.6 764.2,571.6 765.0,571.6 765.7,571.6 766.5,571.6 767.2,571.6 768.0,571.6 768.7,571.6 769.5,571.6 770.2,571.6 771.0,571.7 771.7,571.7 772.5,571.7 773.2,571.7 774.0,571.7 774.7,571.7 775.5,571.7 776.2,571.7 776.9,571.7 777.7,571.7 778.4,571.8 779.2,571.8 779.9,571.8 780.7,571.8 781.4,571.8 782.2,571.8 782.9,571.8 783.7,571.9 784.4,571.9 785.2,571.9 785.9,571.9 786.7,571.9 787.4,571.9 788.2,571.9 788.9,572.0 789.6,572.0 790.4,572.0 791.1,572.0 791.9,572.0 792.6,572.0 793.4,572.1 794.1,572.1 794.9,572.1 795.6,572.1 796.4,572.1 797.1,572.2 797.9,572.2 798.6,572.2 799.4,572.2 800.1,572.2 800.9,572.3 801.6,572.3 802.3,572.3 803.1,572.3 803.8,572.3 804.6,572.4 805.3,572.4 806.1,572.4 806.8,572.4 807.6,572.4 808.3,572.5 809.1,572.5 809.8,572.5 810.6,572.5 811.3,572.6 812.1,572.6 812.8,572.6 813.6,572.6 814.3,572.6 815.1,572.7 815.8,572.7 816.5,572.7 817.3,572.7 818.0,572.8 818.8,572.8 819.5,572.8 820.3,572.8 821.0,572.9 821.8,572.9 822.5,572.9 823.3,572.9 824.0,573.0 824.8,573.0 825.5,573.0 826.3,573.1 827.0,573.1 827.8,573.1 828.5,573.1 829.2,573.2 830.0,573.2 830.7,573.2 831.5,573.3 832.2,573.3 833.0,573.3 833.7,573.4 834.5,573.4 835.2,573.4 836.0,573.5 836.7,573.5 837.5,573.5 838.2,573.6 839.0,573.6 839.7,573.6 840.5,573.7 841.2,573.7 841.9,573.7 842.7,573.8 843.4,573.8 844.2,573.8 844.9,573.8 845.7,573.9 846.4,573.9 847.2,573.9 847.9,574.0 848.7,574.0 849.4,574.0 850.2,574.1 850.9,574.1 851.7,574.1 852.4,574.1 853.2,574.2 853.9,574.2 854.6,574.2 855.4,574.2 856.1,574.2 856.9,574.2 857.6,574.3 858.4,574.3 859.1,574.3 859.9,574.3 860.6,574.3 861.4,574.3 862.1,574.3 862.9,574.2 863.6,574.2 864.4,574.2 865.1,574.2 865.9,574.1 866.6,574.1 867.3,574.1 868.1,574.0 868.8,574.0 869.6,573.9 870.3,573.8 871.1,573.7 871.8,573.7 872.6,573.6 873.3,573.4 874.1,573.3 874.8,573.2 875.6,573.1 876.3,572.9 877.1,572.7 877.8,572.6 878.6,572.4 879.3,572.2 880.1,571.9 880.8,571.7 881.5,571.4 882.3,571.2 883.0,570.9 883.8,570.6 884.5,570.2 885.3,569.9 886.0,569.5 886.8,569.1 887.5,568.7 888.3,568.3 889.0,567.8 889.8,567.3 890.5,566.8 891.3,566.2 892.0,565.6 892.8,565.0 893.5,564.4 894.2,563.7 895.0,563.0 895.7,562.3 896.5,561.5 897.2,560.8 898.0,560.0 898.7,559.1 899.5,558.3 900.2,557.4 901.0,556.5 901.7,555.6 902.5,554.7 903.2,553.8 904.0,552.8 904.7,551.8 905.5,550.9 906.2,549.9 906.9,548.9 907.7,547.9 908.4,546.9 909.2,545.9 909.9,544.9 910.7,544.0 911.4,543.0 912.2,542.0 912.9,541.1 913.7,540.2 914.4,539.2 915.2,538.4 915.9,537.5 916.7,536.7 917.4,535.9 918.2,535.1 918.9,534.4 919.6,533.8 920.4,533.1 921.1,532.5 921.9,532.0 922.6,531.6 923.4,531.1 924.1,530.8 924.9,530.5 925.6,530.3 926.4,530.1 927.1,530.0 927.9,530.0 928.6,530.0 929.4,530.1 930.1,530.2 930.9,530.5 931.6,530.7 932.3,531.1 933.1,531.5 933.8,531.9 934.6,532.5 935.3,533.0 936.1,533.7 936.8,534.3 937.6,535.1 938.3,535.8 939.1,536.6 939.8,537.5 940.6,538.4 941.3,539.3 942.1,540.3 942.8,541.2 943.6,542.3 944.3,543.3 945.1,544.4 945.8,545.4 946.5,546.5 947.3,547.6 948.0,548.7 948.8,549.9 949.5,551.0 950.3,552.1 951.0,553.3 951.8,554.4 952.5,555.5 953.3,556.6 954.0,557.7 954.8,558.9 955.5,560.0 956.3,561.0 957.0,562.1 957.8,563.2 958.5,564.2 959.2,565.3 960.0,566.3 960.7,567.3 961.5,568.3 962.2,569.2 963.0,570.2 963.7,571.1 964.5,572.0 965.2,572.8 966.0,573.7 966.7,574.5 967.5,575.2 968.2,576.0 969.0,576.7 969.7,577.4 970.5,578.0 971.2,578.6 971.9,579.2 972.7,579.8 973.4,580.3 974.2,580.8 974.9,581.3 975.7,581.7 976.4,582.1 977.2,582.5 977.9,582.8 978.7,583.2 979.4,583.5 980.2,583.8 980.9,584.0 981.7,584.3 982.4,584.5 983.2,584.7 983.9,584.9 984.6,585.1 985.4,585.3 986.1,585.5 986.9,585.6 987.6,585.7 988.4,585.9 989.1,586.0 989.9,586.1 990.6,586.2 991.4,586.3 992.1,586.4 992.9,586.5 993.6,586.5 994.4,586.6 995.1,586.7 995.9,586.7 996.6,586.8 997.3,586.8 998.1,586.8 998.8,586.9 999.6,586.9 1000.3,587.0 1001.1,587.0 1001.8,587.0 1002.6,587.0 1003.3,587.1 1004.1,587.1 1004.8,587.1 1005.6,587.1 1006.3,587.1 1007.1,587.2 1007.8,587.2 1008.6,587.2 1009.3,587.2 1010.0,587.2" stroke="#00ff00"/>
<path d="M711.2,571.5 711.9,571.5 712.7,571.5 713.4,571.5 714.2,571.5 714.9,571.5 715.7,571.5 716.4,571.5 717.2,571.5 717.9,571.5 718.7,571.5 719.4,571.5 720.2,571.5 720.9,571.5 721.7,571.5 722.4,571.5 723.2,571.5 723.9,571.5 724.6,571.5 725.4,571.5 726.1,571.5 726.9,571.5 727.6,571.5 728.4,571.5 729.1,571.5 729.9,571.5 730.6,571.5 731.4,571.5 732.1,571.5 732.9,571.5 733.6,571.5 734.4,571.5 735.1,571.5 735.9,571.6 736.6,571.6 737.3,571.6 738.1,571.6 738.8,571.6 739.6,571.6 740.3,571.6 741.1,571.6 741.8,571.6 742.6,571.6 743.3,571.6 744.1,571.6 744.8,571.6 745.6,571.6 746.3,571.6 747.1,571.6 747.8,571.6 748.6,571.6 749.3,571.6 750.1,571.6 750.8,571.6 751.5,571.6 752.3,571.6 753.0,571.6 753.8,571.6 754.5,571.6 755.3,571.6 756.0,571.6 756.8,571.6 757.5,571.6 758.3,571.6 759.0,571.6 759.8,571.6 760.5,571.7 761.3,571.7 762.0,571.7 762.8,571.7 763.5,571.7 764.2,571.7 765.0,571.7 765.7,571.7 766.5,571.7 767.2,571.7 768.0,571.7 768.7,571.7 769.5,571.7 770.2,571.7 771.0,571.8 771.7,571.8 772.5,571.8 773.2,571.8 774.0,571.8 774.7,571.8 775.5,571.8 776.2,571.8 776.9,571.8 777.7,571.8 778.4,571.9 779.2,571.9 779.9,571.9 780.7,571.9 781.4,571.9 782.2,571.9 782.9,571.9 783.7,571.9 784.4,572.0 785.2,572.0 785.9,572.0 786.7,572.0 787.4,572.0 788.2,572.0 788.9,572.1 789.6,572.1 790.4,572.1 791.1,572.1 791.9,572.1 792.6,572.1 793.4,572.2 794.1,572.2 794.9,572.2 795.6,572.2 796.4,572.2 797.1,572.2 797.9,572.3 798.6,572.3 799.4,572.3 800.1,572.3 800.9,572.3 801.6,572.4 802.3,572.4 803.1,572.4 803.8,572.4 804.6,572.4 805.3,572.5 806.1,572.5 806.8,572.5 807.6,572.5 808.3,572.5 809.1,572.6 809.8,572.6 810.6,572.6 811.3,572.6 812.1,572.6 812.8,572.7 813.6,572.7 814.3,572.7 815.1,572.7 815.8,572.7 816.5,572.8 817.3,572.8 818.0,572.8 818.8,572.8 819.5,572.8 820.3,572.9 821.0,572.9 821.8,572.9 822.5,572.9 823.3,572.9 824.0,572.9 824.8,573.0 825.5,573.0 826.3,573.0 827.0,573.0 827.8,573.0 828.5,573.1 829.2,573.1 830.0,573.1 830.7,573.1 831.5,573.1 832.2,573.1 833.0,573.1 833.7,573.1 834.5,573.1 835.2,573.1 836.0,573.1 836.7,573.1 837.5,573.1 838.2,573.0 839.0,573.0 839.7,572.9 840.5,572.9 841.2,572.8 841.9,572.7 842.7,572.6 843.4,572.5 844.2,572.4 844.9,572.2 845.7,572.1 846.4,571.9 847.2,571.7 847.9,571.4 848.7,571.2 849.4,570.8 850.2,570.5 850.9,570.1 851.7,569.7 852.4,569.3 853.2,568.8 853.9,568.2 854.6,567.7 855.4,567.0 856.1,566.4 856.9,565.6 857.6,564.9 858.4,564.0 859.1,563.2 859.9,562.3 860.6,561.3 861.4,560.3 862.1,559.2 862.9,558.2 863.6,557.0 864.4,555.9 865.1,554.7 865.9,553.5 866.6,552.3 867.3,551.1 868.1,549.8 868.8,548.6 869.6,547.4 870.3,546.2 871.1,545.1 871.8,544.0 872.6,542.9 873.3,541.9 874.1,541.0 874.8,540.1 875.6,539.4 876.3,538.7 877.1,538.1 877.8,537.7 878.6,537.4 879.3,537.2 880.1,537.1 880.8,537.2 881.5,537.4 882.3,537.7 883.0,538.2 883.8,538.8 884.5,539.5 885.3,540.3 886.0,541.2 886.8,542.2 887.5,543.3 888.3,544.4 889.0,545.7 889.8,546.9 890.5,548.2 891.3,549.6 892.0,550.9 892.8,552.3 893.5,553.6 894.2,555.0 895.0,556.4 895.7,557.7 896.5,559.0 897.2,560.3 898.0,561.5 898.7,562.8 899.5,563.9 900.2,565.1 901.0,566.2 901.7,567.2 902.5,568.2 903.2,569.2 904.0,570.1 904.7,570.9 905.5,571.7 906.2,572.5 906.9,573.2 907.7,573.8 908.4,574.4 909.2,575.0 909.9,575.5 910.7,576.0 911.4,576.5 912.2,576.9 912.9,577.3 913.7,577.7 914.4,578.0 915.2,578.3 915.9,578.6 916.7,578.9 917.4,579.1 918.2,579.4 918.9,579.6 919.6,579.8 920.4,579.9 921.1,580.1 921.9,580.3 922.6,580.4 923.4,580.6 924.1,580.7 924.9,580.8 925.6,580.9 926.4,581.1 927.1,581.2 927.9,581.3 928.6,581.4 929.4,581.5 930.1,581.6 930.9,581.7 931.6,581.8 932.3,581.9 933.1,581.9 933.8,582.0 934.6,582.1 935.3,582.2 936.1,582.3 936.8,582.3 937.6,582.4 938.3,582.5 939.1,582.6 939.8,582.6 940.6,582.7 941.3,582.8 942.1,582.8 942.8,582.9 943.6,583.0 944.3,583.0 945.1,583.1 945.8,583.2 946.5,583.2 947.3,583.3 948.0,583.3 948.8,583.4 949.5,583.5 950.3,583.5 951.0,583.6 951.8,583.7 952.5,583.7 953.3,583.8 954.0,583.9 954.8,583.9 955.5,584.0 956.3,584.1 957.0,584.2 957.8,584.3 958.5,584.4 959.2,584.5 960.0,584.6 960.7,584.7 961.5,584.8 962.2,585.0 963.0,585.1 963.7,585.2 964.5,585.4 965.2,585.5 966.0,585.6 966.7,585.8 967.5,585.9 968.2,586.0 969.0,586.1 969.7,586.2 970.5,586.4 971.2,586.4 971.9,586.5 972.7,586.6 973.4,586.7 974.2,586.8 974.9,586.8 975.7,586.9 976.4,586.9 977.2,587.0 977.9,587.0 978.7,587.1 979.4,587.1 980.2,587.1 980.9,587.1 981.7,587.1 982.4,587.2 983.2,587.2 983.9,587.2 984.6,587.2 985.4,587.2 986.1,587.2 986.9,587.2 987.6,587.2 988.4,587.3 989.1,587.3 989.9,587.3 990.6,587.3 991.4,587.3 992.1,587.3 992.9,587.3 993.6,587.3 994.4,587.3 995.1,587.3 995.9,587.3 996.6,587.3 997.3,587.3 998.1,587.3 998.8,587.3 999.6,587.3 1000.3,587.3 1001.1,587.3 1001.8,587.3 1002.6,587.3 1003.3,587.3 1004.1,587.3 1004.8,587.4 1005.6,587.4 1006.3,587.4 1007.1,587.4 1007.8,587.4 1008.6,587.4 1009.3,587.4 1010.0,587.4" stroke="#ff8000"/>
<path d="M711.2,571.6 711.9,571.6 712.7,571.6 713.4,571.6 714.2,571.6 714.9,571.6 715.7,571.6 716.4,571.6 717.2,571.6 717.9,571.6 718.7,571.6 719.4,571.6 720.2,571.6 720.9,571.6 721.7,571.6 722.4,571.6 723.2,571.6 723.9,571.6 724.6,571.6 725.4,571.6 726.1,571.6 726.9,571.6 727.6,571.6 728.4,571.6 729.1,571.6 729.9,571.6 730.6,571.6 731.4,571.6 732.1,571.6 732.9,571.6 733.6,571.6 734.4,571.6 735.1,571.6 735.9,571.6 736.6,571.6 737.3,571.6 738.1,571.6 738.8,571.6 739.6,571.7 740.3,571.7 741.1,571.7 741.8,571.7 742.6,571.7 743.3,571.7 744.1,571.7 744.8,571.7 745.6,571.7 746.3,571.7 747.1,571.7 747.8,571.7 748.6,571.7 749.3,571.7 750.1,571.7 750.8,571.7 751.5,571.7 752.3,571.7 753.0,571.7 753.8,571.7 754.5,571.7 755.3,571.7 756.0,571.7 756.8,571.7 757.5,571.8 758.3,571.8 759.0,571.8 759.8,571.8 760.5,571.8 761.3,571.8 762.0,571.8 762.8,571.8 763.5,571.8 764.2,571.8 765.0,571.8 765.7,571.8 766.5,571.8 767.2,571.9 768.0,571.9 768.7,571.9 769.5,571.9 770.2,571.9 771.0,571.9 771.7,571.9 772.5,571.9 773.2,571.9 774.0,572.0 774.7,572.0 775.5,572.0 776.2,572.0 776.9,572.0 777.7,572.0 778.4,572.0 779.2,572.1 779.9,572.1 780.7,572.1 781.4,572.1 782.2,572.1 782.9,572.1 783.7,572.1 784.4,572.2 785.2,572.2 785.9,572.2 786.7,572.2 787.4,572.2 788.2,572.3 788.9,572.3 789.6,572.3 790.4,572.3 791.1,572.3 791.9,572.4 792.6,572.4 793.4,572.4 794.1,572.4 794.9,572.4 795.6,572.5 796.4,572.5 797.1,572.5 797.9,572.5 798.6,572.6 799.4,572.6 800.1,572.6 800.9,572.6 801.6,572.7 802.3,572.7 803.1,572.7 803.8,572.7 804.6,572.8 805.3,572.8 806.1,572.8 806.8,572.8 807.6,572.9 808.3,572.9 809.1,572.9 809.8,572.9 810.6,573.0 811.3,573.0 812.1,573.0 812.8,573.1 813.6,573.1 814.3,573.1 815.1,573.1 815.8,573.2 816.5,573.2 817.3,573.2 818.0,573.3 818.8,573.3 819.5,573.3 820.3,573.4 821.0,573.4 821.8,573.4 822.5,573.5 823.3,573.5 824.0,573.5 824.8,573.6 825.5,573.6 826.3,573.6 827.0,573.7 827.8,573.7 828.5,573.8 829.2,573.8 830.0,573.8 830.7,573.9 831.5,573.9 832.2,574.0 833.0,574.0 833.7,574.0 834.5,574.1 835.2,574.1 836.0,574.2 836.7,574.2 837.5,574.3 838.2,574.3 839.0,574.3 839.7,574.4 840.5,574.4 841.2,574.5 841.9,574.5 842.7,574.6 843.4,574.6 844.2,574.7 844.9,574.7 845.7,574.8 846.4,574.8 847.2,574.9 847.9,574.9 848.7,575.0 849.4,575.0 850.2,575.1 850.9,575.1 851.7,575.2 852.4,575.2 853.2,575.3 853.9,575.3 854.6,575.4 855.4,575.4 856.1,575.5 856.9,575.6 857.6,575.6 858.4,575.7 859.1,575.7 859.9,575.8 860.6,575.8 861.4,575.9 862.1,575.9 862.9,576.0 863.6,576.1 864.4,576.1 865.1,576.2 865.9,576.2 866.6,576.3 867.3,576.4 868.1,576.4 868.8,576.5 869.6,576.5 870.3,576.6 871.1,576.7 871.8,576.7 872.6,576.8 873.3,576.9 874.1,577.0 874.8,577.0 875.6,577.1 876.3,577.2 877.1,577.3 877.8,577.3 878.6,577.4 879.3,577.5 880.1,577.6 880.8,577.7 881.5,577.8 882.3,577.9 883.0,578.0 883.8,578.1 884.5,578.2 885.3,578.3 886.0,578.4 886.8,578.5 887.5,578.6 888.3,578.7 889.0,578.8 889.8,578.9 890.5,579.0 891.3,579.1 892.0,579.1 892.8,579.2 893.5,579.3 894.2,579.4 895.0,579.4 895.7,579.5 896.5,579.6 897.2,579.6 898.0,579.7 898.7,579.7 899.5,579.8 900.2,579.9 901.0,579.9 901.7,580.0 902.5,580.0 903.2,580.1 904.0,580.1 904.7,580.2 905.5,580.2 906.2,580.3 906.9,580.3 907.7,580.4 908.4,580.4 909.2,580.5 909.9,580.5 910.7,580.6 911.4,580.6 912.2,580.7 912.9,580.7 913.7,580.8 914.4,580.8 915.2,580.9 915.9,580.9 916.7,581.0 917.4,581.0 918.2,581.1 918.9,581.1 919.6,581.2 920.4,581.2 921.1,581.3 921.9,581.3 922.6,581.4 923.4,581.4 924.1,581.5 924.9,581.5 925.6,581.6 926.4,581.6 927.1,581.7 927.9,581.7 928.6,581.8 929.4,581.8 930.1,581.9 930.9,581.9 931.6,581.9 932.3,582.0 933.1,582.0 933.8,582.0 934.6,582.1 935.3,582.1 936.1,582.1 936.8,582.1 937.6,582.1 938.3,582.1 939.1,582.0 939.8,582.0 940.6,581.9 941.3,581.7 942.1,581.6 942.8,581.3 943.6,581.0 944.3,580.5 945.1,580.0 945.8,579.3 946.5,578.4 947.3,577.3 948.0,575.9 948.8,574.3 949.5,572.4 950.3,570.0 951.0,567.4 951.8,564.3 952.5,560.8 953.3,556.8 954.0,552.4 954.8,547.7 955.5,542.6 956.3,537.2 957.0,531.5 957.8,525.8 958.5,520.0 959.2,514.3 960.0,508.9 960.7,503.9 961.5,499.4 962.2,495.6 963.0,492.6 963.7,490.5 964.5,489.4 965.2,489.3 966.0,490.3 966.7,492.4 967.5,495.3 968.2,499.1 969.0,503.6 969.7,508.7 970.5,514.2 971.2,520.0 971.9,526.0 972.7,531.9 973.4,537.7 974.2,543.4 974.9,548.7 975.7,553.7 976.4,558.4 977.2,562.5 977.9,566.3 978.7,569.6 979.4,572.5 980.2,575.0 980.9,577.2 981.7,579.0 982.4,580.5 983.2,581.7 983.9,582.7 984.6,583.6 985.4,584.2 986.1,584.8 986.9,585.2 987.6,585.5 988.4,585.8 989.1,586.0 989.9,586.2 990.6,586.3 991.4,586.4 992.1,586.5 992.9,586.6 993.6,586.6 994.4,586.7 995.1,586.7 995.9,586.8 996.6,586.8 997.3,586.8 998.1,586.9 998.8,586.9 999.6,586.9 1000.3,586.9 1001.1,587.0 1001.8,587.0 1002.6,587.0 1003.3,587.0 1004.1,587.0 1004.8,587.1 1005.6,587.1 1006.3,587.1 1007.1,587.1 1007.8,587.1 1008.6,587.1 1009.3,587.1 1010.0,587.2" stroke="#ff8000"/>
<path d="M711.2,571.0 711.9,571.0 712.7,571.0 713.4,571.0 714.2,571.0 714.9,571.0 715.7,571.0 716.4,571.0 717.2,570.9 717.9,570.9 718.7,570.9 719.4,570.9 720.2,570.9 720.9,570.9 721.7,570.8 722.4,570.8 723.2,570.8 723.9,570.8 724.6,570.7 725.4,570.7 726.1,570.7 726.9,570.7 727.6,570.6 728.4,570.6 729.1,570.6 729.9,570.5 730.6,570.5 731.4,570.5 732.1,570.4 732.9,570.4 733.6,570.3 734.4,570.3 735.1,570.2 735.9,570.2 736.6,570.1 737.3,570.1 738.1,570.0 738.8,570.0 739.6,569.9 740.3,569.8 741.1,569.8 741.8,569.7 742.6,569.6 743.3,569.5 744.1,569.5 744.8,569.4 745.6,569.3 746.3,569.2 747.1,569.1 747.8,569.0 748.6,568.9 749.3,568.8 750.1,568.7 750.8,568.6 751.5,568.4 752.3,568.3 753.0,568.2 753.8,568.1 754.5,567.9 755.3,567.8 756.0,567.6 756.8,567.5 757.5,567.3 758.3,567.2 759.0,567.0 759.8,566.9 760.5,566.7 761.3,566.5 762.0,566.3 762.8,566.2 763.5,566.0 764.2,565.8 765.0,565.6 765.7,565.4 766.5,565.2 767.2,565.0 768.0,564.8 768.7,564.6 769.5,564.4 770.2,564.2 771.0,564.0 771.7,563.7 772.5,563.5 773.2,563.3 774.0,563.1 774.7,562.9 775.5,562.6 776.2,562.4 776.9,562.2 777.7,562.0 778.4,561.7 779.2,561.5 779.9,561.3 780.7,561.1 781.4,560.9 782.2,560.6 782.9,560.4 783.7,560.2 784.4,560.0 785.2,559.8 785.9,559.6 786.7,559.4 787.4,559.3 788.2,559.1 788.9,558.9 789.6,558.7 790.4,558.6 791.1,558.4 791.9,558.3 792.6,558.2 793.4,558.1 794.1,557.9 794.9,557.8 795.6,557.8 796.4,557.7 797.1,557.6 797.9,557.6 798.6,557.5 799.4,557.5 800.1,557.5 800.9,557.5 801.6,557.5 802.3,557.5 803.1,557.5 803.8,557.6 804.6,557.7 805.3,557.7 806.1,557.8 806.8,557.9 807.6,558.0 808.3,558.2 809.1,558.3 809.8,558.4 810.6,558.6 811.3,558.8 812.1,558.9 812.8,559.1 813.6,559.3 814.3,559.5 815.1,559.7 815.8,559.9 816.5,560.2 817.3,560.4 818.0,560.6 818.8,560.9 819.5,561.1 820.3,561.4 821.0,561.6 821.8,561.9 822.5,562.2 823.3,562.4 824.0,562.7 824.8,563.0 825.5,563.2 826.3,563.5 827.0,563.8 827.8,564.1 828.5,564.3 829.2,564.6 830.0,564.9 830.7,565.2 831.5,565.4 832.2,565.7 833.0,566.0 833.7,566.3 834.5,566.5 835.2,566.8 836.0,567.0 836.7,567.3 837.5,567.6 838.2,567.8 839.0,568.1 839.7,568.3 840.5,568.6 841.2,568.8 841.9,569.0 842.7,569.3 843.4,569.5 844.2,569.7 844.9,570.0 845.7,570.2 846.4,570.4 847.2,570.6 847.9,570.8 848.7,571.0 849.4,571.2 850.2,571.4 850.9,571.6 851.7,571.8 852.4,572.0 853.2,572.1 853.9,572.3 854.6,572.5 855.4,572.6 856.1,572.8 856.9,573.0 857.6,573.1 858.4,573.3 859.1,573.4 859.9,573.6 860.6,573.7 861.4,573.9 862.1,574.0 862.9,574.1 863.6,574.3 864.4,574.4 865.1,574.5 865.9,574.6 866.6,574.8 867.3,574.9 868.1,575.0 868.8,575.1 869.6,575.2 870.3,575.4 871.1,575.5 871.8,575.6 872.6,575.7 873.3,575.8 874.1,575.9 874.8,576.0 875.6,576.2 876.3,576.3 877.1,576.4 877.8,576.5 878.6,576.6 879.3,576.7 880.1,576.8 880.8,577.0 881.5,577.1 882.3,577.2 883.0,577.3 883.8,577.4 884.5,577.6 885.3,577.7 886.0,577.8 886.8,577.9 887.5,578.0 888.3,578.2 889.0,578.3 889.8,578.4 890.5,578.5 891.3,578.6 892.0,578.7 892.8,578.8 893.5,578.9 894.2,579.0 895.0,579.1 895.7,579.1 896.5,579.2 897.2,579.3 898.0,579.4 898.7,579.4 899.5,579.5 900.2,579.6 901.0,579.6 901.7,579.7 902.5,579.8 903.2,579.8 904.0,579.9 904.7,579.9 905.5,580.0 906.2,580.1 906.9,580.1 907.7,580.2 908.4,580.2 909.2,580.3 909.9,580.4 910.7,580.4 911.4,580.5 912.2,580.6 912.9,580.6 913.7,580.7 914.4,580.7 915.2,580.8 915.9,580.9 916.7,580.9 917.4,581.0 918.2,581.1 918.9,581.1 919.6,581.2 920.4,581.3 921.1,581.3 921.9,581.4 922.6,581.5 923.4,581.5 924.1,581.6 924.9,581.7 925.6,581.7 926.4,581.8 927.1,581.9 927.9,581.9 928.6,582.0 929.4,582.1 930.1,582.1 930.9,582.2 931.6,582.3 932.3,582.3 933.1,582.4 933.8,582.5 934.6,582.5 935.3,582.6 936.1,582.7 936.8,582.7 937.6,582.8 938.3,582.8 939.1,582.9 939.8,583.0 940.6,583.0 941.3,583.1 942.1,583.1 942.8,583.2 943.6,583.3 944.3,583.3 945.1,583.4 945.8,583.4 946.5,583.5 947.3,583.5 948.0,583.6 948.8,583.6 949.5,583.7 950.3,583.7 951.0,583.8 951.8,583.9 952.5,583.9 953.3,584.0 954.0,584.0 954.8,584.1 955.5,584.2 956.3,584.3 957.0,584.4 957.8,584.4 958.5,584.5 959.2,584.6 960.0,584.8 960.7,584.9 961.5,585.0 962.2,585.1 963.0,585.2 963.7,585.4 964.5,585.5 965.2,585.6 966.0,585.7 966.7,585.9 967.5,586.0 968.2,586.1 969.0,586.2 969.7,586.3 970.5,586.4 971.2,586.5 971.9,586.6 972.7,586.7 973.4,586.8 974.2,586.8 974.9,586.9 975.7,587.0 976.4,587.0 977.2,587.1 977.9,587.1 978.7,587.1 979.4,587.1 980.2,587.2 980.9,587.2 981.7,587.2 982.4,587.2 983.2,587.2 983.9,587.2 984.6,587.3 985.4,587.3 986.1,587.3 986.9,587.3 987.6,587.3 988.4,587.3 989.1,587.3 989.9,587.3 990.6,587.3 991.4,587.3 992.1,587.3 992.9,587.3 993.6,587.3 994.4,587.3 995.1,587.3 995.9,587.3 996.6,587.3 997.3,587.3 998.1,587.3 998.8,587.4 999.6,587.4 1000.3,587.4 1001.1,587.4 1001.8,587.4 1002.6,587.4 1003.3,587.4 1004.1,587.4 1004.8,587.4 1005.6,587.4 1006.3,587.4 1007.1,587.4 1007.8,587.4 1008.6,587.4 1009.3,587.4 1010.0,587.4" stroke="#0000ff"/>
<path d="M711.2,571.6 711.9,571.6 712.7,571.6 713.4,571.6 714.2,571.6 714.9,571.6 715.7,571.6 716.4,571.6 717.2,571.6 717.9,571.6 718.7,571.6 719.4,571.6 720.2,571.6 720.9,571.6 721.7,571.6 722.4,571.6 723.2,571.6 723.9,571.6 724.6,571.6 725.4,571.6 726.1,571.6 726.9,571.6 727.6,571.6 728.4,571.6 729.1,571.6 729.9,571.6 730.6,571.6 731.4,571.6 732.1,571.6 732.9,571.6 733.6,571.6 734.4,571.6 735.1,571.6 735.9,571.6 736.6,571.6 737.3,571.6 738.1,571.6 738.8,571.6 739.6,571.6 740.3,571.6 741.1,571.6 741.8,571.6 742.6,571.6 743.3,571.6 744.1,571.6 744.8,571.6 745.6,571.7 746.3,571.7 747.1,571.7 747.8,571.7 748.6,571.7 749.3,571.7 750.1,571.7 750.8,571.7 751.5,571.7 752.3,571.7 753.0,571.7 753.8,571.7 754.5,571.7 755.3,571.7 756.0,571.7 756.8,571.7 757.5,571.7 758.3,571.7 759.0,571.7 759.8,571.7 760.5,571.7 761.3,571.8 762.0,571.8 762.8,571.8 763.5,571.8 764.2,571.8 765.0,571.8 765.7,571.8 766.5,571.8 767.2,571.8 768.0,571.8 768.7,571.8 769.5,571.8 770.2,571.9 771.0,571.9 771.7,571.9 772.5,571.9 773.2,571.9 774.0,571.9 774.7,571.9 775.5,571.9 776.2,572.0 776.9,572.0 777.7,572.0 778.4,572.0 779.2,572.0 779.9,572.0 780.7,572.0 781.4,572.1 782.2,572.1 782.9,572.1 783.7,572.1 784.4,572.1 785.2,572.1 785.9,572.1 786.7,572.2 787.4,572.2 788.2,572.2 788.9,572.2 789.6,572.2 790.4,572.3 791.1,572.3 791.9,572.3 792.6,572.3 793.4,572.3 794.1,572.4 794.9,572.4 795.6,572.4 796.4,572.4 797.1,572.4 797.9,572.5 798.6,572.5 799.4,572.5 800.1,572.5 800.9,572.6 801.6,572.6 802.3,572.6 803.1,572.6 803.8,572.7 804.6,572.7 805.3,572.7 806.1,572.7 806.8,572.8 807.6,572.8 808.3,572.8 809.1,572.8 809.8,572.9 810.6,572.9 811.3,572.9 812.1,572.9 812.8,573.0 813.6,573.0 814.3,573.0 815.1,573.0 815.8,573.1 816.5,573.1 817.3,573.1 818.0,573.1 818.8,573.2 819.5,573.2 820.3,573.2 821.0,573.3 821.8,573.3 822.5,573.3 823.3,573.4 824.0,573.4 824.8,573.4 825.5,573.4 826.3,573.5 827.0,573.5 827.8,573.5 828.5,573.6 829.2,573.6 830.0,573.6 830.7,573.7 831.5,573.7 832.2,573.7 833.0,573.8 833.7,573.8 834.5,573.8 835.2,573.9 836.0,573.9 836.7,574.0 837.5,574.0 838.2,574.0 839.0,574.1 839.7,574.1 840.5,574.1 841.2,574.2 841.9,574.2 842.7,574.2 843.4,574.3 844.2,574.3 844.9,574.4 845.7,574.4 846.4,574.4 847.2,574.5 847.9,574.5 848.7,574.5 849.4,574.6 850.2,574.6 850.9,574.6 851.7,574.6 852.4,574.7 853.2,574.7 853.9,574.7 854.6,574.8 855.4,574.8 856.1,574.8 856.9,574.8 857.6,574.8 858.4,574.8 859.1,574.8 859.9,574.9 860.6,574.9 861.4,574.9 862.1,574.8 862.9,574.8 863.6,574.8 864.4,574.8 865.1,574.7 865.9,574.7 866.6,574.6 867.3,574.5 868.1,574.3 868.8,574.1 869.6,573.9 870.3,573.6 871.1,573.2 871.8,572.7 872.6,572.1 873.3,571.4 874.1,570.6 874.8,569.6 875.6,568.4 876.3,567.1 877.1,565.6 877.8,563.9 878.6,562.1 879.3,560.2 880.1,558.1 880.8,556.0 881.5,553.8 882.3,551.8 883.0,549.8 883.8,548.1 884.5,546.6 885.3,545.6 886.0,545.1 886.8,545.1 887.5,545.7 888.3,546.7 889.0,548.2 889.8,550.1 890.5,552.2 891.3,554.4 892.0,556.7 892.8,559.0 893.5,561.3 894.2,563.4 895.0,565.5 895.7,567.3 896.5,569.0 897.2,570.6 898.0,571.9 898.7,573.1 899.5,574.1 900.2,575.0 901.0,575.7 901.7,576.4 902.5,576.9 903.2,577.4 904.0,577.8 904.7,578.1 905.5,578.4 906.2,578.6 906.9,578.8 907.7,579.0 908.4,579.2 909.2,579.3 909.9,579.5 910.7,579.6 911.4,579.7 912.2,579.9 912.9,580.0 913.7,580.1 914.4,580.2 915.2,580.3 915.9,580.4 916.7,580.5 917.4,580.6 918.2,580.7 918.9,580.8 919.6,580.9 920.4,581.0 921.1,581.0 921.9,581.1 922.6,581.2 923.4,581.3 924.1,581.4 924.9,581.5 925.6,581.6 926.4,581.6 927.1,581.7 927.9,581.8 928.6,581.9 929.4,582.0 930.1,582.0 930.9,582.1 931.6,582.2 932.3,582.3 933.1,582.3 933.8,582.4 934.6,582.5 935.3,582.5 936.1,582.6 936.8,582.7 937.6,582.8 938.3,582.8 939.1,582.9 939.8,582.9 940.6,583.0 941.3,583.1 942.1,583.1 942.8,583.2 943.6,583.3 944.3,583.3 945.1,583.4 945.8,583.4 946.5,583.5 947.3,583.5 948.0,583.6 948.8,583.7 949.5,583.7 950.3,583.8 951.0,583.8 951.8,583.9 952.5,583.9 953.3,584.0 954.0,584.1 954.8,584.2 955.5,584.2 956.3,584.3 957.0,584.4 957.8,584.5 958.5,584.6 959.2,584.7 960.0,584.8 960.7,584.9 961.5,585.0 962.2,585.2 963.0,585.3 963.7,585.4 964.5,585.5 965.2,585.7 966.0,585.8 966.7,585.9 967.5,586.0 968.2,586.2 969.0,586.3 969.7,586.4 970.5,586.5 971.2,586.6 971.9,586.7 972.7,586.8 973.4,586.8 974.2,586.9 974.9,587.0 975.7,587.0 976.4,587.1 977.2,587.1 977.9,587.1 978.7,587.2 979.4,587.2 980.2,587.2 980.9,587.3 981.7,587.3 982.4,587.3 983.2,587.3 983.9,587.3 984.6,587.3 985.4,587.3 986.1,587.3 986.9,587.3 987.6,587.4 988.4,587.4 989.1,587.4 989.9,587.4 990.6,587.4 991.4,587.4 992.1,587.4 992.9,587.4 993.6,587.4 994.4,587.4 995.1,587.4 995.9,587.4 996.6,587.4 997.3,587.4 998.1,587.4 998.8,587.4 999.6,587.4 1000.3,587.4 1001.1,587.4 1001.8,587.4 1002.6,587.4 1003.3,587.4 1004.1,587.4 1004.8,587.4 1005.6,587.4 1006.3,587.4 1007.1,587.4 1007.8,587.4 1008.6,587.4 1009.3,587.4 1010.0,587.4" stroke="#0000ff"/>
<path d="M711.2,570.7 711.9,570.6 712.7,570.6 713.4,570.6 714.2,570.6 714.9,570.6 715.7,570.6 716.4,570.5 717.2,570.5 717.9,570.5 718.7,570.5 719.4,570.5 720.2,570.4 720.9,570.4 721.7,570.4 722.4,570.4 723.2,570.3 723.9,570.3 724.6,570.3 725.4,570.2 726.1,570.2 726.9,570.2 727.6,570.1 728.4,570.1 729.1,570.1 729.9,570.0 730.6,570.0 731.4,569.9 732.1,569.9 732.9,569.8 733.6,569.8 734.4,569.7 735.1,569.6 735.9,569.6 736.6,569.5 737.3,569.4 738.1,569.4 738.8,569.3 739.6,569.2 740.3,569.1 741.1,569.1 741.8,569.0 742.6,568.9 743.3,568.8 744.1,568.7 744.8,568.6 745.6,568.5 746.3,568.4 747.1,568.2 747.8,568.1 748.6,568.0 749.3,567.9 750.1,567.7 750.8,567.6 751.5,567.5 752.3,567.3 753.0,567.2 753.8,567.0 754.5,566.8 755.3,566.7 756.0,566.5 756.8,566.3 757.5,566.1 758.3,565.9 759.0,565.7 759.8,565.5 760.5,565.3 761.3,565.1 762.0,564.9 762.8,564.7 763.5,564.5 764.2,564.2 765.0,564.0 765.7,563.7 766.5,563.5 767.2,563.2 768.0,563.0 768.7,562.7 769.5,562.5 770.2,562.2 771.0,561.9 771.7,561.7 772.5,561.4 773.2,561.1 774.0,560.8 774.7,560.5 775.5,560.2 776.2,559.9 776.9,559.6 777.7,559.3 778.4,559.0 779.2,558.7 779.9,558.4 780.7,558.1 781.4,557.8 782.2,557.5 782.9,557.3 783.7,557.0 784.4,556.7 785.2,556.4 785.9,556.1 786.7,555.8 787.4,555.5 788.2,555.2 788.9,554.9 789.6,554.6 790.4,554.4 791.1,554.1 791.9,553.8 792.6,553.6 793.4,553.3 794.1,553.1 794.9,552.8 795.6,552.6 796.4,552.3 797.1,552.1 797.9,551.9 798.6,551.6 799.4,551.4 800.1,551.2 800.9,551.0 801.6,550.8 802.3,550.6 803.1,550.4 803.8,550.2 804.6,550.0 805.3,549.8 806.1,549.6 806.8,549.4 807.6,549.2 808.3,549.0 809.1,548.8 809.8,548.6 810.6,548.4 811.3,548.1 812.1,547.9 812.8,547.7 813.6,547.4 814.3,547.2 815.1,546.9 815.8,546.6 816.5,546.4 817.3,546.1 818.0,545.7 818.8,545.4 819.5,545.1 820.3,544.8 821.0,544.4 821.8,544.0 822.5,543.6 823.3,543.3 824.0,542.8 824.8,542.4 825.5,542.0 826.3,541.6 827.0,541.1 827.8,540.7 828.5,540.2 829.2,539.8 830.0,539.3 830.7,538.8 831.5,538.4 832.2,537.9 833.0,537.4 833.7,537.0 834.5,536.5 835.2,536.0 836.0,535.6 836.7,535.2 837.5,534.7 838.2,534.3 839.0,533.9 839.7,533.5 840.5,533.2 841.2,532.8 841.9,532.5 842.7,532.2 843.4,531.9 844.2,531.6 844.9,531.3 845.7,531.1 846.4,530.8 847.2,530.6 847.9,530.4 848.7,530.2 849.4,530.0 850.2,529.8 850.9,529.7 851.7,529.5 852.4,529.3 853.2,529.2 853.9,529.0 854.6,528.8 855.4,528.7 856.1,528.4 856.9,528.2 857.6,527.9 858.4,527.6 859.1,527.3 859.9,527.0 860.6,526.6 861.4,526.1 862.1,525.6 862.9,525.1 863.6,524.5 864.4,523.9 865.1,523.3 865.9,522.6 866.6,521.9 867.3,521.1 868.1,520.3 868.8,519.4 869.6,518.5 870.3,517.5 871.1,516.5 871.8,515.4 872.6,514.2 873.3,512.9 874.1,511.6 874.8,510.1 875.6,508.6 876.3,507.0 877.1,505.3 877.8,503.4 878.6,501.6 879.3,499.7 880.1,497.7 880.8,495.8 881.5,494.0 882.3,492.3 883.0,490.9 883.8,489.7 884.5,488.9 885.3,488.6 886.0,488.9 886.8,489.7 887.5,491.1 888.3,493.0 889.0,495.4 889.8,498.1 890.5,501.1 891.3,504.1 892.0,507.3 892.8,510.3 893.5,513.3 894.2,516.1 895.0,518.8 895.7,521.2 896.5,523.3 897.2,525.3 898.0,526.9 898.7,528.4 899.5,529.6 900.2,530.6 901.0,531.3 901.7,531.9 902.5,532.4 903.2,532.7 904.0,532.9 904.7,532.9 905.5,532.9 906.2,532.9 906.9,532.7 907.7,532.5 908.4,532.3 909.2,532.0 909.9,531.7 910.7,531.4 911.4,531.1 912.2,530.8 912.9,530.5 913.7,530.1 914.4,529.8 915.2,529.5 915.9,529.1 916.7,528.8 917.4,528.5 918.2,528.2 918.9,527.9 919.6,527.6 920.4,527.3 921.1,527.1 921.9,526.9 922.6,526.7 923.4,526.5 924.1,526.4 924.9,526.3 925.6,526.2 926.4,526.2 927.1,526.3 927.9,526.4 928.6,526.5 929.4,526.7 930.1,526.9 930.9,527.2 931.6,527.6 932.3,528.0 933.1,528.4 933.8,528.9 934.6,529.4 935.3,530.0 936.1,530.7 936.8,531.3 937.6,532.0 938.3,532.8 939.1,533.5 939.8,534.3 940.6,535.1 941.3,535.8 942.1,536.6 942.8,537.3 943.6,538.0 944.3,538.6 945.1,539.0 945.8,539.4 946.5,539.6 947.3,539.6 948.0,539.3 948.8,538.8 949.5,537.9 950.3,536.7 951.0,535.1 951.8,533.1 952.5,530.7 953.3,527.8 954.0,524.6 954.8,520.9 955.5,516.8 956.3,512.4 957.0,507.8 957.8,503.0 958.5,498.2 959.2,493.5 960.0,489.0 960.7,484.9 961.5,481.3 962.2,478.3 963.0,476.2 963.7,474.9 964.5,474.6 965.2,475.3 966.0,477.0 966.7,479.7 967.5,483.3 968.2,487.8 969.0,492.9 969.7,498.6 970.5,504.6 971.2,511.0 971.9,517.4 972.7,523.8 973.4,530.2 974.2,536.2 974.9,542.0 975.7,547.4 976.4,552.4 977.2,556.9 977.9,561.0 978.7,564.7 979.4,567.8 980.2,570.6 980.9,573.0 981.7,575.1 982.4,576.8 983.2,578.3 983.9,579.5 984.6,580.5 985.4,581.3 986.1,582.0 986.9,582.6 987.6,583.1 988.4,583.5 989.1,583.8 989.9,584.1 990.6,584.3 991.4,584.5 992.1,584.7 992.9,584.8 993.6,585.0 994.4,585.1 995.1,585.2 995.9,585.3 996.6,585.4 997.3,585.5 998.1,585.6 998.8,585.7 999.6,585.7 1000.3,585.8 1001.1,585.8 1001.8,585.9 1002.6,585.9 1003.3,586.0 1004.1,586.0 1004.8,586.1 1005.6,586.1 1006.3,586.2 1007.1,586.2 1007.8,586.2 1008.6,586.3 1009.3,586.3 1010.0,586.3" stroke="#ff0080" stroke-width="1.7"/>
</g>
<rect x="711.2" y="329.0" width="298.85" height="267.00" fill="none" stroke="#000" stroke-width="1.15"/>
<path d="M711.2,367.10h5.0M711.2,405.25h2.6M711.2,443.40h5.0M711.2,481.55h2.6M711.2,519.70h5.0M711.2,557.85h2.6M711.20,596.0v4.7M736.10,596.0v2.9M761.01,596.0v4.7M785.91,596.0v2.9M810.82,596.0v4.7M835.72,596.0v2.9M860.62,596.0v4.7M885.53,596.0v2.9M910.43,596.0v4.7M935.34,596.0v2.9M960.24,596.0v4.7M985.15,596.0v2.9M1010.05,596.0v4.7" stroke="#000" stroke-width="1.15" fill="none"/>
<text x="710.70" y="613.60" text-anchor="middle" class="t">240</text>
<text x="760.51" y="613.60" text-anchor="middle" class="t">238</text>
<text x="810.32" y="613.60" text-anchor="middle" class="t">236</text>
<text x="860.12" y="613.60" text-anchor="middle" class="t">234</text>
<text x="909.93" y="613.60" text-anchor="middle" class="t">232</text>
<text x="959.74" y="613.60" text-anchor="middle" class="t">230</text>
<text x="1009.55" y="613.60" text-anchor="middle" class="t">228</text>
<text x="870.30" y="630.50" text-anchor="middle" class="a">Binding energy (eV)</text>
<text transform="translate(700.75,435.50) rotate(-90)" text-anchor="middle" class="c">CPS</text>
<path d="M724.50,348.00V368.40" stroke="#000" stroke-width="1.15"/>
<text x="727.00" y="364.10" class="t">5000</text>
<text x="986.30" y="353.50" text-anchor="end" class="t">580</text>
<text x="990.80" y="345.80" class="o">o</text>
<text x="994.90" y="353.50" class="a">C</text>
</svg>
</body></html>
